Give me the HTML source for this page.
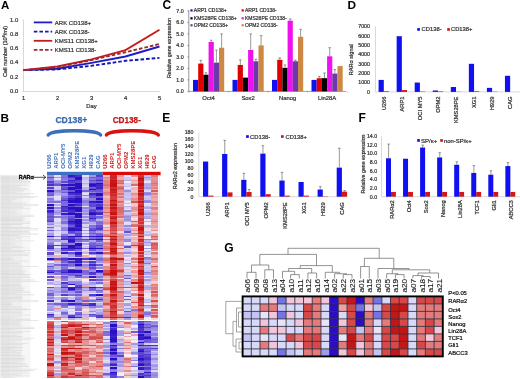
<!DOCTYPE html>
<html><head><meta charset="utf-8"><style>
html,body{margin:0;padding:0;background:#fff;}
body{width:520px;height:379px;overflow:hidden;}
svg{display:block;font-family:"Liberation Sans", sans-serif;filter:blur(0.35px);}
</style></head><body>
<svg width="520" height="379" viewBox="0 0 520 379">
<rect width="520" height="379" fill="#fff"/>
<text x="1.00" y="9.20" font-size="11.5" text-anchor="start" fill="#000" stroke="#000" stroke-width="0" font-weight="bold" >A</text>
<line x1="23.50" y1="20.00" x2="23.50" y2="91.50" stroke="#c8c8c8" stroke-width="0.7" />
<line x1="23.50" y1="91.50" x2="160.00" y2="91.50" stroke="#c8c8c8" stroke-width="0.7" />
<text x="18.20" y="93.00" font-size="5.9" text-anchor="end" fill="#333" stroke="#333" stroke-width="0.22" font-weight="normal" >0.0</text>
<line x1="22.30" y1="91.50" x2="23.50" y2="91.50" stroke="#c8c8c8" stroke-width="0.6" />
<text x="18.20" y="78.72" font-size="5.9" text-anchor="end" fill="#333" stroke="#333" stroke-width="0.22" font-weight="normal" >0.2</text>
<line x1="22.30" y1="77.22" x2="23.50" y2="77.22" stroke="#c8c8c8" stroke-width="0.6" />
<text x="18.20" y="64.44" font-size="5.9" text-anchor="end" fill="#333" stroke="#333" stroke-width="0.22" font-weight="normal" >0.4</text>
<line x1="22.30" y1="62.94" x2="23.50" y2="62.94" stroke="#c8c8c8" stroke-width="0.6" />
<text x="18.20" y="50.16" font-size="5.9" text-anchor="end" fill="#333" stroke="#333" stroke-width="0.22" font-weight="normal" >0.6</text>
<line x1="22.30" y1="48.66" x2="23.50" y2="48.66" stroke="#c8c8c8" stroke-width="0.6" />
<text x="18.20" y="35.88" font-size="5.9" text-anchor="end" fill="#333" stroke="#333" stroke-width="0.22" font-weight="normal" >0.8</text>
<line x1="22.30" y1="34.38" x2="23.50" y2="34.38" stroke="#c8c8c8" stroke-width="0.6" />
<text x="18.20" y="21.60" font-size="5.9" text-anchor="end" fill="#333" stroke="#333" stroke-width="0.22" font-weight="normal" >1.0</text>
<line x1="22.30" y1="20.10" x2="23.50" y2="20.10" stroke="#c8c8c8" stroke-width="0.6" />
<text x="23.50" y="100.40" font-size="5.8" text-anchor="middle" fill="#333" stroke="#333" stroke-width="0.22" font-weight="normal" >1</text>
<text x="57.50" y="100.40" font-size="5.8" text-anchor="middle" fill="#333" stroke="#333" stroke-width="0.22" font-weight="normal" >2</text>
<text x="91.50" y="100.40" font-size="5.8" text-anchor="middle" fill="#333" stroke="#333" stroke-width="0.22" font-weight="normal" >3</text>
<text x="125.50" y="100.40" font-size="5.8" text-anchor="middle" fill="#333" stroke="#333" stroke-width="0.22" font-weight="normal" >4</text>
<text x="159.50" y="100.40" font-size="5.8" text-anchor="middle" fill="#333" stroke="#333" stroke-width="0.22" font-weight="normal" >5</text>
<text x="91.50" y="107.60" font-size="5.8" text-anchor="middle" fill="#333" stroke="#333" stroke-width="0.22" font-weight="normal" >Day</text>
<text transform="translate(4.60,51.50) rotate(-90) scale(1.0,1)" x="0" y="0" dy="0.35em" font-size="5.6" text-anchor="middle" fill="#333" stroke="#333" stroke-width="0.22" font-weight="normal">Cell number (10<tspan font-size="3.6" dy="-1.4">6</tspan><tspan dy="1.4">/ml)</tspan></text>
<polyline points="23.5,70.1 57.5,68.7 91.5,62.9 125.5,56.5 159.5,46.5" fill="none" stroke="#1c1cc8" stroke-width="1.9" />
<polyline points="23.5,70.1 57.5,69.4 91.5,65.8 125.5,60.8 159.5,57.9" fill="none" stroke="#1818b0" stroke-width="1.9" stroke-dasharray="3.6,2"/>
<polyline points="23.5,70.1 57.5,66.5 91.5,59.4 125.5,50.1 159.5,29.7" fill="none" stroke="#c41c1c" stroke-width="1.9" />
<polyline points="23.5,70.1 57.5,67.2 91.5,60.1 125.5,52.2 159.5,44.0" fill="none" stroke="#a02828" stroke-width="1.9" stroke-dasharray="3.6,2"/>
<line x1="33.8" y1="22.4" x2="52.2" y2="22.4" stroke="#1c1cc8" stroke-width="1.8" />
<text x="54.80" y="24.60" font-size="6.0" text-anchor="start" fill="#333" stroke="#333" stroke-width="0.22" font-weight="normal" >ARK CD138+</text>
<line x1="33.8" y1="31.6" x2="52.2" y2="31.6" stroke="#1818b0" stroke-width="1.8" stroke-dasharray="3.6,2"/>
<text x="54.80" y="33.80" font-size="6.0" text-anchor="start" fill="#333" stroke="#333" stroke-width="0.22" font-weight="normal" >ARK CD138-</text>
<line x1="33.8" y1="40.8" x2="52.2" y2="40.8" stroke="#c41c1c" stroke-width="1.8" />
<text x="54.80" y="43.00" font-size="6.0" text-anchor="start" fill="#333" stroke="#333" stroke-width="0.22" font-weight="normal" >KMS11 CD138+</text>
<line x1="33.8" y1="49.8" x2="52.2" y2="49.8" stroke="#a02828" stroke-width="1.8" stroke-dasharray="3.6,2"/>
<text x="54.80" y="52.00" font-size="6.0" text-anchor="start" fill="#333" stroke="#333" stroke-width="0.22" font-weight="normal" >KMS11 CD138-</text>
<text x="162.50" y="9.30" font-size="12" text-anchor="start" fill="#000" stroke="#000" stroke-width="0" font-weight="bold" >C</text>
<line x1="188.80" y1="10.40" x2="188.80" y2="91.40" stroke="#8c8c8c" stroke-width="0.9" />
<line x1="188.80" y1="91.40" x2="346.00" y2="91.40" stroke="#8a8a8a" stroke-width="0.8" />
<line x1="189.20" y1="91.40" x2="189.20" y2="92.70" stroke="#8a8a8a" stroke-width="0.6" />
<line x1="228.70" y1="91.40" x2="228.70" y2="92.70" stroke="#8a8a8a" stroke-width="0.6" />
<line x1="268.20" y1="91.40" x2="268.20" y2="92.70" stroke="#8a8a8a" stroke-width="0.6" />
<line x1="307.70" y1="91.40" x2="307.70" y2="92.70" stroke="#8a8a8a" stroke-width="0.6" />
<line x1="347.20" y1="91.40" x2="347.20" y2="92.70" stroke="#8a8a8a" stroke-width="0.6" />
<text x="183.70" y="93.30" font-size="5.3" text-anchor="end" fill="#333" stroke="#333" stroke-width="0.22" font-weight="normal" >0.0</text>
<line x1="187.40" y1="91.40" x2="188.80" y2="91.40" stroke="#777" stroke-width="0.8" />
<text x="183.70" y="81.80" font-size="5.3" text-anchor="end" fill="#333" stroke="#333" stroke-width="0.22" font-weight="normal" >1.0</text>
<line x1="187.40" y1="79.90" x2="188.80" y2="79.90" stroke="#777" stroke-width="0.8" />
<text x="183.70" y="70.30" font-size="5.3" text-anchor="end" fill="#333" stroke="#333" stroke-width="0.22" font-weight="normal" >2.0</text>
<line x1="187.40" y1="68.40" x2="188.80" y2="68.40" stroke="#777" stroke-width="0.8" />
<text x="183.70" y="58.80" font-size="5.3" text-anchor="end" fill="#333" stroke="#333" stroke-width="0.22" font-weight="normal" >3.0</text>
<line x1="187.40" y1="56.90" x2="188.80" y2="56.90" stroke="#777" stroke-width="0.8" />
<text x="183.70" y="47.30" font-size="5.3" text-anchor="end" fill="#333" stroke="#333" stroke-width="0.22" font-weight="normal" >4.0</text>
<line x1="187.40" y1="45.40" x2="188.80" y2="45.40" stroke="#777" stroke-width="0.8" />
<text x="183.70" y="35.80" font-size="5.3" text-anchor="end" fill="#333" stroke="#333" stroke-width="0.22" font-weight="normal" >5.0</text>
<line x1="187.40" y1="33.90" x2="188.80" y2="33.90" stroke="#777" stroke-width="0.8" />
<text x="183.70" y="24.30" font-size="5.3" text-anchor="end" fill="#333" stroke="#333" stroke-width="0.22" font-weight="normal" >6.0</text>
<line x1="187.40" y1="22.40" x2="188.80" y2="22.40" stroke="#777" stroke-width="0.8" />
<text x="183.70" y="12.80" font-size="5.3" text-anchor="end" fill="#333" stroke="#333" stroke-width="0.22" font-weight="normal" >7.0</text>
<line x1="187.40" y1="10.90" x2="188.80" y2="10.90" stroke="#777" stroke-width="0.8" />
<text transform="translate(169.60,48.10) rotate(-90) scale(1.0,1)" x="0" y="0" dy="0.35em" font-size="5.35" text-anchor="middle" fill="#333" stroke="#333" stroke-width="0.22" font-weight="normal">Relative gene expression</text>
<rect x="193.00" y="79.90" width="5.20" height="11.50" fill="#1010f0" />
<rect x="198.20" y="63.57" width="5.20" height="27.83" fill="#e00000" />
<line x1="200.80" y1="63.57" x2="200.80" y2="60.35" stroke="#555" stroke-width="0.6" />
<line x1="199.50" y1="60.35" x2="202.10" y2="60.35" stroke="#555" stroke-width="0.6" />
<rect x="203.40" y="74.73" width="5.20" height="16.68" fill="#000000" />
<line x1="206.00" y1="74.73" x2="206.00" y2="72.77" stroke="#555" stroke-width="0.6" />
<line x1="204.70" y1="72.77" x2="207.30" y2="72.77" stroke="#555" stroke-width="0.6" />
<rect x="208.60" y="41.95" width="5.20" height="49.45" fill="#ee10ee" />
<line x1="211.20" y1="41.95" x2="211.20" y2="40.23" stroke="#555" stroke-width="0.6" />
<line x1="209.90" y1="40.23" x2="212.50" y2="40.23" stroke="#555" stroke-width="0.6" />
<rect x="213.80" y="62.65" width="5.20" height="28.75" fill="#6a3aa8" />
<line x1="216.40" y1="62.65" x2="216.40" y2="50.00" stroke="#555" stroke-width="0.6" />
<line x1="215.10" y1="50.00" x2="217.70" y2="50.00" stroke="#555" stroke-width="0.6" />
<rect x="219.00" y="47.70" width="5.20" height="43.70" fill="#cc8844" />
<line x1="221.60" y1="47.70" x2="221.60" y2="33.90" stroke="#555" stroke-width="0.6" />
<line x1="220.30" y1="33.90" x2="222.90" y2="33.90" stroke="#555" stroke-width="0.6" />
<text x="208.60" y="100.00" font-size="5.9" text-anchor="middle" fill="#333" stroke="#333" stroke-width="0.22" font-weight="normal" >Oct4</text>
<rect x="232.50" y="79.90" width="5.20" height="11.50" fill="#1010f0" />
<rect x="237.70" y="64.95" width="5.20" height="26.45" fill="#e00000" />
<line x1="240.30" y1="64.95" x2="240.30" y2="59.78" stroke="#555" stroke-width="0.6" />
<line x1="239.00" y1="59.78" x2="241.60" y2="59.78" stroke="#555" stroke-width="0.6" />
<rect x="242.90" y="77.60" width="5.20" height="13.80" fill="#000000" />
<rect x="248.10" y="50.00" width="5.20" height="41.40" fill="#ee10ee" />
<line x1="250.70" y1="50.00" x2="250.70" y2="33.90" stroke="#555" stroke-width="0.6" />
<line x1="249.40" y1="33.90" x2="252.00" y2="33.90" stroke="#555" stroke-width="0.6" />
<rect x="253.30" y="61.27" width="5.20" height="30.13" fill="#6a3aa8" />
<line x1="255.90" y1="61.27" x2="255.90" y2="59.20" stroke="#555" stroke-width="0.6" />
<line x1="254.60" y1="59.20" x2="257.20" y2="59.20" stroke="#555" stroke-width="0.6" />
<rect x="258.50" y="45.40" width="5.20" height="46.00" fill="#cc8844" />
<line x1="261.10" y1="45.40" x2="261.10" y2="35.63" stroke="#555" stroke-width="0.6" />
<line x1="259.80" y1="35.63" x2="262.40" y2="35.63" stroke="#555" stroke-width="0.6" />
<text x="248.10" y="100.00" font-size="5.9" text-anchor="middle" fill="#333" stroke="#333" stroke-width="0.22" font-weight="normal" >Sox2</text>
<rect x="272.00" y="79.90" width="5.20" height="11.50" fill="#1010f0" />
<rect x="277.20" y="59.78" width="5.20" height="31.62" fill="#e00000" />
<line x1="279.80" y1="59.78" x2="279.80" y2="57.82" stroke="#555" stroke-width="0.6" />
<line x1="278.50" y1="57.82" x2="281.10" y2="57.82" stroke="#555" stroke-width="0.6" />
<rect x="282.40" y="67.83" width="5.20" height="23.57" fill="#000000" />
<line x1="285.00" y1="67.83" x2="285.00" y2="64.95" stroke="#555" stroke-width="0.6" />
<line x1="283.70" y1="64.95" x2="286.30" y2="64.95" stroke="#555" stroke-width="0.6" />
<rect x="287.60" y="20.67" width="5.20" height="70.73" fill="#ee10ee" />
<line x1="290.20" y1="20.67" x2="290.20" y2="18.95" stroke="#555" stroke-width="0.6" />
<line x1="288.90" y1="18.95" x2="291.50" y2="18.95" stroke="#555" stroke-width="0.6" />
<rect x="292.80" y="61.27" width="5.20" height="30.13" fill="#6a3aa8" />
<line x1="295.40" y1="61.27" x2="295.40" y2="60.12" stroke="#555" stroke-width="0.6" />
<line x1="294.10" y1="60.12" x2="296.70" y2="60.12" stroke="#555" stroke-width="0.6" />
<rect x="298.00" y="36.78" width="5.20" height="54.62" fill="#cc8844" />
<line x1="300.60" y1="36.78" x2="300.60" y2="29.30" stroke="#555" stroke-width="0.6" />
<line x1="299.30" y1="29.30" x2="301.90" y2="29.30" stroke="#555" stroke-width="0.6" />
<text x="287.60" y="100.00" font-size="5.9" text-anchor="middle" fill="#333" stroke="#333" stroke-width="0.22" font-weight="normal" >Nanog</text>
<rect x="311.50" y="79.90" width="5.20" height="11.50" fill="#1010f0" />
<rect x="316.70" y="78.18" width="5.20" height="13.22" fill="#e00000" />
<line x1="319.30" y1="78.18" x2="319.30" y2="76.45" stroke="#555" stroke-width="0.6" />
<line x1="318.00" y1="76.45" x2="320.60" y2="76.45" stroke="#555" stroke-width="0.6" />
<rect x="321.90" y="78.18" width="5.20" height="13.22" fill="#000000" />
<line x1="324.50" y1="78.18" x2="324.50" y2="73.00" stroke="#555" stroke-width="0.6" />
<line x1="323.20" y1="73.00" x2="325.80" y2="73.00" stroke="#555" stroke-width="0.6" />
<rect x="327.10" y="56.33" width="5.20" height="35.07" fill="#ee10ee" />
<line x1="329.70" y1="56.33" x2="329.70" y2="47.70" stroke="#555" stroke-width="0.6" />
<line x1="328.40" y1="47.70" x2="331.00" y2="47.70" stroke="#555" stroke-width="0.6" />
<rect x="332.30" y="73.58" width="5.20" height="17.82" fill="#6a3aa8" />
<line x1="334.90" y1="73.58" x2="334.90" y2="69.55" stroke="#555" stroke-width="0.6" />
<line x1="333.60" y1="69.55" x2="336.20" y2="69.55" stroke="#555" stroke-width="0.6" />
<rect x="337.50" y="66.10" width="5.20" height="25.30" fill="#cc8844" />
<text x="327.10" y="100.00" font-size="5.9" text-anchor="middle" fill="#333" stroke="#333" stroke-width="0.22" font-weight="normal" >Lin28A</text>
<rect x="190.40" y="9.30" width="2.20" height="2.20" fill="#1010f0" />
<text x="193.80" y="12.20" font-size="5.0" text-anchor="start" fill="#333" stroke="#333" stroke-width="0.22" font-weight="normal" >ARP1 CD138+</text>
<rect x="190.40" y="17.20" width="2.20" height="2.20" fill="#000000" />
<text x="193.80" y="20.10" font-size="5.0" text-anchor="start" fill="#333" stroke="#333" stroke-width="0.22" font-weight="normal" >KMS28PE CD138+</text>
<rect x="190.40" y="24.20" width="2.20" height="2.20" fill="#6a3aa8" />
<text x="193.80" y="27.10" font-size="5.0" text-anchor="start" fill="#333" stroke="#333" stroke-width="0.22" font-weight="normal" >OPM2 CD138+</text>
<rect x="241.60" y="9.30" width="2.20" height="2.20" fill="#e00000" />
<text x="245.00" y="12.20" font-size="5.0" text-anchor="start" fill="#333" stroke="#333" stroke-width="0.22" font-weight="normal" >ARP1 CD138-</text>
<rect x="241.60" y="17.20" width="2.20" height="2.20" fill="#ee10ee" />
<text x="245.00" y="20.10" font-size="5.0" text-anchor="start" fill="#333" stroke="#333" stroke-width="0.22" font-weight="normal" >KMS28PE CD138-</text>
<rect x="241.60" y="24.20" width="2.20" height="2.20" fill="#cc8844" />
<text x="245.00" y="27.10" font-size="5.0" text-anchor="start" fill="#333" stroke="#333" stroke-width="0.22" font-weight="normal" >OPM2 CD138-</text>
<text x="347.60" y="8.90" font-size="11.8" text-anchor="start" fill="#000" stroke="#000" stroke-width="0" font-weight="bold" >D</text>
<line x1="375.50" y1="26.30" x2="375.50" y2="91.90" stroke="#c8c8c8" stroke-width="0.7" />
<line x1="375.50" y1="91.90" x2="520.00" y2="91.90" stroke="#c8c8c8" stroke-width="0.7" />
<text x="370.00" y="93.80" font-size="5.3" text-anchor="end" fill="#333" stroke="#333" stroke-width="0.22" font-weight="normal" >0</text>
<text x="370.00" y="84.44" font-size="5.3" text-anchor="end" fill="#333" stroke="#333" stroke-width="0.22" font-weight="normal" >1000</text>
<text x="370.00" y="75.08" font-size="5.3" text-anchor="end" fill="#333" stroke="#333" stroke-width="0.22" font-weight="normal" >2000</text>
<text x="370.00" y="65.72" font-size="5.3" text-anchor="end" fill="#333" stroke="#333" stroke-width="0.22" font-weight="normal" >3000</text>
<text x="370.00" y="56.36" font-size="5.3" text-anchor="end" fill="#333" stroke="#333" stroke-width="0.22" font-weight="normal" >4000</text>
<text x="370.00" y="47.00" font-size="5.3" text-anchor="end" fill="#333" stroke="#333" stroke-width="0.22" font-weight="normal" >5000</text>
<text x="370.00" y="37.64" font-size="5.3" text-anchor="end" fill="#333" stroke="#333" stroke-width="0.22" font-weight="normal" >6000</text>
<text x="370.00" y="28.28" font-size="5.3" text-anchor="end" fill="#333" stroke="#333" stroke-width="0.22" font-weight="normal" >7000</text>
<text transform="translate(351.20,59.70) rotate(-90) scale(1.0,1)" x="0" y="0" dy="0.35em" font-size="5.55" text-anchor="middle" fill="#333" stroke="#333" stroke-width="0.22" font-weight="normal">RAR&#945; signal</text>
<rect x="378.60" y="79.92" width="5.20" height="11.98" fill="#1010f0" />
<rect x="383.80" y="91.24" width="5.20" height="0.66" fill="#d01818" />
<text transform="translate(384.20,96.60) rotate(-90) scale(1.04,1)" x="0" y="0" dy="0.35em" font-size="5.5" text-anchor="end" fill="#333" stroke="#333" stroke-width="0.22" font-weight="normal">U266</text>
<rect x="396.65" y="36.21" width="5.20" height="55.69" fill="#1010f0" />
<rect x="401.85" y="90.03" width="5.20" height="1.87" fill="#d01818" />
<text transform="translate(402.25,96.60) rotate(-90) scale(1.04,1)" x="0" y="0" dy="0.35em" font-size="5.5" text-anchor="end" fill="#333" stroke="#333" stroke-width="0.22" font-weight="normal">ARP1</text>
<rect x="414.70" y="82.54" width="5.20" height="9.36" fill="#1010f0" />
<rect x="419.90" y="91.53" width="5.20" height="0.37" fill="#d01818" />
<text transform="translate(420.30,96.60) rotate(-90) scale(1.04,1)" x="0" y="0" dy="0.35em" font-size="5.5" text-anchor="end" fill="#333" stroke="#333" stroke-width="0.22" font-weight="normal">OCI MY5</text>
<rect x="432.75" y="90.50" width="5.20" height="1.40" fill="#1010f0" />
<rect x="437.95" y="91.34" width="5.20" height="0.56" fill="#d01818" />
<text transform="translate(438.35,96.60) rotate(-90) scale(1.04,1)" x="0" y="0" dy="0.35em" font-size="5.5" text-anchor="end" fill="#333" stroke="#333" stroke-width="0.22" font-weight="normal">OPM2</text>
<rect x="450.80" y="87.03" width="5.20" height="4.87" fill="#1010f0" />
<rect x="456.00" y="91.71" width="5.20" height="0.19" fill="#d01818" />
<text transform="translate(456.40,96.60) rotate(-90) scale(1.04,1)" x="0" y="0" dy="0.35em" font-size="5.5" text-anchor="end" fill="#333" stroke="#333" stroke-width="0.22" font-weight="normal">KMS28PE</text>
<rect x="468.85" y="63.82" width="5.20" height="28.08" fill="#1010f0" />
<rect x="474.05" y="91.24" width="5.20" height="0.66" fill="#d01818" />
<text transform="translate(474.45,96.60) rotate(-90) scale(1.04,1)" x="0" y="0" dy="0.35em" font-size="5.5" text-anchor="end" fill="#333" stroke="#333" stroke-width="0.22" font-weight="normal">XG1</text>
<rect x="486.90" y="87.88" width="5.20" height="4.02" fill="#1010f0" />
<rect x="492.10" y="91.62" width="5.20" height="0.28" fill="#d01818" />
<text transform="translate(492.50,96.60) rotate(-90) scale(1.04,1)" x="0" y="0" dy="0.35em" font-size="5.5" text-anchor="end" fill="#333" stroke="#333" stroke-width="0.22" font-weight="normal">H929</text>
<rect x="504.95" y="75.80" width="5.20" height="16.10" fill="#1010f0" />
<rect x="510.15" y="91.90" width="5.20" height="0.00" fill="#d01818" />
<text transform="translate(510.55,96.60) rotate(-90) scale(1.04,1)" x="0" y="0" dy="0.35em" font-size="5.5" text-anchor="end" fill="#333" stroke="#333" stroke-width="0.22" font-weight="normal">CAG</text>
<rect x="417.20" y="28.10" width="2.70" height="2.70" fill="#1010f0" />
<text x="421.60" y="31.40" font-size="5.8" text-anchor="start" fill="#333" stroke="#333" stroke-width="0.22" font-weight="normal" >CD138-</text>
<rect x="447.20" y="28.10" width="2.70" height="2.70" fill="#d01818" />
<text x="451.00" y="31.40" font-size="5.8" text-anchor="start" fill="#333" stroke="#333" stroke-width="0.22" font-weight="normal" >CD138+</text>
<text x="162.30" y="122.00" font-size="12" text-anchor="start" fill="#000" stroke="#000" stroke-width="0" font-weight="bold" >E</text>
<line x1="198.80" y1="132.10" x2="198.80" y2="196.70" stroke="#c8c8c8" stroke-width="0.7" />
<line x1="198.80" y1="196.70" x2="346.00" y2="196.70" stroke="#c8c8c8" stroke-width="0.7" />
<text x="193.30" y="198.60" font-size="5.2" text-anchor="end" fill="#333" stroke="#333" stroke-width="0.22" font-weight="normal" >0</text>
<text x="193.30" y="191.42" font-size="5.2" text-anchor="end" fill="#333" stroke="#333" stroke-width="0.22" font-weight="normal" >20</text>
<text x="193.30" y="184.24" font-size="5.2" text-anchor="end" fill="#333" stroke="#333" stroke-width="0.22" font-weight="normal" >40</text>
<text x="193.30" y="177.07" font-size="5.2" text-anchor="end" fill="#333" stroke="#333" stroke-width="0.22" font-weight="normal" >60</text>
<text x="193.30" y="169.89" font-size="5.2" text-anchor="end" fill="#333" stroke="#333" stroke-width="0.22" font-weight="normal" >80</text>
<text x="193.30" y="162.71" font-size="5.2" text-anchor="end" fill="#333" stroke="#333" stroke-width="0.22" font-weight="normal" >100</text>
<text x="193.30" y="155.53" font-size="5.2" text-anchor="end" fill="#333" stroke="#333" stroke-width="0.22" font-weight="normal" >120</text>
<text x="193.30" y="148.36" font-size="5.2" text-anchor="end" fill="#333" stroke="#333" stroke-width="0.22" font-weight="normal" >140</text>
<text x="193.30" y="141.18" font-size="5.2" text-anchor="end" fill="#333" stroke="#333" stroke-width="0.22" font-weight="normal" >160</text>
<text x="193.30" y="134.00" font-size="5.2" text-anchor="end" fill="#333" stroke="#333" stroke-width="0.22" font-weight="normal" >180</text>
<text transform="translate(175.10,166.10) rotate(-90) scale(1.0,1)" x="0" y="0" dy="0.35em" font-size="5.55" text-anchor="middle" fill="#333" stroke="#333" stroke-width="0.22" font-weight="normal">RAR&#945;2 expression</text>
<rect x="203.00" y="161.53" width="5.20" height="35.17" fill="#1010f0" />
<rect x="208.20" y="195.62" width="5.20" height="1.08" fill="#d01818" />
<text transform="translate(208.40,202.30) rotate(-90) scale(1.04,1)" x="0" y="0" dy="0.35em" font-size="5.5" text-anchor="end" fill="#333" stroke="#333" stroke-width="0.22" font-weight="normal">U266</text>
<rect x="222.10" y="153.99" width="5.20" height="42.71" fill="#1010f0" />
<line x1="224.75" y1="153.99" x2="224.75" y2="140.35" stroke="#555" stroke-width="0.6" />
<line x1="223.45" y1="140.35" x2="226.05" y2="140.35" stroke="#555" stroke-width="0.6" />
<rect x="227.30" y="192.39" width="5.20" height="4.31" fill="#d01818" />
<text transform="translate(227.50,202.30) rotate(-90) scale(1.04,1)" x="0" y="0" dy="0.35em" font-size="5.5" text-anchor="end" fill="#333" stroke="#333" stroke-width="0.22" font-weight="normal">ARP1</text>
<rect x="241.20" y="179.83" width="5.20" height="16.87" fill="#1010f0" />
<line x1="243.85" y1="179.83" x2="243.85" y2="173.37" stroke="#555" stroke-width="0.6" />
<line x1="242.55" y1="173.37" x2="245.15" y2="173.37" stroke="#555" stroke-width="0.6" />
<rect x="246.40" y="192.03" width="5.20" height="4.67" fill="#d01818" />
<line x1="249.05" y1="192.03" x2="249.05" y2="189.52" stroke="#555" stroke-width="0.6" />
<line x1="247.75" y1="189.52" x2="250.35" y2="189.52" stroke="#555" stroke-width="0.6" />
<text transform="translate(246.60,202.30) rotate(-90) scale(1.04,1)" x="0" y="0" dy="0.35em" font-size="5.5" text-anchor="end" fill="#333" stroke="#333" stroke-width="0.22" font-weight="normal">OCI MY5</text>
<rect x="260.30" y="153.63" width="5.20" height="43.07" fill="#1010f0" />
<line x1="262.95" y1="153.63" x2="262.95" y2="145.74" stroke="#555" stroke-width="0.6" />
<line x1="261.65" y1="145.74" x2="264.25" y2="145.74" stroke="#555" stroke-width="0.6" />
<rect x="265.50" y="194.19" width="5.20" height="2.51" fill="#d01818" />
<text transform="translate(265.70,202.30) rotate(-90) scale(1.04,1)" x="0" y="0" dy="0.35em" font-size="5.5" text-anchor="end" fill="#333" stroke="#333" stroke-width="0.22" font-weight="normal">OPM2</text>
<rect x="279.40" y="180.55" width="5.20" height="16.15" fill="#1010f0" />
<line x1="282.05" y1="180.55" x2="282.05" y2="172.30" stroke="#555" stroke-width="0.6" />
<line x1="280.75" y1="172.30" x2="283.35" y2="172.30" stroke="#555" stroke-width="0.6" />
<rect x="284.60" y="195.62" width="5.20" height="1.08" fill="#d01818" />
<text transform="translate(284.80,202.30) rotate(-90) scale(1.04,1)" x="0" y="0" dy="0.35em" font-size="5.5" text-anchor="end" fill="#333" stroke="#333" stroke-width="0.22" font-weight="normal">KMS28PE</text>
<rect x="298.50" y="181.99" width="5.20" height="14.71" fill="#1010f0" />
<rect x="303.70" y="195.62" width="5.20" height="1.08" fill="#d01818" />
<text transform="translate(303.90,202.30) rotate(-90) scale(1.04,1)" x="0" y="0" dy="0.35em" font-size="5.5" text-anchor="end" fill="#333" stroke="#333" stroke-width="0.22" font-weight="normal">XG1</text>
<rect x="317.60" y="189.52" width="5.20" height="7.18" fill="#1010f0" />
<line x1="320.25" y1="189.52" x2="320.25" y2="186.65" stroke="#555" stroke-width="0.6" />
<line x1="318.95" y1="186.65" x2="321.55" y2="186.65" stroke="#555" stroke-width="0.6" />
<rect x="322.80" y="196.34" width="5.20" height="0.36" fill="#d01818" />
<text transform="translate(323.00,202.30) rotate(-90) scale(1.04,1)" x="0" y="0" dy="0.35em" font-size="5.5" text-anchor="end" fill="#333" stroke="#333" stroke-width="0.22" font-weight="normal">H929</text>
<rect x="336.70" y="167.63" width="5.20" height="29.07" fill="#1010f0" />
<line x1="339.35" y1="167.63" x2="339.35" y2="148.25" stroke="#555" stroke-width="0.6" />
<line x1="338.05" y1="148.25" x2="340.65" y2="148.25" stroke="#555" stroke-width="0.6" />
<rect x="341.90" y="191.68" width="5.20" height="5.02" fill="#d01818" />
<line x1="344.55" y1="191.68" x2="344.55" y2="190.60" stroke="#555" stroke-width="0.6" />
<line x1="343.25" y1="190.60" x2="345.85" y2="190.60" stroke="#555" stroke-width="0.6" />
<text transform="translate(342.10,202.30) rotate(-90) scale(1.04,1)" x="0" y="0" dy="0.35em" font-size="5.5" text-anchor="end" fill="#333" stroke="#333" stroke-width="0.22" font-weight="normal">CAG</text>
<rect x="246.10" y="135.20" width="2.70" height="2.70" fill="#1010f0" />
<text x="250.00" y="138.60" font-size="5.9" text-anchor="start" fill="#333" stroke="#333" stroke-width="0.22" font-weight="normal" >CD138-</text>
<rect x="281.00" y="135.20" width="2.70" height="2.70" fill="#d01818" />
<text x="285.50" y="138.60" font-size="5.8" text-anchor="start" fill="#333" stroke="#333" stroke-width="0.22" font-weight="normal" >CD138+</text>
<text x="358.40" y="122.00" font-size="12" text-anchor="start" fill="#000" stroke="#000" stroke-width="0" font-weight="bold" >F</text>
<line x1="381.50" y1="136.30" x2="381.50" y2="196.70" stroke="#c8c8c8" stroke-width="0.7" />
<line x1="381.50" y1="196.70" x2="520.00" y2="196.70" stroke="#c8c8c8" stroke-width="0.7" />
<text x="377.20" y="198.60" font-size="5.3" text-anchor="end" fill="#333" stroke="#333" stroke-width="0.22" font-weight="normal" >0.0</text>
<text x="377.20" y="189.97" font-size="5.3" text-anchor="end" fill="#333" stroke="#333" stroke-width="0.22" font-weight="normal" >2.0</text>
<text x="377.20" y="181.34" font-size="5.3" text-anchor="end" fill="#333" stroke="#333" stroke-width="0.22" font-weight="normal" >4.0</text>
<text x="377.20" y="172.71" font-size="5.3" text-anchor="end" fill="#333" stroke="#333" stroke-width="0.22" font-weight="normal" >6.0</text>
<text x="377.20" y="164.09" font-size="5.3" text-anchor="end" fill="#333" stroke="#333" stroke-width="0.22" font-weight="normal" >8.0</text>
<text x="377.20" y="155.46" font-size="5.3" text-anchor="end" fill="#333" stroke="#333" stroke-width="0.22" font-weight="normal" >10.0</text>
<text x="377.20" y="146.83" font-size="5.3" text-anchor="end" fill="#333" stroke="#333" stroke-width="0.22" font-weight="normal" >12.0</text>
<text x="377.20" y="138.20" font-size="5.3" text-anchor="end" fill="#333" stroke="#333" stroke-width="0.22" font-weight="normal" >14.0</text>
<text transform="translate(363.00,164.00) rotate(-90) scale(1.0,1)" x="0" y="0" dy="0.35em" font-size="5.26" text-anchor="middle" fill="#333" stroke="#333" stroke-width="0.22" font-weight="normal">Relative gene expression</text>
<rect x="386.00" y="158.30" width="5.00" height="38.40" fill="#1010f0" />
<line x1="388.60" y1="158.30" x2="388.60" y2="144.07" stroke="#555" stroke-width="0.6" />
<line x1="387.30" y1="144.07" x2="389.90" y2="144.07" stroke="#555" stroke-width="0.6" />
<rect x="391.00" y="191.95" width="4.90" height="4.75" fill="#d01818" />
<text transform="translate(391.60,200.20) rotate(-90) scale(1.04,1)" x="0" y="0" dy="0.35em" font-size="5.5" text-anchor="end" fill="#333" stroke="#333" stroke-width="0.22" font-weight="normal">RAR&#945;2</text>
<rect x="403.05" y="158.73" width="5.00" height="37.97" fill="#1010f0" />
<rect x="408.05" y="191.95" width="4.90" height="4.75" fill="#d01818" />
<text transform="translate(408.65,200.20) rotate(-90) scale(1.04,1)" x="0" y="0" dy="0.35em" font-size="5.5" text-anchor="end" fill="#333" stroke="#333" stroke-width="0.22" font-weight="normal">Oct4</text>
<rect x="420.10" y="147.52" width="5.00" height="49.18" fill="#1010f0" />
<line x1="422.70" y1="147.52" x2="422.70" y2="145.14" stroke="#555" stroke-width="0.6" />
<line x1="421.40" y1="145.14" x2="424.00" y2="145.14" stroke="#555" stroke-width="0.6" />
<rect x="425.10" y="191.95" width="4.90" height="4.75" fill="#d01818" />
<text transform="translate(425.70,200.20) rotate(-90) scale(1.04,1)" x="0" y="0" dy="0.35em" font-size="5.5" text-anchor="end" fill="#333" stroke="#333" stroke-width="0.22" font-weight="normal">Sox2</text>
<rect x="437.15" y="157.44" width="5.00" height="39.26" fill="#1010f0" />
<line x1="439.75" y1="157.44" x2="439.75" y2="152.69" stroke="#555" stroke-width="0.6" />
<line x1="438.45" y1="152.69" x2="441.05" y2="152.69" stroke="#555" stroke-width="0.6" />
<rect x="442.15" y="191.95" width="4.90" height="4.75" fill="#d01818" />
<text transform="translate(442.75,200.20) rotate(-90) scale(1.04,1)" x="0" y="0" dy="0.35em" font-size="5.5" text-anchor="end" fill="#333" stroke="#333" stroke-width="0.22" font-weight="normal">Nanog</text>
<rect x="454.20" y="164.77" width="5.00" height="31.93" fill="#1010f0" />
<line x1="456.80" y1="164.77" x2="456.80" y2="161.75" stroke="#555" stroke-width="0.6" />
<line x1="455.50" y1="161.75" x2="458.10" y2="161.75" stroke="#555" stroke-width="0.6" />
<rect x="459.20" y="191.95" width="4.90" height="4.75" fill="#d01818" />
<text transform="translate(459.80,200.20) rotate(-90) scale(1.04,1)" x="0" y="0" dy="0.35em" font-size="5.5" text-anchor="end" fill="#333" stroke="#333" stroke-width="0.22" font-weight="normal">Lin28A</text>
<rect x="471.25" y="172.97" width="5.00" height="23.73" fill="#1010f0" />
<line x1="473.85" y1="172.97" x2="473.85" y2="165.64" stroke="#555" stroke-width="0.6" />
<line x1="472.55" y1="165.64" x2="475.15" y2="165.64" stroke="#555" stroke-width="0.6" />
<rect x="476.25" y="191.95" width="4.90" height="4.75" fill="#d01818" />
<text transform="translate(476.85,200.20) rotate(-90) scale(1.04,1)" x="0" y="0" dy="0.35em" font-size="5.5" text-anchor="end" fill="#333" stroke="#333" stroke-width="0.22" font-weight="normal">TCF1</text>
<rect x="488.30" y="174.70" width="5.00" height="22.00" fill="#1010f0" />
<line x1="490.90" y1="174.70" x2="490.90" y2="170.81" stroke="#555" stroke-width="0.6" />
<line x1="489.60" y1="170.81" x2="492.20" y2="170.81" stroke="#555" stroke-width="0.6" />
<rect x="493.30" y="191.95" width="4.90" height="4.75" fill="#d01818" />
<text transform="translate(493.90,200.20) rotate(-90) scale(1.04,1)" x="0" y="0" dy="0.35em" font-size="5.5" text-anchor="end" fill="#333" stroke="#333" stroke-width="0.22" font-weight="normal">Gli1</text>
<rect x="505.35" y="166.07" width="5.00" height="30.63" fill="#1010f0" />
<line x1="507.95" y1="166.07" x2="507.95" y2="162.62" stroke="#555" stroke-width="0.6" />
<line x1="506.65" y1="162.62" x2="509.25" y2="162.62" stroke="#555" stroke-width="0.6" />
<rect x="510.35" y="191.95" width="4.90" height="4.75" fill="#d01818" />
<text transform="translate(510.95,200.20) rotate(-90) scale(1.04,1)" x="0" y="0" dy="0.35em" font-size="5.5" text-anchor="end" fill="#333" stroke="#333" stroke-width="0.22" font-weight="normal">ABCC3</text>
<rect x="417.20" y="139.10" width="2.70" height="2.70" fill="#1010f0" />
<text x="421.00" y="142.50" font-size="6.0" text-anchor="start" fill="#333" stroke="#333" stroke-width="0.22" font-weight="normal" >SP/&#954;+</text>
<rect x="440.20" y="139.10" width="2.70" height="2.70" fill="#d01818" />
<text x="444.00" y="142.50" font-size="5.9" text-anchor="start" fill="#333" stroke="#333" stroke-width="0.22" font-weight="normal" >non-SP/&#954;+</text>
<text x="0.40" y="121.80" font-size="11.8" text-anchor="start" fill="#000" stroke="#000" stroke-width="0" font-weight="bold" >B</text>
<text x="71.30" y="123.20" font-size="8.6" text-anchor="middle" fill="#3a6aae" stroke="#3a6aae" stroke-width="0.25" font-weight="bold" >CD138+</text>
<text x="126.80" y="123.20" font-size="8.2" text-anchor="middle" fill="#c81818" stroke="#c81818" stroke-width="0.25" font-weight="bold" >CD138-</text>
<path d="M48.2,135.0 C51.2,129.3 97.6,129.3 100.6,135.0" fill="none" stroke="#3d70b8" stroke-width="3.4" stroke-linecap="round"/>
<path d="M54.2,131.6 C62.2,129.6 86.6,129.6 94.6,131.6" fill="none" stroke="#3d70b8" stroke-width="1.2" stroke-linecap="round"/>
<path d="M106.4,135.0 C109.4,129.3 155.3,129.3 158.3,135.0" fill="none" stroke="#dd1010" stroke-width="3.4" stroke-linecap="round"/>
<path d="M112.4,131.6 C120.4,129.6 144.3,129.6 152.3,131.6" fill="none" stroke="#dd1010" stroke-width="1.2" stroke-linecap="round"/>
<text transform="translate(49.48,168.80) rotate(-90) scale(1.16,1)" x="0" y="0" dy="0.35em" font-size="5.2" text-anchor="start" fill="#4070b8" stroke="#4070b8" stroke-width="0" font-weight="bold">U266</text>
<text transform="translate(56.44,168.80) rotate(-90) scale(1.16,1)" x="0" y="0" dy="0.35em" font-size="5.2" text-anchor="start" fill="#4070b8" stroke="#4070b8" stroke-width="0" font-weight="bold">ARP1</text>
<text transform="translate(63.41,168.80) rotate(-90) scale(1.16,1)" x="0" y="0" dy="0.35em" font-size="5.2" text-anchor="start" fill="#4070b8" stroke="#4070b8" stroke-width="0" font-weight="bold">OCI-MY5</text>
<text transform="translate(70.37,168.80) rotate(-90) scale(1.16,1)" x="0" y="0" dy="0.35em" font-size="5.2" text-anchor="start" fill="#4070b8" stroke="#4070b8" stroke-width="0" font-weight="bold">OPM2</text>
<text transform="translate(77.33,168.80) rotate(-90) scale(1.16,1)" x="0" y="0" dy="0.35em" font-size="5.2" text-anchor="start" fill="#4070b8" stroke="#4070b8" stroke-width="0" font-weight="bold">KMS28PE</text>
<text transform="translate(84.29,168.80) rotate(-90) scale(1.16,1)" x="0" y="0" dy="0.35em" font-size="5.2" text-anchor="start" fill="#4070b8" stroke="#4070b8" stroke-width="0" font-weight="bold">XG1</text>
<text transform="translate(91.26,168.80) rotate(-90) scale(1.16,1)" x="0" y="0" dy="0.35em" font-size="5.2" text-anchor="start" fill="#4070b8" stroke="#4070b8" stroke-width="0" font-weight="bold">H929</text>
<text transform="translate(98.22,168.80) rotate(-90) scale(1.16,1)" x="0" y="0" dy="0.35em" font-size="5.2" text-anchor="start" fill="#4070b8" stroke="#4070b8" stroke-width="0" font-weight="bold">CAG</text>
<text transform="translate(105.18,168.80) rotate(-90) scale(1.16,1)" x="0" y="0" dy="0.35em" font-size="5.2" text-anchor="start" fill="#cc1818" stroke="#cc1818" stroke-width="0" font-weight="bold">U266</text>
<text transform="translate(112.14,168.80) rotate(-90) scale(1.16,1)" x="0" y="0" dy="0.35em" font-size="5.2" text-anchor="start" fill="#cc1818" stroke="#cc1818" stroke-width="0" font-weight="bold">ARP1</text>
<text transform="translate(119.11,168.80) rotate(-90) scale(1.16,1)" x="0" y="0" dy="0.35em" font-size="5.2" text-anchor="start" fill="#cc1818" stroke="#cc1818" stroke-width="0" font-weight="bold">OCI-MY5</text>
<text transform="translate(126.07,168.80) rotate(-90) scale(1.16,1)" x="0" y="0" dy="0.35em" font-size="5.2" text-anchor="start" fill="#cc1818" stroke="#cc1818" stroke-width="0" font-weight="bold">OPM2</text>
<text transform="translate(133.03,168.80) rotate(-90) scale(1.16,1)" x="0" y="0" dy="0.35em" font-size="5.2" text-anchor="start" fill="#cc1818" stroke="#cc1818" stroke-width="0" font-weight="bold">KMS28PE</text>
<text transform="translate(139.99,168.80) rotate(-90) scale(1.16,1)" x="0" y="0" dy="0.35em" font-size="5.2" text-anchor="start" fill="#cc1818" stroke="#cc1818" stroke-width="0" font-weight="bold">XG1</text>
<text transform="translate(146.96,168.80) rotate(-90) scale(1.16,1)" x="0" y="0" dy="0.35em" font-size="5.2" text-anchor="start" fill="#cc1818" stroke="#cc1818" stroke-width="0" font-weight="bold">H929</text>
<text transform="translate(153.92,168.80) rotate(-90) scale(1.16,1)" x="0" y="0" dy="0.35em" font-size="5.2" text-anchor="start" fill="#cc1818" stroke="#cc1818" stroke-width="0" font-weight="bold">CAG</text>
<rect x="47.00" y="171.80" width="55.70" height="3.60" fill="#3d6fc4" />
<rect x="102.70" y="171.80" width="57.90" height="3.60" fill="#dd0a0a" />
<rect x="0.50" y="175.50" width="10.00" height="202.00" fill="#e8e8e8" />
<rect x="10.50" y="175.50" width="12.00" height="202.00" fill="#efefef" />
<rect x="22.50" y="175.50" width="8.00" height="202.00" fill="#f6f6f6" />
<rect x="0.50" y="175.70" width="18.00" height="0.70" fill="#d8d8d8" />
<rect x="0.50" y="177.05" width="28.00" height="0.70" fill="#dedede" />
<rect x="0.50" y="178.40" width="22.00" height="0.70" fill="#d8d8d8" />
<rect x="0.50" y="179.75" width="26.00" height="0.70" fill="#d8d8d8" />
<rect x="0.50" y="181.10" width="30.00" height="0.70" fill="#dedede" />
<rect x="0.50" y="182.45" width="30.00" height="0.70" fill="#dedede" />
<rect x="0.50" y="183.80" width="26.00" height="0.70" fill="#e2e2e2" />
<rect x="0.50" y="185.15" width="28.00" height="0.70" fill="#dedede" />
<rect x="0.50" y="186.50" width="18.00" height="0.70" fill="#d8d8d8" />
<rect x="0.50" y="187.85" width="26.00" height="0.70" fill="#d8d8d8" />
<rect x="0.50" y="189.20" width="28.00" height="0.70" fill="#e2e2e2" />
<rect x="0.50" y="190.55" width="24.00" height="0.70" fill="#d8d8d8" />
<rect x="0.50" y="191.90" width="16.00" height="0.70" fill="#dedede" />
<rect x="0.50" y="193.25" width="34.00" height="0.70" fill="#dedede" />
<rect x="0.50" y="194.60" width="28.00" height="0.70" fill="#e2e2e2" />
<rect x="0.50" y="195.95" width="38.00" height="0.70" fill="#dedede" />
<rect x="0.50" y="197.30" width="34.00" height="0.70" fill="#dedede" />
<rect x="0.50" y="198.65" width="16.00" height="0.70" fill="#d8d8d8" />
<rect x="0.50" y="200.00" width="12.00" height="0.70" fill="#e2e2e2" />
<rect x="0.50" y="201.35" width="12.00" height="0.70" fill="#e2e2e2" />
<rect x="0.50" y="202.70" width="26.00" height="0.70" fill="#d8d8d8" />
<rect x="0.50" y="204.05" width="38.00" height="0.70" fill="#e2e2e2" />
<rect x="0.50" y="205.40" width="38.00" height="0.70" fill="#e2e2e2" />
<rect x="0.50" y="206.75" width="24.00" height="0.70" fill="#d8d8d8" />
<rect x="0.50" y="208.10" width="30.00" height="0.70" fill="#e2e2e2" />
<rect x="0.50" y="209.45" width="16.00" height="0.70" fill="#e2e2e2" />
<rect x="0.50" y="210.80" width="14.00" height="0.70" fill="#dedede" />
<rect x="0.50" y="212.15" width="16.00" height="0.70" fill="#e2e2e2" />
<rect x="0.50" y="213.50" width="18.00" height="0.70" fill="#e2e2e2" />
<rect x="0.50" y="214.85" width="34.00" height="0.70" fill="#e2e2e2" />
<rect x="0.50" y="216.20" width="34.00" height="0.70" fill="#e2e2e2" />
<rect x="0.50" y="217.55" width="24.00" height="0.70" fill="#d8d8d8" />
<rect x="0.50" y="218.90" width="24.00" height="0.70" fill="#d8d8d8" />
<rect x="0.50" y="220.25" width="22.00" height="0.70" fill="#d8d8d8" />
<rect x="0.50" y="221.60" width="30.00" height="0.70" fill="#e2e2e2" />
<rect x="0.50" y="222.95" width="30.00" height="0.70" fill="#dedede" />
<rect x="0.50" y="224.30" width="22.00" height="0.70" fill="#d8d8d8" />
<rect x="0.50" y="225.65" width="12.00" height="0.70" fill="#e2e2e2" />
<rect x="0.50" y="227.00" width="30.00" height="0.70" fill="#d8d8d8" />
<rect x="0.50" y="228.35" width="38.00" height="0.70" fill="#dedede" />
<rect x="0.50" y="229.70" width="38.00" height="0.70" fill="#e2e2e2" />
<rect x="0.50" y="231.05" width="28.00" height="0.70" fill="#d8d8d8" />
<rect x="0.50" y="232.40" width="30.00" height="0.70" fill="#dedede" />
<rect x="0.50" y="233.75" width="38.00" height="0.70" fill="#d8d8d8" />
<rect x="0.50" y="235.10" width="18.00" height="0.70" fill="#d8d8d8" />
<rect x="0.50" y="236.45" width="30.00" height="0.70" fill="#e2e2e2" />
<rect x="0.50" y="237.80" width="20.00" height="0.70" fill="#dedede" />
<rect x="0.50" y="239.15" width="14.00" height="0.70" fill="#e2e2e2" />
<rect x="0.50" y="240.50" width="34.00" height="0.70" fill="#e2e2e2" />
<rect x="0.50" y="241.85" width="14.00" height="0.70" fill="#e2e2e2" />
<rect x="0.50" y="243.20" width="14.00" height="0.70" fill="#e2e2e2" />
<rect x="0.50" y="244.55" width="16.00" height="0.70" fill="#dedede" />
<rect x="0.50" y="245.90" width="20.00" height="0.70" fill="#e2e2e2" />
<rect x="0.50" y="247.25" width="24.00" height="0.70" fill="#dedede" />
<rect x="0.50" y="248.60" width="12.00" height="0.70" fill="#d8d8d8" />
<rect x="0.50" y="249.95" width="30.00" height="0.70" fill="#dedede" />
<rect x="0.50" y="251.30" width="24.00" height="0.70" fill="#d8d8d8" />
<rect x="0.50" y="252.65" width="30.00" height="0.70" fill="#e2e2e2" />
<rect x="0.50" y="254.00" width="28.00" height="0.70" fill="#e2e2e2" />
<rect x="0.50" y="255.35" width="28.00" height="0.70" fill="#dedede" />
<rect x="0.50" y="256.70" width="12.00" height="0.70" fill="#e2e2e2" />
<rect x="0.50" y="258.05" width="12.00" height="0.70" fill="#dedede" />
<rect x="0.50" y="259.40" width="14.00" height="0.70" fill="#d8d8d8" />
<rect x="0.50" y="260.75" width="28.00" height="0.70" fill="#dedede" />
<rect x="0.50" y="262.10" width="18.00" height="0.70" fill="#e2e2e2" />
<rect x="0.50" y="263.45" width="20.00" height="0.70" fill="#d8d8d8" />
<rect x="0.50" y="264.80" width="20.00" height="0.70" fill="#dedede" />
<rect x="0.50" y="266.15" width="38.00" height="0.70" fill="#dedede" />
<rect x="0.50" y="267.50" width="22.00" height="0.70" fill="#e2e2e2" />
<rect x="0.50" y="268.85" width="22.00" height="0.70" fill="#dedede" />
<rect x="0.50" y="270.20" width="24.00" height="0.70" fill="#e2e2e2" />
<rect x="0.50" y="271.55" width="26.00" height="0.70" fill="#d8d8d8" />
<rect x="0.50" y="272.90" width="24.00" height="0.70" fill="#d8d8d8" />
<rect x="0.50" y="274.25" width="30.00" height="0.70" fill="#d8d8d8" />
<rect x="0.50" y="275.60" width="28.00" height="0.70" fill="#dedede" />
<rect x="0.50" y="276.95" width="30.00" height="0.70" fill="#d8d8d8" />
<rect x="0.50" y="278.30" width="20.00" height="0.70" fill="#e2e2e2" />
<rect x="0.50" y="279.65" width="34.00" height="0.70" fill="#d8d8d8" />
<rect x="0.50" y="281.00" width="38.00" height="0.70" fill="#dedede" />
<rect x="0.50" y="282.35" width="20.00" height="0.70" fill="#e2e2e2" />
<rect x="0.50" y="283.70" width="20.00" height="0.70" fill="#d8d8d8" />
<rect x="0.50" y="285.05" width="20.00" height="0.70" fill="#d8d8d8" />
<rect x="0.50" y="286.40" width="22.00" height="0.70" fill="#dedede" />
<rect x="0.50" y="287.75" width="24.00" height="0.70" fill="#d8d8d8" />
<rect x="0.50" y="289.10" width="22.00" height="0.70" fill="#dedede" />
<rect x="0.50" y="290.45" width="24.00" height="0.70" fill="#d8d8d8" />
<rect x="0.50" y="291.80" width="30.00" height="0.70" fill="#d8d8d8" />
<rect x="0.50" y="293.15" width="16.00" height="0.70" fill="#dedede" />
<rect x="0.50" y="294.50" width="34.00" height="0.70" fill="#d8d8d8" />
<rect x="0.50" y="295.85" width="22.00" height="0.70" fill="#e2e2e2" />
<rect x="0.50" y="297.20" width="22.00" height="0.70" fill="#d8d8d8" />
<rect x="0.50" y="298.55" width="22.00" height="0.70" fill="#d8d8d8" />
<rect x="0.50" y="299.90" width="38.00" height="0.70" fill="#e2e2e2" />
<rect x="0.50" y="301.25" width="38.00" height="0.70" fill="#e2e2e2" />
<rect x="0.50" y="302.60" width="12.00" height="0.70" fill="#d8d8d8" />
<rect x="0.50" y="303.95" width="12.00" height="0.70" fill="#d8d8d8" />
<rect x="0.50" y="305.30" width="12.00" height="0.70" fill="#e2e2e2" />
<rect x="0.50" y="306.65" width="20.00" height="0.70" fill="#d8d8d8" />
<rect x="0.50" y="308.00" width="26.00" height="0.70" fill="#e2e2e2" />
<rect x="0.50" y="309.35" width="30.00" height="0.70" fill="#d8d8d8" />
<rect x="0.50" y="310.70" width="22.00" height="0.70" fill="#dedede" />
<rect x="0.50" y="312.05" width="22.00" height="0.70" fill="#dedede" />
<rect x="0.50" y="313.40" width="22.00" height="0.70" fill="#e2e2e2" />
<rect x="0.50" y="314.75" width="30.00" height="0.70" fill="#e2e2e2" />
<rect x="0.50" y="316.10" width="20.00" height="0.70" fill="#e2e2e2" />
<rect x="0.50" y="317.45" width="14.00" height="0.70" fill="#dedede" />
<rect x="0.50" y="318.80" width="30.00" height="0.70" fill="#d8d8d8" />
<rect x="0.50" y="320.15" width="38.00" height="0.70" fill="#dedede" />
<rect x="0.50" y="321.50" width="20.00" height="0.70" fill="#d8d8d8" />
<rect x="0.50" y="322.85" width="18.00" height="0.70" fill="#d8d8d8" />
<rect x="0.50" y="324.20" width="20.00" height="0.70" fill="#dedede" />
<rect x="0.50" y="325.55" width="22.00" height="0.70" fill="#dedede" />
<rect x="0.50" y="326.90" width="34.00" height="0.70" fill="#e2e2e2" />
<rect x="0.50" y="328.25" width="34.00" height="0.70" fill="#d8d8d8" />
<rect x="0.50" y="329.60" width="14.00" height="0.70" fill="#dedede" />
<rect x="0.50" y="330.95" width="30.00" height="0.70" fill="#e2e2e2" />
<rect x="0.50" y="332.30" width="22.00" height="0.70" fill="#d8d8d8" />
<rect x="0.50" y="333.65" width="18.00" height="0.70" fill="#e2e2e2" />
<rect x="0.50" y="335.00" width="16.00" height="0.70" fill="#dedede" />
<rect x="0.50" y="336.35" width="22.00" height="0.70" fill="#d8d8d8" />
<rect x="0.50" y="337.70" width="34.00" height="0.70" fill="#dedede" />
<rect x="0.50" y="339.05" width="30.00" height="0.70" fill="#e2e2e2" />
<rect x="0.50" y="340.40" width="20.00" height="0.70" fill="#dedede" />
<rect x="0.50" y="341.75" width="14.00" height="0.70" fill="#dedede" />
<rect x="0.50" y="343.10" width="28.00" height="0.70" fill="#dedede" />
<rect x="0.50" y="344.45" width="22.00" height="0.70" fill="#d8d8d8" />
<rect x="0.50" y="345.80" width="16.00" height="0.70" fill="#e2e2e2" />
<rect x="0.50" y="347.15" width="22.00" height="0.70" fill="#d8d8d8" />
<rect x="0.50" y="348.50" width="14.00" height="0.70" fill="#d8d8d8" />
<rect x="0.50" y="349.85" width="22.00" height="0.70" fill="#d8d8d8" />
<rect x="0.50" y="351.20" width="16.00" height="0.70" fill="#e2e2e2" />
<rect x="0.50" y="352.55" width="20.00" height="0.70" fill="#d8d8d8" />
<rect x="0.50" y="353.90" width="20.00" height="0.70" fill="#e2e2e2" />
<rect x="0.50" y="355.25" width="22.00" height="0.70" fill="#d8d8d8" />
<rect x="0.50" y="356.60" width="24.00" height="0.70" fill="#e2e2e2" />
<rect x="0.50" y="357.95" width="24.00" height="0.70" fill="#d8d8d8" />
<rect x="0.50" y="359.30" width="24.00" height="0.70" fill="#dedede" />
<rect x="0.50" y="360.65" width="24.00" height="0.70" fill="#dedede" />
<rect x="0.50" y="362.00" width="18.00" height="0.70" fill="#dedede" />
<rect x="0.50" y="363.35" width="26.00" height="0.70" fill="#d8d8d8" />
<rect x="0.50" y="364.70" width="28.00" height="0.70" fill="#e2e2e2" />
<rect x="0.50" y="366.05" width="28.00" height="0.70" fill="#d8d8d8" />
<rect x="0.50" y="367.40" width="18.00" height="0.70" fill="#dedede" />
<rect x="0.50" y="368.75" width="38.00" height="0.70" fill="#e2e2e2" />
<rect x="0.50" y="370.10" width="34.00" height="0.70" fill="#d8d8d8" />
<rect x="0.50" y="371.45" width="28.00" height="0.70" fill="#e2e2e2" />
<rect x="0.50" y="372.80" width="28.00" height="0.70" fill="#e2e2e2" />
<rect x="0.50" y="374.15" width="18.00" height="0.70" fill="#dedede" />
<rect x="0.50" y="375.50" width="30.00" height="0.70" fill="#e2e2e2" />
<rect x="0.50" y="376.85" width="14.00" height="0.70" fill="#dedede" />
<text x="18.80" y="179.30" font-size="5.4" text-anchor="start" fill="#000" stroke="#000" stroke-width="0.3" font-weight="bold" >RAR&#945;</text>
<line x1="33.60" y1="177.30" x2="45.60" y2="177.30" stroke="#222" stroke-width="0.8" />
<path d="M43.0,175.1 L45.8,177.3 L43.0,179.5" fill="none" stroke="#222" stroke-width="0.8"/>
<g shape-rendering="crispEdges"><rect x="47.00" y="175.40" width="7.01" height="1.56" fill="#9f92e4"/><rect x="53.96" y="175.40" width="7.01" height="1.56" fill="#e4e0f8"/><rect x="60.92" y="175.40" width="7.01" height="1.56" fill="#806fdc"/><rect x="67.89" y="175.40" width="7.01" height="1.56" fill="#3419c7"/><rect x="74.85" y="175.40" width="7.01" height="1.56" fill="#4a32cd"/><rect x="81.81" y="175.40" width="7.01" height="1.56" fill="#e4e0f8"/><rect x="88.78" y="175.40" width="7.01" height="1.56" fill="#a396e5"/><rect x="95.74" y="175.40" width="7.01" height="1.56" fill="#533ccf"/><rect x="102.70" y="175.40" width="7.01" height="1.56" fill="#efbdc0"/><rect x="109.66" y="175.40" width="7.01" height="1.56" fill="#cd2829"/><rect x="116.62" y="175.40" width="7.01" height="1.56" fill="#e69799"/><rect x="123.59" y="175.40" width="7.01" height="1.56" fill="#e8e4f9"/><rect x="130.55" y="175.40" width="7.01" height="1.56" fill="#e69396"/><rect x="137.51" y="175.40" width="7.01" height="1.56" fill="#d13737"/><rect x="144.48" y="175.40" width="7.01" height="1.56" fill="#c4bcef"/><rect x="151.44" y="175.40" width="7.01" height="1.56" fill="#df787a"/><rect x="47.00" y="176.91" width="7.01" height="1.56" fill="#5e49d3"/><rect x="53.96" y="176.91" width="7.01" height="1.56" fill="#a69ae6"/><rect x="60.92" y="176.91" width="7.01" height="1.56" fill="#7d6bdb"/><rect x="67.89" y="176.91" width="7.01" height="1.56" fill="#4e37ce"/><rect x="74.85" y="176.91" width="7.01" height="1.56" fill="#2a0ec4"/><rect x="81.81" y="176.91" width="7.01" height="1.56" fill="#bfb6ed"/><rect x="88.78" y="176.91" width="7.01" height="1.56" fill="#6e5ad7"/><rect x="95.74" y="176.91" width="7.01" height="1.56" fill="#7c6bdb"/><rect x="102.70" y="176.91" width="7.01" height="1.56" fill="#e28284"/><rect x="109.66" y="176.91" width="7.01" height="1.56" fill="#cc2121"/><rect x="116.62" y="176.91" width="7.01" height="1.56" fill="#ecafb2"/><rect x="123.59" y="176.91" width="7.01" height="1.56" fill="#d2ccf3"/><rect x="130.55" y="176.91" width="7.01" height="1.56" fill="#f5d9dd"/><rect x="137.51" y="176.91" width="7.01" height="1.56" fill="#cd2828"/><rect x="144.48" y="176.91" width="7.01" height="1.56" fill="#a598e6"/><rect x="151.44" y="176.91" width="7.01" height="1.56" fill="#e69698"/><rect x="47.00" y="178.41" width="7.01" height="1.56" fill="#8e7fe0"/><rect x="53.96" y="178.41" width="7.01" height="1.56" fill="#e4e0f8"/><rect x="60.92" y="178.41" width="7.01" height="1.56" fill="#8575dd"/><rect x="67.89" y="178.41" width="7.01" height="1.56" fill="#7361d8"/><rect x="74.85" y="178.41" width="7.01" height="1.56" fill="#2a0ec4"/><rect x="81.81" y="178.41" width="7.01" height="1.56" fill="#c4bcef"/><rect x="88.78" y="178.41" width="7.01" height="1.56" fill="#8878de"/><rect x="95.74" y="178.41" width="7.01" height="1.56" fill="#6e5bd7"/><rect x="102.70" y="178.41" width="7.01" height="1.56" fill="#e7989a"/><rect x="109.66" y="178.41" width="7.01" height="1.56" fill="#ce2c2c"/><rect x="116.62" y="178.41" width="7.01" height="1.56" fill="#ebaaad"/><rect x="123.59" y="178.41" width="7.01" height="1.56" fill="#cfc8f2"/><rect x="130.55" y="178.41" width="7.01" height="1.56" fill="#f1c8cb"/><rect x="137.51" y="178.41" width="7.01" height="1.56" fill="#c81010"/><rect x="144.48" y="178.41" width="7.01" height="1.56" fill="#beb5ed"/><rect x="151.44" y="178.41" width="7.01" height="1.56" fill="#e59294"/><rect x="47.00" y="179.92" width="7.01" height="1.56" fill="#9284e1"/><rect x="53.96" y="179.92" width="7.01" height="1.56" fill="#b1a6e9"/><rect x="60.92" y="179.92" width="7.01" height="1.56" fill="#9486e1"/><rect x="67.89" y="179.92" width="7.01" height="1.56" fill="#3d24c9"/><rect x="74.85" y="179.92" width="7.01" height="1.56" fill="#5842d1"/><rect x="81.81" y="179.92" width="7.01" height="1.56" fill="#cfc8f2"/><rect x="88.78" y="179.92" width="7.01" height="1.56" fill="#624dd3"/><rect x="95.74" y="179.92" width="7.01" height="1.56" fill="#4229cb"/><rect x="102.70" y="179.92" width="7.01" height="1.56" fill="#e28385"/><rect x="109.66" y="179.92" width="7.01" height="1.56" fill="#ca1818"/><rect x="116.62" y="179.92" width="7.01" height="1.56" fill="#dd6c6e"/><rect x="123.59" y="179.92" width="7.01" height="1.56" fill="#b5abeb"/><rect x="130.55" y="179.92" width="7.01" height="1.56" fill="#e89fa2"/><rect x="137.51" y="179.92" width="7.01" height="1.56" fill="#ca1717"/><rect x="144.48" y="179.92" width="7.01" height="1.56" fill="#d3cdf3"/><rect x="151.44" y="179.92" width="7.01" height="1.56" fill="#e48d8f"/><rect x="47.00" y="181.43" width="7.01" height="1.56" fill="#5842d1"/><rect x="53.96" y="181.43" width="7.01" height="1.56" fill="#9e91e4"/><rect x="60.92" y="181.43" width="7.01" height="1.56" fill="#5f4ad3"/><rect x="67.89" y="181.43" width="7.01" height="1.56" fill="#513acf"/><rect x="74.85" y="181.43" width="7.01" height="1.56" fill="#5b46d2"/><rect x="81.81" y="181.43" width="7.01" height="1.56" fill="#d6d0f4"/><rect x="88.78" y="181.43" width="7.01" height="1.56" fill="#7c6bdb"/><rect x="95.74" y="181.43" width="7.01" height="1.56" fill="#7260d8"/><rect x="102.70" y="181.43" width="7.01" height="1.56" fill="#e18183"/><rect x="109.66" y="181.43" width="7.01" height="1.56" fill="#ca1a1a"/><rect x="116.62" y="181.43" width="7.01" height="1.56" fill="#e0797b"/><rect x="123.59" y="181.43" width="7.01" height="1.56" fill="#f0edfb"/><rect x="130.55" y="181.43" width="7.01" height="1.56" fill="#eebabd"/><rect x="137.51" y="181.43" width="7.01" height="1.56" fill="#ce2a2b"/><rect x="144.48" y="181.43" width="7.01" height="1.56" fill="#f7e0e3"/><rect x="151.44" y="181.43" width="7.01" height="1.56" fill="#e3898c"/><rect x="47.00" y="182.93" width="7.01" height="1.56" fill="#7563d9"/><rect x="53.96" y="182.93" width="7.01" height="1.56" fill="#8474dd"/><rect x="60.92" y="182.93" width="7.01" height="1.56" fill="#ab9fe8"/><rect x="67.89" y="182.93" width="7.01" height="1.56" fill="#644fd4"/><rect x="74.85" y="182.93" width="7.01" height="1.56" fill="#2a0ec4"/><rect x="81.81" y="182.93" width="7.01" height="1.56" fill="#b8afec"/><rect x="88.78" y="182.93" width="7.01" height="1.56" fill="#472ecc"/><rect x="95.74" y="182.93" width="7.01" height="1.56" fill="#2a0ec4"/><rect x="102.70" y="182.93" width="7.01" height="1.56" fill="#e28284"/><rect x="109.66" y="182.93" width="7.01" height="1.56" fill="#c81010"/><rect x="116.62" y="182.93" width="7.01" height="1.56" fill="#db6466"/><rect x="123.59" y="182.93" width="7.01" height="1.56" fill="#d3cdf3"/><rect x="130.55" y="182.93" width="7.01" height="1.56" fill="#ecaeb1"/><rect x="137.51" y="182.93" width="7.01" height="1.56" fill="#c81010"/><rect x="144.48" y="182.93" width="7.01" height="1.56" fill="#b7adeb"/><rect x="151.44" y="182.93" width="7.01" height="1.56" fill="#de7173"/><rect x="47.00" y="184.44" width="7.01" height="1.56" fill="#4931cd"/><rect x="53.96" y="184.44" width="7.01" height="1.56" fill="#6a56d6"/><rect x="60.92" y="184.44" width="7.01" height="1.56" fill="#3419c7"/><rect x="67.89" y="184.44" width="7.01" height="1.56" fill="#2b0fc4"/><rect x="74.85" y="184.44" width="7.01" height="1.56" fill="#2a0ec4"/><rect x="81.81" y="184.44" width="7.01" height="1.56" fill="#d0c9f2"/><rect x="88.78" y="184.44" width="7.01" height="1.56" fill="#2a0ec4"/><rect x="95.74" y="184.44" width="7.01" height="1.56" fill="#3e25ca"/><rect x="102.70" y="184.44" width="7.01" height="1.56" fill="#de7172"/><rect x="109.66" y="184.44" width="7.01" height="1.56" fill="#c81010"/><rect x="116.62" y="184.44" width="7.01" height="1.56" fill="#e9a4a7"/><rect x="123.59" y="184.44" width="7.01" height="1.56" fill="#d6d0f4"/><rect x="130.55" y="184.44" width="7.01" height="1.56" fill="#dc696b"/><rect x="137.51" y="184.44" width="7.01" height="1.56" fill="#c81010"/><rect x="144.48" y="184.44" width="7.01" height="1.56" fill="#b2a8ea"/><rect x="151.44" y="184.44" width="7.01" height="1.56" fill="#e28587"/><rect x="47.00" y="185.94" width="7.01" height="1.56" fill="#c1b9ee"/><rect x="53.96" y="185.94" width="7.01" height="1.56" fill="#d5cff3"/><rect x="60.92" y="185.94" width="7.01" height="1.56" fill="#705cd7"/><rect x="67.89" y="185.94" width="7.01" height="1.56" fill="#715ed8"/><rect x="74.85" y="185.94" width="7.01" height="1.56" fill="#2a0ec4"/><rect x="81.81" y="185.94" width="7.01" height="1.56" fill="#e4e0f8"/><rect x="88.78" y="185.94" width="7.01" height="1.56" fill="#3f26ca"/><rect x="95.74" y="185.94" width="7.01" height="1.56" fill="#462ecc"/><rect x="102.70" y="185.94" width="7.01" height="1.56" fill="#e17f81"/><rect x="109.66" y="185.94" width="7.01" height="1.56" fill="#c81010"/><rect x="116.62" y="185.94" width="7.01" height="1.56" fill="#e07a7c"/><rect x="123.59" y="185.94" width="7.01" height="1.56" fill="#c8c0f0"/><rect x="130.55" y="185.94" width="7.01" height="1.56" fill="#f9e8ec"/><rect x="137.51" y="185.94" width="7.01" height="1.56" fill="#ce2b2b"/><rect x="144.48" y="185.94" width="7.01" height="1.56" fill="#bab1ec"/><rect x="151.44" y="185.94" width="7.01" height="1.56" fill="#e7989a"/><rect x="47.00" y="187.45" width="7.01" height="1.56" fill="#563fd0"/><rect x="53.96" y="187.45" width="7.01" height="1.56" fill="#d0caf2"/><rect x="60.92" y="187.45" width="7.01" height="1.56" fill="#6450d4"/><rect x="67.89" y="187.45" width="7.01" height="1.56" fill="#2a0ec4"/><rect x="74.85" y="187.45" width="7.01" height="1.56" fill="#2a0ec4"/><rect x="81.81" y="187.45" width="7.01" height="1.56" fill="#b8aeeb"/><rect x="88.78" y="187.45" width="7.01" height="1.56" fill="#6a56d6"/><rect x="95.74" y="187.45" width="7.01" height="1.56" fill="#3c22c9"/><rect x="102.70" y="187.45" width="7.01" height="1.56" fill="#e48b8e"/><rect x="109.66" y="187.45" width="7.01" height="1.56" fill="#cf3132"/><rect x="116.62" y="187.45" width="7.01" height="1.56" fill="#da6162"/><rect x="123.59" y="187.45" width="7.01" height="1.56" fill="#e9e5f9"/><rect x="130.55" y="187.45" width="7.01" height="1.56" fill="#edb5b8"/><rect x="137.51" y="187.45" width="7.01" height="1.56" fill="#cc2020"/><rect x="144.48" y="187.45" width="7.01" height="1.56" fill="#a99de7"/><rect x="151.44" y="187.45" width="7.01" height="1.56" fill="#e28385"/><rect x="47.00" y="188.96" width="7.01" height="1.56" fill="#b7adeb"/><rect x="53.96" y="188.96" width="7.01" height="1.56" fill="#c8c1f0"/><rect x="60.92" y="188.96" width="7.01" height="1.56" fill="#513acf"/><rect x="67.89" y="188.96" width="7.01" height="1.56" fill="#2a0ec4"/><rect x="74.85" y="188.96" width="7.01" height="1.56" fill="#5741d0"/><rect x="81.81" y="188.96" width="7.01" height="1.56" fill="#bab0ec"/><rect x="88.78" y="188.96" width="7.01" height="1.56" fill="#2a0ec4"/><rect x="95.74" y="188.96" width="7.01" height="1.56" fill="#5d48d2"/><rect x="102.70" y="188.96" width="7.01" height="1.56" fill="#ecaeb1"/><rect x="109.66" y="188.96" width="7.01" height="1.56" fill="#c81010"/><rect x="116.62" y="188.96" width="7.01" height="1.56" fill="#de7173"/><rect x="123.59" y="188.96" width="7.01" height="1.56" fill="#d0c9f2"/><rect x="130.55" y="188.96" width="7.01" height="1.56" fill="#edb5b8"/><rect x="137.51" y="188.96" width="7.01" height="1.56" fill="#d54849"/><rect x="144.48" y="188.96" width="7.01" height="1.56" fill="#c8c0f0"/><rect x="151.44" y="188.96" width="7.01" height="1.56" fill="#ebadaf"/><rect x="47.00" y="190.46" width="7.01" height="1.56" fill="#2a0ec4"/><rect x="53.96" y="190.46" width="7.01" height="1.56" fill="#9688e2"/><rect x="60.92" y="190.46" width="7.01" height="1.56" fill="#8b7bdf"/><rect x="67.89" y="190.46" width="7.01" height="1.56" fill="#6955d5"/><rect x="74.85" y="190.46" width="7.01" height="1.56" fill="#2a0ec4"/><rect x="81.81" y="190.46" width="7.01" height="1.56" fill="#7461d8"/><rect x="88.78" y="190.46" width="7.01" height="1.56" fill="#6a56d6"/><rect x="95.74" y="190.46" width="7.01" height="1.56" fill="#6955d6"/><rect x="102.70" y="190.46" width="7.01" height="1.56" fill="#e79a9d"/><rect x="109.66" y="190.46" width="7.01" height="1.56" fill="#cd2425"/><rect x="116.62" y="190.46" width="7.01" height="1.56" fill="#e48e90"/><rect x="123.59" y="190.46" width="7.01" height="1.56" fill="#9d90e4"/><rect x="130.55" y="190.46" width="7.01" height="1.56" fill="#f1c5c9"/><rect x="137.51" y="190.46" width="7.01" height="1.56" fill="#c81010"/><rect x="144.48" y="190.46" width="7.01" height="1.56" fill="#dfdbf6"/><rect x="151.44" y="190.46" width="7.01" height="1.56" fill="#d95d5f"/><rect x="47.00" y="191.97" width="7.01" height="1.56" fill="#705dd7"/><rect x="53.96" y="191.97" width="7.01" height="1.56" fill="#a79be7"/><rect x="60.92" y="191.97" width="7.01" height="1.56" fill="#705dd7"/><rect x="67.89" y="191.97" width="7.01" height="1.56" fill="#2a0ec4"/><rect x="74.85" y="191.97" width="7.01" height="1.56" fill="#2a0ec4"/><rect x="81.81" y="191.97" width="7.01" height="1.56" fill="#d4cdf3"/><rect x="88.78" y="191.97" width="7.01" height="1.56" fill="#9182e0"/><rect x="95.74" y="191.97" width="7.01" height="1.56" fill="#7c6adb"/><rect x="102.70" y="191.97" width="7.01" height="1.56" fill="#e0787a"/><rect x="109.66" y="191.97" width="7.01" height="1.56" fill="#cb1e1f"/><rect x="116.62" y="191.97" width="7.01" height="1.56" fill="#e79b9e"/><rect x="123.59" y="191.97" width="7.01" height="1.56" fill="#c2baee"/><rect x="130.55" y="191.97" width="7.01" height="1.56" fill="#efbcbf"/><rect x="137.51" y="191.97" width="7.01" height="1.56" fill="#d13a3b"/><rect x="144.48" y="191.97" width="7.01" height="1.56" fill="#9a8de3"/><rect x="151.44" y="191.97" width="7.01" height="1.56" fill="#ecb2b4"/><rect x="47.00" y="193.47" width="7.01" height="1.56" fill="#7765d9"/><rect x="53.96" y="193.47" width="7.01" height="1.56" fill="#b6aceb"/><rect x="60.92" y="193.47" width="7.01" height="1.56" fill="#a397e6"/><rect x="67.89" y="193.47" width="7.01" height="1.56" fill="#4830cc"/><rect x="74.85" y="193.47" width="7.01" height="1.56" fill="#4128ca"/><rect x="81.81" y="193.47" width="7.01" height="1.56" fill="#e3dff7"/><rect x="88.78" y="193.47" width="7.01" height="1.56" fill="#4128ca"/><rect x="95.74" y="193.47" width="7.01" height="1.56" fill="#2a0ec4"/><rect x="102.70" y="193.47" width="7.01" height="1.56" fill="#e28385"/><rect x="109.66" y="193.47" width="7.01" height="1.56" fill="#cf3031"/><rect x="116.62" y="193.47" width="7.01" height="1.56" fill="#de7172"/><rect x="123.59" y="193.47" width="7.01" height="1.56" fill="#c9c2f0"/><rect x="130.55" y="193.47" width="7.01" height="1.56" fill="#e58f92"/><rect x="137.51" y="193.47" width="7.01" height="1.56" fill="#c91313"/><rect x="144.48" y="193.47" width="7.01" height="1.56" fill="#8f80e0"/><rect x="151.44" y="193.47" width="7.01" height="1.56" fill="#e28385"/><rect x="47.00" y="194.98" width="7.01" height="1.56" fill="#6b58d6"/><rect x="53.96" y="194.98" width="7.01" height="1.56" fill="#cac3f0"/><rect x="60.92" y="194.98" width="7.01" height="1.56" fill="#a093e5"/><rect x="67.89" y="194.98" width="7.01" height="1.56" fill="#7361d8"/><rect x="74.85" y="194.98" width="7.01" height="1.56" fill="#634ed4"/><rect x="81.81" y="194.98" width="7.01" height="1.56" fill="#9485e1"/><rect x="88.78" y="194.98" width="7.01" height="1.56" fill="#5c46d2"/><rect x="95.74" y="194.98" width="7.01" height="1.56" fill="#2a0ec4"/><rect x="102.70" y="194.98" width="7.01" height="1.56" fill="#e9a1a4"/><rect x="109.66" y="194.98" width="7.01" height="1.56" fill="#cc2323"/><rect x="116.62" y="194.98" width="7.01" height="1.56" fill="#eaa8ab"/><rect x="123.59" y="194.98" width="7.01" height="1.56" fill="#c7bfef"/><rect x="130.55" y="194.98" width="7.01" height="1.56" fill="#eaa8ab"/><rect x="137.51" y="194.98" width="7.01" height="1.56" fill="#ca1a1a"/><rect x="144.48" y="194.98" width="7.01" height="1.56" fill="#b3a9ea"/><rect x="151.44" y="194.98" width="7.01" height="1.56" fill="#ecb0b3"/><rect x="47.00" y="196.49" width="7.01" height="1.56" fill="#c4bcef"/><rect x="53.96" y="196.49" width="7.01" height="1.56" fill="#e4e0f8"/><rect x="60.92" y="196.49" width="7.01" height="1.56" fill="#8473dd"/><rect x="67.89" y="196.49" width="7.01" height="1.56" fill="#5f4ad3"/><rect x="74.85" y="196.49" width="7.01" height="1.56" fill="#472ecc"/><rect x="81.81" y="196.49" width="7.01" height="1.56" fill="#d6d1f4"/><rect x="88.78" y="196.49" width="7.01" height="1.56" fill="#6c58d6"/><rect x="95.74" y="196.49" width="7.01" height="1.56" fill="#6853d5"/><rect x="102.70" y="196.49" width="7.01" height="1.56" fill="#efbbbe"/><rect x="109.66" y="196.49" width="7.01" height="1.56" fill="#d33f40"/><rect x="116.62" y="196.49" width="7.01" height="1.56" fill="#df7879"/><rect x="123.59" y="196.49" width="7.01" height="1.56" fill="#cfc9f2"/><rect x="130.55" y="196.49" width="7.01" height="1.56" fill="#ecaeb1"/><rect x="137.51" y="196.49" width="7.01" height="1.56" fill="#d13636"/><rect x="144.48" y="196.49" width="7.01" height="1.56" fill="#cdc7f1"/><rect x="151.44" y="196.49" width="7.01" height="1.56" fill="#e7999c"/><rect x="47.00" y="197.99" width="7.01" height="1.56" fill="#8b7cdf"/><rect x="53.96" y="197.99" width="7.01" height="1.56" fill="#e1ddf7"/><rect x="60.92" y="197.99" width="7.01" height="1.56" fill="#6b57d6"/><rect x="67.89" y="197.99" width="7.01" height="1.56" fill="#391fc8"/><rect x="74.85" y="197.99" width="7.01" height="1.56" fill="#2a0ec4"/><rect x="81.81" y="197.99" width="7.01" height="1.56" fill="#a89ce7"/><rect x="88.78" y="197.99" width="7.01" height="1.56" fill="#8e7fe0"/><rect x="95.74" y="197.99" width="7.01" height="1.56" fill="#2a0ec4"/><rect x="102.70" y="197.99" width="7.01" height="1.56" fill="#e9a4a7"/><rect x="109.66" y="197.99" width="7.01" height="1.56" fill="#d23c3d"/><rect x="116.62" y="197.99" width="7.01" height="1.56" fill="#eaa5a8"/><rect x="123.59" y="197.99" width="7.01" height="1.56" fill="#c2baee"/><rect x="130.55" y="197.99" width="7.01" height="1.56" fill="#e48b8d"/><rect x="137.51" y="197.99" width="7.01" height="1.56" fill="#cf2e2e"/><rect x="144.48" y="197.99" width="7.01" height="1.56" fill="#c7c0f0"/><rect x="151.44" y="197.99" width="7.01" height="1.56" fill="#ebacaf"/><rect x="47.00" y="199.50" width="7.01" height="1.56" fill="#9587e2"/><rect x="53.96" y="199.50" width="7.01" height="1.56" fill="#bcb3ec"/><rect x="60.92" y="199.50" width="7.01" height="1.56" fill="#4e37ce"/><rect x="67.89" y="199.50" width="7.01" height="1.56" fill="#2a0ec4"/><rect x="74.85" y="199.50" width="7.01" height="1.56" fill="#2a0ec4"/><rect x="81.81" y="199.50" width="7.01" height="1.56" fill="#8d7ee0"/><rect x="88.78" y="199.50" width="7.01" height="1.56" fill="#8676de"/><rect x="95.74" y="199.50" width="7.01" height="1.56" fill="#6d59d7"/><rect x="102.70" y="199.50" width="7.01" height="1.56" fill="#e79a9c"/><rect x="109.66" y="199.50" width="7.01" height="1.56" fill="#c81010"/><rect x="116.62" y="199.50" width="7.01" height="1.56" fill="#e89c9f"/><rect x="123.59" y="199.50" width="7.01" height="1.56" fill="#d6d0f4"/><rect x="130.55" y="199.50" width="7.01" height="1.56" fill="#e69598"/><rect x="137.51" y="199.50" width="7.01" height="1.56" fill="#d44748"/><rect x="144.48" y="199.50" width="7.01" height="1.56" fill="#9c8fe4"/><rect x="151.44" y="199.50" width="7.01" height="1.56" fill="#eaa9ab"/><rect x="47.00" y="201.01" width="7.01" height="1.56" fill="#8373dd"/><rect x="53.96" y="201.01" width="7.01" height="1.56" fill="#8170dc"/><rect x="60.92" y="201.01" width="7.01" height="1.56" fill="#7b69da"/><rect x="67.89" y="201.01" width="7.01" height="1.56" fill="#2a0ec4"/><rect x="74.85" y="201.01" width="7.01" height="1.56" fill="#2a0ec4"/><rect x="81.81" y="201.01" width="7.01" height="1.56" fill="#8b7cdf"/><rect x="88.78" y="201.01" width="7.01" height="1.56" fill="#371cc7"/><rect x="95.74" y="201.01" width="7.01" height="1.56" fill="#2a0ec4"/><rect x="102.70" y="201.01" width="7.01" height="1.56" fill="#e69699"/><rect x="109.66" y="201.01" width="7.01" height="1.56" fill="#ce2c2d"/><rect x="116.62" y="201.01" width="7.01" height="1.56" fill="#dd6f71"/><rect x="123.59" y="201.01" width="7.01" height="1.56" fill="#f7e2e5"/><rect x="130.55" y="201.01" width="7.01" height="1.56" fill="#d75455"/><rect x="137.51" y="201.01" width="7.01" height="1.56" fill="#ca1919"/><rect x="144.48" y="201.01" width="7.01" height="1.56" fill="#9789e2"/><rect x="151.44" y="201.01" width="7.01" height="1.56" fill="#e3898c"/><rect x="47.00" y="202.51" width="7.01" height="1.56" fill="#d2ccf3"/><rect x="53.96" y="202.51" width="7.01" height="1.56" fill="#e4e0f8"/><rect x="60.92" y="202.51" width="7.01" height="1.56" fill="#7563d9"/><rect x="67.89" y="202.51" width="7.01" height="1.56" fill="#7e6ddb"/><rect x="74.85" y="202.51" width="7.01" height="1.56" fill="#5b45d2"/><rect x="81.81" y="202.51" width="7.01" height="1.56" fill="#9e90e4"/><rect x="88.78" y="202.51" width="7.01" height="1.56" fill="#6753d5"/><rect x="95.74" y="202.51" width="7.01" height="1.56" fill="#715ed8"/><rect x="102.70" y="202.51" width="7.01" height="1.56" fill="#e9a5a7"/><rect x="109.66" y="202.51" width="7.01" height="1.56" fill="#d03334"/><rect x="116.62" y="202.51" width="7.01" height="1.56" fill="#eaa6a9"/><rect x="123.59" y="202.51" width="7.01" height="1.56" fill="#c5bdef"/><rect x="130.55" y="202.51" width="7.01" height="1.56" fill="#f0c4c7"/><rect x="137.51" y="202.51" width="7.01" height="1.56" fill="#d54a4b"/><rect x="144.48" y="202.51" width="7.01" height="1.56" fill="#f8e7eb"/><rect x="151.44" y="202.51" width="7.01" height="1.56" fill="#e89da0"/><rect x="47.00" y="204.02" width="7.01" height="1.56" fill="#2e12c5"/><rect x="53.96" y="204.02" width="7.01" height="1.56" fill="#b3a8ea"/><rect x="60.92" y="204.02" width="7.01" height="1.56" fill="#8170dc"/><rect x="67.89" y="204.02" width="7.01" height="1.56" fill="#2a0ec4"/><rect x="74.85" y="204.02" width="7.01" height="1.56" fill="#452ccb"/><rect x="81.81" y="204.02" width="7.01" height="1.56" fill="#9f92e4"/><rect x="88.78" y="204.02" width="7.01" height="1.56" fill="#5d48d2"/><rect x="95.74" y="204.02" width="7.01" height="1.56" fill="#4b33cd"/><rect x="102.70" y="204.02" width="7.01" height="1.56" fill="#e28587"/><rect x="109.66" y="204.02" width="7.01" height="1.56" fill="#c81010"/><rect x="116.62" y="204.02" width="7.01" height="1.56" fill="#e48c8f"/><rect x="123.59" y="204.02" width="7.01" height="1.56" fill="#f0eefb"/><rect x="130.55" y="204.02" width="7.01" height="1.56" fill="#f2cbce"/><rect x="137.51" y="204.02" width="7.01" height="1.56" fill="#cf3030"/><rect x="144.48" y="204.02" width="7.01" height="1.56" fill="#e2ddf7"/><rect x="151.44" y="204.02" width="7.01" height="1.56" fill="#e9a1a4"/><rect x="47.00" y="205.53" width="7.01" height="1.56" fill="#9c8fe4"/><rect x="53.96" y="205.53" width="7.01" height="1.56" fill="#e4e0f8"/><rect x="60.92" y="205.53" width="7.01" height="1.56" fill="#4027ca"/><rect x="67.89" y="205.53" width="7.01" height="1.56" fill="#5e49d2"/><rect x="74.85" y="205.53" width="7.01" height="1.56" fill="#7866da"/><rect x="81.81" y="205.53" width="7.01" height="1.56" fill="#e4e0f8"/><rect x="88.78" y="205.53" width="7.01" height="1.56" fill="#604bd3"/><rect x="95.74" y="205.53" width="7.01" height="1.56" fill="#533dcf"/><rect x="102.70" y="205.53" width="7.01" height="1.56" fill="#e9a1a3"/><rect x="109.66" y="205.53" width="7.01" height="1.56" fill="#d44546"/><rect x="116.62" y="205.53" width="7.01" height="1.56" fill="#e79a9c"/><rect x="123.59" y="205.53" width="7.01" height="1.56" fill="#bab0ec"/><rect x="130.55" y="205.53" width="7.01" height="1.56" fill="#edb5b8"/><rect x="137.51" y="205.53" width="7.01" height="1.56" fill="#c81111"/><rect x="144.48" y="205.53" width="7.01" height="1.56" fill="#c4bcef"/><rect x="151.44" y="205.53" width="7.01" height="1.56" fill="#eebbbe"/><rect x="47.00" y="207.03" width="7.01" height="1.56" fill="#2d11c5"/><rect x="53.96" y="207.03" width="7.01" height="1.56" fill="#9688e2"/><rect x="60.92" y="207.03" width="7.01" height="1.56" fill="#4d35ce"/><rect x="67.89" y="207.03" width="7.01" height="1.56" fill="#2a0ec4"/><rect x="74.85" y="207.03" width="7.01" height="1.56" fill="#2a0ec4"/><rect x="81.81" y="207.03" width="7.01" height="1.56" fill="#9082e0"/><rect x="88.78" y="207.03" width="7.01" height="1.56" fill="#8878de"/><rect x="95.74" y="207.03" width="7.01" height="1.56" fill="#2a0ec4"/><rect x="102.70" y="207.03" width="7.01" height="1.56" fill="#e18183"/><rect x="109.66" y="207.03" width="7.01" height="1.56" fill="#c81010"/><rect x="116.62" y="207.03" width="7.01" height="1.56" fill="#db6668"/><rect x="123.59" y="207.03" width="7.01" height="1.56" fill="#d8d2f4"/><rect x="130.55" y="207.03" width="7.01" height="1.56" fill="#e59294"/><rect x="137.51" y="207.03" width="7.01" height="1.56" fill="#d23b3c"/><rect x="144.48" y="207.03" width="7.01" height="1.56" fill="#b0a6e9"/><rect x="151.44" y="207.03" width="7.01" height="1.56" fill="#e07b7d"/><rect x="47.00" y="208.54" width="7.01" height="1.56" fill="#8f80e0"/><rect x="53.96" y="208.54" width="7.01" height="1.56" fill="#c6bfef"/><rect x="60.92" y="208.54" width="7.01" height="1.56" fill="#5a44d1"/><rect x="67.89" y="208.54" width="7.01" height="1.56" fill="#3319c7"/><rect x="74.85" y="208.54" width="7.01" height="1.56" fill="#2a0ec4"/><rect x="81.81" y="208.54" width="7.01" height="1.56" fill="#b2a8ea"/><rect x="88.78" y="208.54" width="7.01" height="1.56" fill="#6450d4"/><rect x="95.74" y="208.54" width="7.01" height="1.56" fill="#4229cb"/><rect x="102.70" y="208.54" width="7.01" height="1.56" fill="#e79b9e"/><rect x="109.66" y="208.54" width="7.01" height="1.56" fill="#cf2e2e"/><rect x="116.62" y="208.54" width="7.01" height="1.56" fill="#dc696b"/><rect x="123.59" y="208.54" width="7.01" height="1.56" fill="#e8e5f9"/><rect x="130.55" y="208.54" width="7.01" height="1.56" fill="#e48d8f"/><rect x="137.51" y="208.54" width="7.01" height="1.56" fill="#c81010"/><rect x="144.48" y="208.54" width="7.01" height="1.56" fill="#e6e2f8"/><rect x="151.44" y="208.54" width="7.01" height="1.56" fill="#e3898b"/><rect x="47.00" y="210.04" width="7.01" height="1.56" fill="#391fc8"/><rect x="53.96" y="210.04" width="7.01" height="1.56" fill="#aa9fe8"/><rect x="60.92" y="210.04" width="7.01" height="1.56" fill="#442bcb"/><rect x="67.89" y="210.04" width="7.01" height="1.56" fill="#462dcc"/><rect x="74.85" y="210.04" width="7.01" height="1.56" fill="#2a0ec4"/><rect x="81.81" y="210.04" width="7.01" height="1.56" fill="#a194e5"/><rect x="88.78" y="210.04" width="7.01" height="1.56" fill="#563fd0"/><rect x="95.74" y="210.04" width="7.01" height="1.56" fill="#7764d9"/><rect x="102.70" y="210.04" width="7.01" height="1.56" fill="#e7989a"/><rect x="109.66" y="210.04" width="7.01" height="1.56" fill="#ce2d2d"/><rect x="116.62" y="210.04" width="7.01" height="1.56" fill="#dd6c6e"/><rect x="123.59" y="210.04" width="7.01" height="1.56" fill="#9c8fe4"/><rect x="130.55" y="210.04" width="7.01" height="1.56" fill="#e8a0a2"/><rect x="137.51" y="210.04" width="7.01" height="1.56" fill="#cd2424"/><rect x="144.48" y="210.04" width="7.01" height="1.56" fill="#c8c1f0"/><rect x="151.44" y="210.04" width="7.01" height="1.56" fill="#ecafb2"/><rect x="47.00" y="211.55" width="7.01" height="1.56" fill="#4a32cd"/><rect x="53.96" y="211.55" width="7.01" height="1.56" fill="#9182e0"/><rect x="60.92" y="211.55" width="7.01" height="1.56" fill="#a396e5"/><rect x="67.89" y="211.55" width="7.01" height="1.56" fill="#442bcb"/><rect x="74.85" y="211.55" width="7.01" height="1.56" fill="#8f80e0"/><rect x="81.81" y="211.55" width="7.01" height="1.56" fill="#b1a6e9"/><rect x="88.78" y="211.55" width="7.01" height="1.56" fill="#3a21c9"/><rect x="95.74" y="211.55" width="7.01" height="1.56" fill="#4a32cd"/><rect x="102.70" y="211.55" width="7.01" height="1.56" fill="#da5f60"/><rect x="109.66" y="211.55" width="7.01" height="1.56" fill="#c91717"/><rect x="116.62" y="211.55" width="7.01" height="1.56" fill="#de7375"/><rect x="123.59" y="211.55" width="7.01" height="1.56" fill="#d0caf2"/><rect x="130.55" y="211.55" width="7.01" height="1.56" fill="#f3d0d4"/><rect x="137.51" y="211.55" width="7.01" height="1.56" fill="#c91313"/><rect x="144.48" y="211.55" width="7.01" height="1.56" fill="#bbb2ec"/><rect x="151.44" y="211.55" width="7.01" height="1.56" fill="#e9a1a4"/><rect x="47.00" y="213.06" width="7.01" height="1.56" fill="#6d5ad7"/><rect x="53.96" y="213.06" width="7.01" height="1.56" fill="#ada2e8"/><rect x="60.92" y="213.06" width="7.01" height="1.56" fill="#371dc8"/><rect x="67.89" y="213.06" width="7.01" height="1.56" fill="#2a0ec4"/><rect x="74.85" y="213.06" width="7.01" height="1.56" fill="#2a0ec4"/><rect x="81.81" y="213.06" width="7.01" height="1.56" fill="#9a8de3"/><rect x="88.78" y="213.06" width="7.01" height="1.56" fill="#2a0ec4"/><rect x="95.74" y="213.06" width="7.01" height="1.56" fill="#3f26ca"/><rect x="102.70" y="213.06" width="7.01" height="1.56" fill="#eaa5a8"/><rect x="109.66" y="213.06" width="7.01" height="1.56" fill="#c91313"/><rect x="116.62" y="213.06" width="7.01" height="1.56" fill="#df7779"/><rect x="123.59" y="213.06" width="7.01" height="1.56" fill="#cbc4f1"/><rect x="130.55" y="213.06" width="7.01" height="1.56" fill="#eaa8ab"/><rect x="137.51" y="213.06" width="7.01" height="1.56" fill="#c81010"/><rect x="144.48" y="213.06" width="7.01" height="1.56" fill="#a69ae7"/><rect x="151.44" y="213.06" width="7.01" height="1.56" fill="#e38a8c"/><rect x="47.00" y="214.56" width="7.01" height="1.56" fill="#7a68da"/><rect x="53.96" y="214.56" width="7.01" height="1.56" fill="#dfdbf6"/><rect x="60.92" y="214.56" width="7.01" height="1.56" fill="#9789e2"/><rect x="67.89" y="214.56" width="7.01" height="1.56" fill="#8a7adf"/><rect x="74.85" y="214.56" width="7.01" height="1.56" fill="#2a0ec4"/><rect x="81.81" y="214.56" width="7.01" height="1.56" fill="#d7d1f4"/><rect x="88.78" y="214.56" width="7.01" height="1.56" fill="#6652d5"/><rect x="95.74" y="214.56" width="7.01" height="1.56" fill="#bbb2ec"/><rect x="102.70" y="214.56" width="7.01" height="1.56" fill="#e3888a"/><rect x="109.66" y="214.56" width="7.01" height="1.56" fill="#d85758"/><rect x="116.62" y="214.56" width="7.01" height="1.56" fill="#e48e90"/><rect x="123.59" y="214.56" width="7.01" height="1.56" fill="#aea3e9"/><rect x="130.55" y="214.56" width="7.01" height="1.56" fill="#e48c8e"/><rect x="137.51" y="214.56" width="7.01" height="1.56" fill="#d5494a"/><rect x="144.48" y="214.56" width="7.01" height="1.56" fill="#c8c1f0"/><rect x="151.44" y="214.56" width="7.01" height="1.56" fill="#e9a1a4"/><rect x="47.00" y="216.07" width="7.01" height="1.56" fill="#614cd3"/><rect x="53.96" y="216.07" width="7.01" height="1.56" fill="#8a7adf"/><rect x="60.92" y="216.07" width="7.01" height="1.56" fill="#8574dd"/><rect x="67.89" y="216.07" width="7.01" height="1.56" fill="#6753d5"/><rect x="74.85" y="216.07" width="7.01" height="1.56" fill="#2d12c5"/><rect x="81.81" y="216.07" width="7.01" height="1.56" fill="#998ce3"/><rect x="88.78" y="216.07" width="7.01" height="1.56" fill="#6753d5"/><rect x="95.74" y="216.07" width="7.01" height="1.56" fill="#7361d8"/><rect x="102.70" y="216.07" width="7.01" height="1.56" fill="#e79a9c"/><rect x="109.66" y="216.07" width="7.01" height="1.56" fill="#cd2828"/><rect x="116.62" y="216.07" width="7.01" height="1.56" fill="#dd6d6f"/><rect x="123.59" y="216.07" width="7.01" height="1.56" fill="#9a8de3"/><rect x="130.55" y="216.07" width="7.01" height="1.56" fill="#f1c4c7"/><rect x="137.51" y="216.07" width="7.01" height="1.56" fill="#d85556"/><rect x="144.48" y="216.07" width="7.01" height="1.56" fill="#b4aaea"/><rect x="151.44" y="216.07" width="7.01" height="1.56" fill="#eaa7aa"/><rect x="47.00" y="217.57" width="7.01" height="1.56" fill="#7967da"/><rect x="53.96" y="217.57" width="7.01" height="1.56" fill="#e4e0f8"/><rect x="60.92" y="217.57" width="7.01" height="1.56" fill="#8a7adf"/><rect x="67.89" y="217.57" width="7.01" height="1.56" fill="#5c47d2"/><rect x="74.85" y="217.57" width="7.01" height="1.56" fill="#9789e2"/><rect x="81.81" y="217.57" width="7.01" height="1.56" fill="#d6d0f4"/><rect x="88.78" y="217.57" width="7.01" height="1.56" fill="#4027ca"/><rect x="95.74" y="217.57" width="7.01" height="1.56" fill="#897ade"/><rect x="102.70" y="217.57" width="7.01" height="1.56" fill="#efbfc2"/><rect x="109.66" y="217.57" width="7.01" height="1.56" fill="#c81212"/><rect x="116.62" y="217.57" width="7.01" height="1.56" fill="#f0c0c3"/><rect x="123.59" y="217.57" width="7.01" height="1.56" fill="#aca1e8"/><rect x="130.55" y="217.57" width="7.01" height="1.56" fill="#f9ebef"/><rect x="137.51" y="217.57" width="7.01" height="1.56" fill="#d13838"/><rect x="144.48" y="217.57" width="7.01" height="1.56" fill="#aa9ee7"/><rect x="151.44" y="217.57" width="7.01" height="1.56" fill="#eba9ac"/><rect x="47.00" y="219.08" width="7.01" height="1.56" fill="#6955d5"/><rect x="53.96" y="219.08" width="7.01" height="1.56" fill="#e4e0f8"/><rect x="60.92" y="219.08" width="7.01" height="1.56" fill="#9e91e4"/><rect x="67.89" y="219.08" width="7.01" height="1.56" fill="#5039ce"/><rect x="74.85" y="219.08" width="7.01" height="1.56" fill="#2a0ec4"/><rect x="81.81" y="219.08" width="7.01" height="1.56" fill="#a194e5"/><rect x="88.78" y="219.08" width="7.01" height="1.56" fill="#7260d8"/><rect x="95.74" y="219.08" width="7.01" height="1.56" fill="#bbb2ec"/><rect x="102.70" y="219.08" width="7.01" height="1.56" fill="#eaa7aa"/><rect x="109.66" y="219.08" width="7.01" height="1.56" fill="#d34142"/><rect x="116.62" y="219.08" width="7.01" height="1.56" fill="#eaa6a9"/><rect x="123.59" y="219.08" width="7.01" height="1.56" fill="#9b8de3"/><rect x="130.55" y="219.08" width="7.01" height="1.56" fill="#f4d4d7"/><rect x="137.51" y="219.08" width="7.01" height="1.56" fill="#d03333"/><rect x="144.48" y="219.08" width="7.01" height="1.56" fill="#f8e5e9"/><rect x="151.44" y="219.08" width="7.01" height="1.56" fill="#e79c9e"/><rect x="47.00" y="220.59" width="7.01" height="1.56" fill="#4b33cd"/><rect x="53.96" y="220.59" width="7.01" height="1.56" fill="#ded9f6"/><rect x="60.92" y="220.59" width="7.01" height="1.56" fill="#8171dc"/><rect x="67.89" y="220.59" width="7.01" height="1.56" fill="#2a0ec4"/><rect x="74.85" y="220.59" width="7.01" height="1.56" fill="#2a0ec4"/><rect x="81.81" y="220.59" width="7.01" height="1.56" fill="#c8c1f0"/><rect x="88.78" y="220.59" width="7.01" height="1.56" fill="#9081e0"/><rect x="95.74" y="220.59" width="7.01" height="1.56" fill="#8372dd"/><rect x="102.70" y="220.59" width="7.01" height="1.56" fill="#e79a9c"/><rect x="109.66" y="220.59" width="7.01" height="1.56" fill="#d1393a"/><rect x="116.62" y="220.59" width="7.01" height="1.56" fill="#e59093"/><rect x="123.59" y="220.59" width="7.01" height="1.56" fill="#bfb6ed"/><rect x="130.55" y="220.59" width="7.01" height="1.56" fill="#da5f60"/><rect x="137.51" y="220.59" width="7.01" height="1.56" fill="#d64d4e"/><rect x="144.48" y="220.59" width="7.01" height="1.56" fill="#bfb6ed"/><rect x="151.44" y="220.59" width="7.01" height="1.56" fill="#e17f81"/><rect x="47.00" y="222.09" width="7.01" height="1.56" fill="#aba0e8"/><rect x="53.96" y="222.09" width="7.01" height="1.56" fill="#cdc6f1"/><rect x="60.92" y="222.09" width="7.01" height="1.56" fill="#7f6edc"/><rect x="67.89" y="222.09" width="7.01" height="1.56" fill="#3d24c9"/><rect x="74.85" y="222.09" width="7.01" height="1.56" fill="#2a0ec4"/><rect x="81.81" y="222.09" width="7.01" height="1.56" fill="#a194e5"/><rect x="88.78" y="222.09" width="7.01" height="1.56" fill="#b2a7ea"/><rect x="95.74" y="222.09" width="7.01" height="1.56" fill="#7c6adb"/><rect x="102.70" y="222.09" width="7.01" height="1.56" fill="#e48a8d"/><rect x="109.66" y="222.09" width="7.01" height="1.56" fill="#c91414"/><rect x="116.62" y="222.09" width="7.01" height="1.56" fill="#e28587"/><rect x="123.59" y="222.09" width="7.01" height="1.56" fill="#e2def7"/><rect x="130.55" y="222.09" width="7.01" height="1.56" fill="#eebabd"/><rect x="137.51" y="222.09" width="7.01" height="1.56" fill="#d03232"/><rect x="144.48" y="222.09" width="7.01" height="1.56" fill="#edeafa"/><rect x="151.44" y="222.09" width="7.01" height="1.56" fill="#e9a2a5"/><rect x="47.00" y="223.60" width="7.01" height="1.56" fill="#9688e2"/><rect x="53.96" y="223.60" width="7.01" height="1.56" fill="#dfdaf6"/><rect x="60.92" y="223.60" width="7.01" height="1.56" fill="#b3a8ea"/><rect x="67.89" y="223.60" width="7.01" height="1.56" fill="#553ed0"/><rect x="74.85" y="223.60" width="7.01" height="1.56" fill="#3419c7"/><rect x="81.81" y="223.60" width="7.01" height="1.56" fill="#dad4f5"/><rect x="88.78" y="223.60" width="7.01" height="1.56" fill="#beb5ed"/><rect x="95.74" y="223.60" width="7.01" height="1.56" fill="#8777de"/><rect x="102.70" y="223.60" width="7.01" height="1.56" fill="#ebadb0"/><rect x="109.66" y="223.60" width="7.01" height="1.56" fill="#d44344"/><rect x="116.62" y="223.60" width="7.01" height="1.56" fill="#e9a3a6"/><rect x="123.59" y="223.60" width="7.01" height="1.56" fill="#dfdbf6"/><rect x="130.55" y="223.60" width="7.01" height="1.56" fill="#e07b7d"/><rect x="137.51" y="223.60" width="7.01" height="1.56" fill="#dd6d6e"/><rect x="144.48" y="223.60" width="7.01" height="1.56" fill="#f8e7eb"/><rect x="151.44" y="223.60" width="7.01" height="1.56" fill="#ecb1b4"/><rect x="47.00" y="225.11" width="7.01" height="1.56" fill="#cfc8f2"/><rect x="53.96" y="225.11" width="7.01" height="1.56" fill="#cbc3f1"/><rect x="60.92" y="225.11" width="7.01" height="1.56" fill="#bfb6ed"/><rect x="67.89" y="225.11" width="7.01" height="1.56" fill="#6d5ad7"/><rect x="74.85" y="225.11" width="7.01" height="1.56" fill="#2a0ec4"/><rect x="81.81" y="225.11" width="7.01" height="1.56" fill="#d5cff3"/><rect x="88.78" y="225.11" width="7.01" height="1.56" fill="#8170dc"/><rect x="95.74" y="225.11" width="7.01" height="1.56" fill="#634ed4"/><rect x="102.70" y="225.11" width="7.01" height="1.56" fill="#f5d6da"/><rect x="109.66" y="225.11" width="7.01" height="1.56" fill="#d13637"/><rect x="116.62" y="225.11" width="7.01" height="1.56" fill="#e7999c"/><rect x="123.59" y="225.11" width="7.01" height="1.56" fill="#998be3"/><rect x="130.55" y="225.11" width="7.01" height="1.56" fill="#dc6a6c"/><rect x="137.51" y="225.11" width="7.01" height="1.56" fill="#d03435"/><rect x="144.48" y="225.11" width="7.01" height="1.56" fill="#beb5ed"/><rect x="151.44" y="225.11" width="7.01" height="1.56" fill="#e9a3a5"/><rect x="47.00" y="226.61" width="7.01" height="1.56" fill="#725fd8"/><rect x="53.96" y="226.61" width="7.01" height="1.56" fill="#e3dff7"/><rect x="60.92" y="226.61" width="7.01" height="1.56" fill="#9789e2"/><rect x="67.89" y="226.61" width="7.01" height="1.56" fill="#4b33cd"/><rect x="74.85" y="226.61" width="7.01" height="1.56" fill="#442ccb"/><rect x="81.81" y="226.61" width="7.01" height="1.56" fill="#a498e6"/><rect x="88.78" y="226.61" width="7.01" height="1.56" fill="#897ade"/><rect x="95.74" y="226.61" width="7.01" height="1.56" fill="#5e48d2"/><rect x="102.70" y="226.61" width="7.01" height="1.56" fill="#e8a0a2"/><rect x="109.66" y="226.61" width="7.01" height="1.56" fill="#d64f50"/><rect x="116.62" y="226.61" width="7.01" height="1.56" fill="#ebacaf"/><rect x="123.59" y="226.61" width="7.01" height="1.56" fill="#c7bff0"/><rect x="130.55" y="226.61" width="7.01" height="1.56" fill="#f6dee2"/><rect x="137.51" y="226.61" width="7.01" height="1.56" fill="#c81010"/><rect x="144.48" y="226.61" width="7.01" height="1.56" fill="#cac3f0"/><rect x="151.44" y="226.61" width="7.01" height="1.56" fill="#eaa7aa"/><rect x="47.00" y="228.12" width="7.01" height="1.56" fill="#c3bbee"/><rect x="53.96" y="228.12" width="7.01" height="1.56" fill="#e4e0f8"/><rect x="60.92" y="228.12" width="7.01" height="1.56" fill="#9688e2"/><rect x="67.89" y="228.12" width="7.01" height="1.56" fill="#2d12c5"/><rect x="74.85" y="228.12" width="7.01" height="1.56" fill="#361cc7"/><rect x="81.81" y="228.12" width="7.01" height="1.56" fill="#e4e0f8"/><rect x="88.78" y="228.12" width="7.01" height="1.56" fill="#6652d5"/><rect x="95.74" y="228.12" width="7.01" height="1.56" fill="#4f37ce"/><rect x="102.70" y="228.12" width="7.01" height="1.56" fill="#f0c3c6"/><rect x="109.66" y="228.12" width="7.01" height="1.56" fill="#d54b4c"/><rect x="116.62" y="228.12" width="7.01" height="1.56" fill="#e89ea0"/><rect x="123.59" y="228.12" width="7.01" height="1.56" fill="#a99de7"/><rect x="130.55" y="228.12" width="7.01" height="1.56" fill="#ecafb2"/><rect x="137.51" y="228.12" width="7.01" height="1.56" fill="#c81010"/><rect x="144.48" y="228.12" width="7.01" height="1.56" fill="#f5d6da"/><rect x="151.44" y="228.12" width="7.01" height="1.56" fill="#efbfc2"/><rect x="47.00" y="229.62" width="7.01" height="1.56" fill="#6c59d6"/><rect x="53.96" y="229.62" width="7.01" height="1.56" fill="#b6adeb"/><rect x="60.92" y="229.62" width="7.01" height="1.56" fill="#8d7edf"/><rect x="67.89" y="229.62" width="7.01" height="1.56" fill="#2e13c5"/><rect x="74.85" y="229.62" width="7.01" height="1.56" fill="#2a0ec4"/><rect x="81.81" y="229.62" width="7.01" height="1.56" fill="#a295e5"/><rect x="88.78" y="229.62" width="7.01" height="1.56" fill="#513acf"/><rect x="95.74" y="229.62" width="7.01" height="1.56" fill="#8170dc"/><rect x="102.70" y="229.62" width="7.01" height="1.56" fill="#e0787a"/><rect x="109.66" y="229.62" width="7.01" height="1.56" fill="#d34344"/><rect x="116.62" y="229.62" width="7.01" height="1.56" fill="#e59294"/><rect x="123.59" y="229.62" width="7.01" height="1.56" fill="#a397e6"/><rect x="130.55" y="229.62" width="7.01" height="1.56" fill="#e59092"/><rect x="137.51" y="229.62" width="7.01" height="1.56" fill="#ca1a1a"/><rect x="144.48" y="229.62" width="7.01" height="1.56" fill="#ebe8fa"/><rect x="151.44" y="229.62" width="7.01" height="1.56" fill="#e48e90"/><rect x="47.00" y="231.13" width="7.01" height="1.56" fill="#c6beef"/><rect x="53.96" y="231.13" width="7.01" height="1.56" fill="#e4e0f8"/><rect x="60.92" y="231.13" width="7.01" height="1.56" fill="#c8c1f0"/><rect x="67.89" y="231.13" width="7.01" height="1.56" fill="#5b46d2"/><rect x="74.85" y="231.13" width="7.01" height="1.56" fill="#7664d9"/><rect x="81.81" y="231.13" width="7.01" height="1.56" fill="#e4e0f8"/><rect x="88.78" y="231.13" width="7.01" height="1.56" fill="#8b7bdf"/><rect x="95.74" y="231.13" width="7.01" height="1.56" fill="#afa4e9"/><rect x="102.70" y="231.13" width="7.01" height="1.56" fill="#edb6b9"/><rect x="109.66" y="231.13" width="7.01" height="1.56" fill="#dc6a6b"/><rect x="116.62" y="231.13" width="7.01" height="1.56" fill="#f6dce0"/><rect x="123.59" y="231.13" width="7.01" height="1.56" fill="#6753d5"/><rect x="130.55" y="231.13" width="7.01" height="1.56" fill="#f1c6ca"/><rect x="137.51" y="231.13" width="7.01" height="1.56" fill="#d03535"/><rect x="144.48" y="231.13" width="7.01" height="1.56" fill="#cac2f0"/><rect x="151.44" y="231.13" width="7.01" height="1.56" fill="#f6dce0"/><rect x="47.00" y="232.64" width="7.01" height="1.56" fill="#a397e6"/><rect x="53.96" y="232.64" width="7.01" height="1.56" fill="#e4e0f8"/><rect x="60.92" y="232.64" width="7.01" height="1.56" fill="#bdb4ed"/><rect x="67.89" y="232.64" width="7.01" height="1.56" fill="#7360d8"/><rect x="74.85" y="232.64" width="7.01" height="1.56" fill="#5943d1"/><rect x="81.81" y="232.64" width="7.01" height="1.56" fill="#b5abea"/><rect x="88.78" y="232.64" width="7.01" height="1.56" fill="#715ed8"/><rect x="95.74" y="232.64" width="7.01" height="1.56" fill="#7563d9"/><rect x="102.70" y="232.64" width="7.01" height="1.56" fill="#efbcc0"/><rect x="109.66" y="232.64" width="7.01" height="1.56" fill="#d13a3a"/><rect x="116.62" y="232.64" width="7.01" height="1.56" fill="#ebacaf"/><rect x="123.59" y="232.64" width="7.01" height="1.56" fill="#ccc4f1"/><rect x="130.55" y="232.64" width="7.01" height="1.56" fill="#df7779"/><rect x="137.51" y="232.64" width="7.01" height="1.56" fill="#cd2828"/><rect x="144.48" y="232.64" width="7.01" height="1.56" fill="#dbd5f5"/><rect x="151.44" y="232.64" width="7.01" height="1.56" fill="#ecaeb1"/><rect x="47.00" y="234.14" width="7.01" height="1.56" fill="#a99de7"/><rect x="53.96" y="234.14" width="7.01" height="1.56" fill="#e4e0f8"/><rect x="60.92" y="234.14" width="7.01" height="1.56" fill="#8a7adf"/><rect x="67.89" y="234.14" width="7.01" height="1.56" fill="#aa9fe8"/><rect x="74.85" y="234.14" width="7.01" height="1.56" fill="#5f4ad3"/><rect x="81.81" y="234.14" width="7.01" height="1.56" fill="#e4e0f8"/><rect x="88.78" y="234.14" width="7.01" height="1.56" fill="#8d7ee0"/><rect x="95.74" y="234.14" width="7.01" height="1.56" fill="#6d5ad7"/><rect x="102.70" y="234.14" width="7.01" height="1.56" fill="#e18082"/><rect x="109.66" y="234.14" width="7.01" height="1.56" fill="#dc6a6b"/><rect x="116.62" y="234.14" width="7.01" height="1.56" fill="#e7989b"/><rect x="123.59" y="234.14" width="7.01" height="1.56" fill="#aba0e8"/><rect x="130.55" y="234.14" width="7.01" height="1.56" fill="#eaa5a7"/><rect x="137.51" y="234.14" width="7.01" height="1.56" fill="#da6061"/><rect x="144.48" y="234.14" width="7.01" height="1.56" fill="#bdb3ed"/><rect x="151.44" y="234.14" width="7.01" height="1.56" fill="#e89ea1"/><rect x="47.00" y="235.65" width="7.01" height="1.56" fill="#2a0ec4"/><rect x="53.96" y="235.65" width="7.01" height="1.56" fill="#8575dd"/><rect x="60.92" y="235.65" width="7.01" height="1.56" fill="#5741d1"/><rect x="67.89" y="235.65" width="7.01" height="1.56" fill="#2a0ec4"/><rect x="74.85" y="235.65" width="7.01" height="1.56" fill="#2a0ec4"/><rect x="81.81" y="235.65" width="7.01" height="1.56" fill="#5e48d2"/><rect x="88.78" y="235.65" width="7.01" height="1.56" fill="#371dc8"/><rect x="95.74" y="235.65" width="7.01" height="1.56" fill="#3216c6"/><rect x="102.70" y="235.65" width="7.01" height="1.56" fill="#d44748"/><rect x="109.66" y="235.65" width="7.01" height="1.56" fill="#c81010"/><rect x="116.62" y="235.65" width="7.01" height="1.56" fill="#e28284"/><rect x="123.59" y="235.65" width="7.01" height="1.56" fill="#d8d2f4"/><rect x="130.55" y="235.65" width="7.01" height="1.56" fill="#f6dce0"/><rect x="137.51" y="235.65" width="7.01" height="1.56" fill="#c81010"/><rect x="144.48" y="235.65" width="7.01" height="1.56" fill="#f6dee2"/><rect x="151.44" y="235.65" width="7.01" height="1.56" fill="#d85859"/><rect x="47.00" y="237.16" width="7.01" height="1.56" fill="#b8afeb"/><rect x="53.96" y="237.16" width="7.01" height="1.56" fill="#e2def7"/><rect x="60.92" y="237.16" width="7.01" height="1.56" fill="#624dd3"/><rect x="67.89" y="237.16" width="7.01" height="1.56" fill="#543ed0"/><rect x="74.85" y="237.16" width="7.01" height="1.56" fill="#806fdc"/><rect x="81.81" y="237.16" width="7.01" height="1.56" fill="#c6beef"/><rect x="88.78" y="237.16" width="7.01" height="1.56" fill="#7f6edb"/><rect x="95.74" y="237.16" width="7.01" height="1.56" fill="#6e5bd7"/><rect x="102.70" y="237.16" width="7.01" height="1.56" fill="#f3cfd3"/><rect x="109.66" y="237.16" width="7.01" height="1.56" fill="#d34344"/><rect x="116.62" y="237.16" width="7.01" height="1.56" fill="#e59194"/><rect x="123.59" y="237.16" width="7.01" height="1.56" fill="#c7bff0"/><rect x="130.55" y="237.16" width="7.01" height="1.56" fill="#eeb7ba"/><rect x="137.51" y="237.16" width="7.01" height="1.56" fill="#dd6f71"/><rect x="144.48" y="237.16" width="7.01" height="1.56" fill="#f9e9ed"/><rect x="151.44" y="237.16" width="7.01" height="1.56" fill="#e48e90"/><rect x="47.00" y="238.66" width="7.01" height="1.56" fill="#8776de"/><rect x="53.96" y="238.66" width="7.01" height="1.56" fill="#9587e2"/><rect x="60.92" y="238.66" width="7.01" height="1.56" fill="#4229cb"/><rect x="67.89" y="238.66" width="7.01" height="1.56" fill="#371cc8"/><rect x="74.85" y="238.66" width="7.01" height="1.56" fill="#543dd0"/><rect x="81.81" y="238.66" width="7.01" height="1.56" fill="#5d48d2"/><rect x="88.78" y="238.66" width="7.01" height="1.56" fill="#3c23c9"/><rect x="95.74" y="238.66" width="7.01" height="1.56" fill="#2b0fc4"/><rect x="102.70" y="238.66" width="7.01" height="1.56" fill="#dd6e6f"/><rect x="109.66" y="238.66" width="7.01" height="1.56" fill="#c81010"/><rect x="116.62" y="238.66" width="7.01" height="1.56" fill="#e17f81"/><rect x="123.59" y="238.66" width="7.01" height="1.56" fill="#9283e1"/><rect x="130.55" y="238.66" width="7.01" height="1.56" fill="#ecaeb1"/><rect x="137.51" y="238.66" width="7.01" height="1.56" fill="#ca1919"/><rect x="144.48" y="238.66" width="7.01" height="1.56" fill="#9384e1"/><rect x="151.44" y="238.66" width="7.01" height="1.56" fill="#db6566"/><rect x="47.00" y="240.17" width="7.01" height="1.56" fill="#a89de7"/><rect x="53.96" y="240.17" width="7.01" height="1.56" fill="#ada1e8"/><rect x="60.92" y="240.17" width="7.01" height="1.56" fill="#b7aeeb"/><rect x="67.89" y="240.17" width="7.01" height="1.56" fill="#2f14c5"/><rect x="74.85" y="240.17" width="7.01" height="1.56" fill="#7664d9"/><rect x="81.81" y="240.17" width="7.01" height="1.56" fill="#8f80e0"/><rect x="88.78" y="240.17" width="7.01" height="1.56" fill="#aea3e9"/><rect x="95.74" y="240.17" width="7.01" height="1.56" fill="#6f5cd7"/><rect x="102.70" y="240.17" width="7.01" height="1.56" fill="#f2ccd0"/><rect x="109.66" y="240.17" width="7.01" height="1.56" fill="#d23b3c"/><rect x="116.62" y="240.17" width="7.01" height="1.56" fill="#e59194"/><rect x="123.59" y="240.17" width="7.01" height="1.56" fill="#9b8de3"/><rect x="130.55" y="240.17" width="7.01" height="1.56" fill="#f1c4c7"/><rect x="137.51" y="240.17" width="7.01" height="1.56" fill="#cf2e2e"/><rect x="144.48" y="240.17" width="7.01" height="1.56" fill="#c5bdef"/><rect x="151.44" y="240.17" width="7.01" height="1.56" fill="#f6dce0"/><rect x="47.00" y="241.68" width="7.01" height="1.56" fill="#9d90e4"/><rect x="53.96" y="241.68" width="7.01" height="1.56" fill="#e4e0f8"/><rect x="60.92" y="241.68" width="7.01" height="1.56" fill="#b3a8ea"/><rect x="67.89" y="241.68" width="7.01" height="1.56" fill="#4930cc"/><rect x="74.85" y="241.68" width="7.01" height="1.56" fill="#ada1e8"/><rect x="81.81" y="241.68" width="7.01" height="1.56" fill="#e4e0f8"/><rect x="88.78" y="241.68" width="7.01" height="1.56" fill="#8676de"/><rect x="95.74" y="241.68" width="7.01" height="1.56" fill="#a296e5"/><rect x="102.70" y="241.68" width="7.01" height="1.56" fill="#e28487"/><rect x="109.66" y="241.68" width="7.01" height="1.56" fill="#cf3031"/><rect x="116.62" y="241.68" width="7.01" height="1.56" fill="#ebaaad"/><rect x="123.59" y="241.68" width="7.01" height="1.56" fill="#e6e2f8"/><rect x="130.55" y="241.68" width="7.01" height="1.56" fill="#e89ea1"/><rect x="137.51" y="241.68" width="7.01" height="1.56" fill="#dc686a"/><rect x="144.48" y="241.68" width="7.01" height="1.56" fill="#a296e5"/><rect x="151.44" y="241.68" width="7.01" height="1.56" fill="#e59294"/><rect x="47.00" y="243.18" width="7.01" height="1.56" fill="#8676de"/><rect x="53.96" y="243.18" width="7.01" height="1.56" fill="#dfdaf6"/><rect x="60.92" y="243.18" width="7.01" height="1.56" fill="#8170dc"/><rect x="67.89" y="243.18" width="7.01" height="1.56" fill="#8b7cdf"/><rect x="74.85" y="243.18" width="7.01" height="1.56" fill="#2a0ec4"/><rect x="81.81" y="243.18" width="7.01" height="1.56" fill="#ada1e8"/><rect x="88.78" y="243.18" width="7.01" height="1.56" fill="#7562d9"/><rect x="95.74" y="243.18" width="7.01" height="1.56" fill="#8474dd"/><rect x="102.70" y="243.18" width="7.01" height="1.56" fill="#e07c7e"/><rect x="109.66" y="243.18" width="7.01" height="1.56" fill="#c81010"/><rect x="116.62" y="243.18" width="7.01" height="1.56" fill="#e79a9c"/><rect x="123.59" y="243.18" width="7.01" height="1.56" fill="#ebe8fa"/><rect x="130.55" y="243.18" width="7.01" height="1.56" fill="#e89c9f"/><rect x="137.51" y="243.18" width="7.01" height="1.56" fill="#d44445"/><rect x="144.48" y="243.18" width="7.01" height="1.56" fill="#c6bfef"/><rect x="151.44" y="243.18" width="7.01" height="1.56" fill="#d85859"/><rect x="47.00" y="244.69" width="7.01" height="1.56" fill="#533ccf"/><rect x="53.96" y="244.69" width="7.01" height="1.56" fill="#553ed0"/><rect x="60.92" y="244.69" width="7.01" height="1.56" fill="#4931cd"/><rect x="67.89" y="244.69" width="7.01" height="1.56" fill="#2a0ec4"/><rect x="74.85" y="244.69" width="7.01" height="1.56" fill="#2a0ec4"/><rect x="81.81" y="244.69" width="7.01" height="1.56" fill="#e4e0f8"/><rect x="88.78" y="244.69" width="7.01" height="1.56" fill="#6e5bd7"/><rect x="95.74" y="244.69" width="7.01" height="1.56" fill="#5e48d2"/><rect x="102.70" y="244.69" width="7.01" height="1.56" fill="#e89da0"/><rect x="109.66" y="244.69" width="7.01" height="1.56" fill="#d13939"/><rect x="116.62" y="244.69" width="7.01" height="1.56" fill="#e28284"/><rect x="123.59" y="244.69" width="7.01" height="1.56" fill="#aea3e9"/><rect x="130.55" y="244.69" width="7.01" height="1.56" fill="#d03333"/><rect x="137.51" y="244.69" width="7.01" height="1.56" fill="#cc2223"/><rect x="144.48" y="244.69" width="7.01" height="1.56" fill="#b4aaea"/><rect x="151.44" y="244.69" width="7.01" height="1.56" fill="#db6364"/><rect x="47.00" y="246.19" width="7.01" height="1.56" fill="#5039cf"/><rect x="53.96" y="246.19" width="7.01" height="1.56" fill="#e4e0f8"/><rect x="60.92" y="246.19" width="7.01" height="1.56" fill="#7361d8"/><rect x="67.89" y="246.19" width="7.01" height="1.56" fill="#2a0ec4"/><rect x="74.85" y="246.19" width="7.01" height="1.56" fill="#4f37ce"/><rect x="81.81" y="246.19" width="7.01" height="1.56" fill="#d0caf2"/><rect x="88.78" y="246.19" width="7.01" height="1.56" fill="#604bd3"/><rect x="95.74" y="246.19" width="7.01" height="1.56" fill="#8777de"/><rect x="102.70" y="246.19" width="7.01" height="1.56" fill="#e07c7e"/><rect x="109.66" y="246.19" width="7.01" height="1.56" fill="#d34142"/><rect x="116.62" y="246.19" width="7.01" height="1.56" fill="#f1c8cb"/><rect x="123.59" y="246.19" width="7.01" height="1.56" fill="#6450d4"/><rect x="130.55" y="246.19" width="7.01" height="1.56" fill="#edb5b8"/><rect x="137.51" y="246.19" width="7.01" height="1.56" fill="#c81010"/><rect x="144.48" y="246.19" width="7.01" height="1.56" fill="#f2f0fb"/><rect x="151.44" y="246.19" width="7.01" height="1.56" fill="#dd6c6d"/><rect x="47.00" y="247.70" width="7.01" height="1.56" fill="#4027ca"/><rect x="53.96" y="247.70" width="7.01" height="1.56" fill="#b1a6e9"/><rect x="60.92" y="247.70" width="7.01" height="1.56" fill="#2a0ec4"/><rect x="67.89" y="247.70" width="7.01" height="1.56" fill="#3015c6"/><rect x="74.85" y="247.70" width="7.01" height="1.56" fill="#2a0ec4"/><rect x="81.81" y="247.70" width="7.01" height="1.56" fill="#7a68da"/><rect x="88.78" y="247.70" width="7.01" height="1.56" fill="#2a0ec4"/><rect x="95.74" y="247.70" width="7.01" height="1.56" fill="#2a0ec4"/><rect x="102.70" y="247.70" width="7.01" height="1.56" fill="#db6566"/><rect x="109.66" y="247.70" width="7.01" height="1.56" fill="#c81010"/><rect x="116.62" y="247.70" width="7.01" height="1.56" fill="#dd6d6f"/><rect x="123.59" y="247.70" width="7.01" height="1.56" fill="#d4cef3"/><rect x="130.55" y="247.70" width="7.01" height="1.56" fill="#f2cccf"/><rect x="137.51" y="247.70" width="7.01" height="1.56" fill="#c81010"/><rect x="144.48" y="247.70" width="7.01" height="1.56" fill="#a599e6"/><rect x="151.44" y="247.70" width="7.01" height="1.56" fill="#da5e5f"/><rect x="47.00" y="249.21" width="7.01" height="1.56" fill="#998be3"/><rect x="53.96" y="249.21" width="7.01" height="1.56" fill="#bdb4ed"/><rect x="60.92" y="249.21" width="7.01" height="1.56" fill="#5f49d3"/><rect x="67.89" y="249.21" width="7.01" height="1.56" fill="#5640d0"/><rect x="74.85" y="249.21" width="7.01" height="1.56" fill="#7967da"/><rect x="81.81" y="249.21" width="7.01" height="1.56" fill="#f5d9dd"/><rect x="88.78" y="249.21" width="7.01" height="1.56" fill="#6e5ad7"/><rect x="95.74" y="249.21" width="7.01" height="1.56" fill="#998ce3"/><rect x="102.70" y="249.21" width="7.01" height="1.56" fill="#e28587"/><rect x="109.66" y="249.21" width="7.01" height="1.56" fill="#cc2424"/><rect x="116.62" y="249.21" width="7.01" height="1.56" fill="#f0c2c5"/><rect x="123.59" y="249.21" width="7.01" height="1.56" fill="#ccc5f1"/><rect x="130.55" y="249.21" width="7.01" height="1.56" fill="#f5d9dd"/><rect x="137.51" y="249.21" width="7.01" height="1.56" fill="#c81010"/><rect x="144.48" y="249.21" width="7.01" height="1.56" fill="#eae7f9"/><rect x="151.44" y="249.21" width="7.01" height="1.56" fill="#e3898b"/><rect x="47.00" y="250.71" width="7.01" height="1.56" fill="#f8e6ea"/><rect x="53.96" y="250.71" width="7.01" height="1.56" fill="#e69497"/><rect x="60.92" y="250.71" width="7.01" height="1.56" fill="#b1a6e9"/><rect x="67.89" y="250.71" width="7.01" height="1.56" fill="#e0dbf6"/><rect x="74.85" y="250.71" width="7.01" height="1.56" fill="#aba0e8"/><rect x="81.81" y="250.71" width="7.01" height="1.56" fill="#f1c6ca"/><rect x="88.78" y="250.71" width="7.01" height="1.56" fill="#b5abeb"/><rect x="95.74" y="250.71" width="7.01" height="1.56" fill="#a99de7"/><rect x="102.70" y="250.71" width="7.01" height="1.56" fill="#f6dce0"/><rect x="109.66" y="250.71" width="7.01" height="1.56" fill="#c81010"/><rect x="116.62" y="250.71" width="7.01" height="1.56" fill="#f1c7ca"/><rect x="123.59" y="250.71" width="7.01" height="1.56" fill="#c8c0f0"/><rect x="130.55" y="250.71" width="7.01" height="1.56" fill="#f2cccf"/><rect x="137.51" y="250.71" width="7.01" height="1.56" fill="#e07a7c"/><rect x="144.48" y="250.71" width="7.01" height="1.56" fill="#b6aceb"/><rect x="151.44" y="250.71" width="7.01" height="1.56" fill="#f6dce0"/><rect x="47.00" y="252.22" width="7.01" height="1.56" fill="#5c46d2"/><rect x="53.96" y="252.22" width="7.01" height="1.56" fill="#cfc8f2"/><rect x="60.92" y="252.22" width="7.01" height="1.56" fill="#391ec8"/><rect x="67.89" y="252.22" width="7.01" height="1.56" fill="#634ed4"/><rect x="74.85" y="252.22" width="7.01" height="1.56" fill="#2b0fc4"/><rect x="81.81" y="252.22" width="7.01" height="1.56" fill="#bdb4ed"/><rect x="88.78" y="252.22" width="7.01" height="1.56" fill="#513acf"/><rect x="95.74" y="252.22" width="7.01" height="1.56" fill="#3116c6"/><rect x="102.70" y="252.22" width="7.01" height="1.56" fill="#d95d5e"/><rect x="109.66" y="252.22" width="7.01" height="1.56" fill="#cc2222"/><rect x="116.62" y="252.22" width="7.01" height="1.56" fill="#e17e80"/><rect x="123.59" y="252.22" width="7.01" height="1.56" fill="#9d90e4"/><rect x="130.55" y="252.22" width="7.01" height="1.56" fill="#eaa7aa"/><rect x="137.51" y="252.22" width="7.01" height="1.56" fill="#cc2121"/><rect x="144.48" y="252.22" width="7.01" height="1.56" fill="#d7d1f4"/><rect x="151.44" y="252.22" width="7.01" height="1.56" fill="#df7678"/><rect x="47.00" y="253.72" width="7.01" height="1.56" fill="#6955d5"/><rect x="53.96" y="253.72" width="7.01" height="1.56" fill="#f9e9ed"/><rect x="60.92" y="253.72" width="7.01" height="1.56" fill="#c6beef"/><rect x="67.89" y="253.72" width="7.01" height="1.56" fill="#9587e2"/><rect x="74.85" y="253.72" width="7.01" height="1.56" fill="#3a20c8"/><rect x="81.81" y="253.72" width="7.01" height="1.56" fill="#faedf1"/><rect x="88.78" y="253.72" width="7.01" height="1.56" fill="#a093e5"/><rect x="95.74" y="253.72" width="7.01" height="1.56" fill="#9b8ee3"/><rect x="102.70" y="253.72" width="7.01" height="1.56" fill="#e79a9c"/><rect x="109.66" y="253.72" width="7.01" height="1.56" fill="#d44546"/><rect x="116.62" y="253.72" width="7.01" height="1.56" fill="#e79a9d"/><rect x="123.59" y="253.72" width="7.01" height="1.56" fill="#e4e0f8"/><rect x="130.55" y="253.72" width="7.01" height="1.56" fill="#f1c6c9"/><rect x="137.51" y="253.72" width="7.01" height="1.56" fill="#db6768"/><rect x="144.48" y="253.72" width="7.01" height="1.56" fill="#c7c0f0"/><rect x="151.44" y="253.72" width="7.01" height="1.56" fill="#e9a1a3"/><rect x="47.00" y="255.23" width="7.01" height="1.56" fill="#b3a8ea"/><rect x="53.96" y="255.23" width="7.01" height="1.56" fill="#ecb2b5"/><rect x="60.92" y="255.23" width="7.01" height="1.56" fill="#c8c0f0"/><rect x="67.89" y="255.23" width="7.01" height="1.56" fill="#aa9fe8"/><rect x="74.85" y="255.23" width="7.01" height="1.56" fill="#624ed4"/><rect x="81.81" y="255.23" width="7.01" height="1.56" fill="#ecafb2"/><rect x="88.78" y="255.23" width="7.01" height="1.56" fill="#f6dde0"/><rect x="95.74" y="255.23" width="7.01" height="1.56" fill="#b5abea"/><rect x="102.70" y="255.23" width="7.01" height="1.56" fill="#f5d9dd"/><rect x="109.66" y="255.23" width="7.01" height="1.56" fill="#e07b7d"/><rect x="116.62" y="255.23" width="7.01" height="1.56" fill="#e9a2a5"/><rect x="123.59" y="255.23" width="7.01" height="1.56" fill="#c4bbef"/><rect x="130.55" y="255.23" width="7.01" height="1.56" fill="#f4d2d6"/><rect x="137.51" y="255.23" width="7.01" height="1.56" fill="#d03435"/><rect x="144.48" y="255.23" width="7.01" height="1.56" fill="#eae7f9"/><rect x="151.44" y="255.23" width="7.01" height="1.56" fill="#ecb1b4"/><rect x="47.00" y="256.74" width="7.01" height="1.56" fill="#c8c1f0"/><rect x="53.96" y="256.74" width="7.01" height="1.56" fill="#edb2b5"/><rect x="60.92" y="256.74" width="7.01" height="1.56" fill="#9a8de3"/><rect x="67.89" y="256.74" width="7.01" height="1.56" fill="#cbc4f1"/><rect x="74.85" y="256.74" width="7.01" height="1.56" fill="#cfc8f2"/><rect x="81.81" y="256.74" width="7.01" height="1.56" fill="#ebabae"/><rect x="88.78" y="256.74" width="7.01" height="1.56" fill="#9e91e4"/><rect x="95.74" y="256.74" width="7.01" height="1.56" fill="#9f92e4"/><rect x="102.70" y="256.74" width="7.01" height="1.56" fill="#eaa5a8"/><rect x="109.66" y="256.74" width="7.01" height="1.56" fill="#d13939"/><rect x="116.62" y="256.74" width="7.01" height="1.56" fill="#e69699"/><rect x="123.59" y="256.74" width="7.01" height="1.56" fill="#efedfb"/><rect x="130.55" y="256.74" width="7.01" height="1.56" fill="#edb4b7"/><rect x="137.51" y="256.74" width="7.01" height="1.56" fill="#db6365"/><rect x="144.48" y="256.74" width="7.01" height="1.56" fill="#8271dc"/><rect x="151.44" y="256.74" width="7.01" height="1.56" fill="#ebaaad"/><rect x="47.00" y="258.24" width="7.01" height="1.56" fill="#2a0ec4"/><rect x="53.96" y="258.24" width="7.01" height="1.56" fill="#6551d4"/><rect x="60.92" y="258.24" width="7.01" height="1.56" fill="#5039cf"/><rect x="67.89" y="258.24" width="7.01" height="1.56" fill="#2a0ec4"/><rect x="74.85" y="258.24" width="7.01" height="1.56" fill="#2a0ec4"/><rect x="81.81" y="258.24" width="7.01" height="1.56" fill="#513acf"/><rect x="88.78" y="258.24" width="7.01" height="1.56" fill="#2a0ec4"/><rect x="95.74" y="258.24" width="7.01" height="1.56" fill="#7866da"/><rect x="102.70" y="258.24" width="7.01" height="1.56" fill="#de7375"/><rect x="109.66" y="258.24" width="7.01" height="1.56" fill="#c81010"/><rect x="116.62" y="258.24" width="7.01" height="1.56" fill="#cb1d1d"/><rect x="123.59" y="258.24" width="7.01" height="1.56" fill="#f4d4d8"/><rect x="130.55" y="258.24" width="7.01" height="1.56" fill="#de7173"/><rect x="137.51" y="258.24" width="7.01" height="1.56" fill="#c81010"/><rect x="144.48" y="258.24" width="7.01" height="1.56" fill="#9a8ce3"/><rect x="151.44" y="258.24" width="7.01" height="1.56" fill="#dc6869"/><rect x="47.00" y="259.75" width="7.01" height="1.56" fill="#9c8fe4"/><rect x="53.96" y="259.75" width="7.01" height="1.56" fill="#e18082"/><rect x="60.92" y="259.75" width="7.01" height="1.56" fill="#624ed4"/><rect x="67.89" y="259.75" width="7.01" height="1.56" fill="#998ce3"/><rect x="74.85" y="259.75" width="7.01" height="1.56" fill="#3e24c9"/><rect x="81.81" y="259.75" width="7.01" height="1.56" fill="#f1c5c9"/><rect x="88.78" y="259.75" width="7.01" height="1.56" fill="#cec7f1"/><rect x="95.74" y="259.75" width="7.01" height="1.56" fill="#8272dd"/><rect x="102.70" y="259.75" width="7.01" height="1.56" fill="#dc696a"/><rect x="109.66" y="259.75" width="7.01" height="1.56" fill="#d23c3c"/><rect x="116.62" y="259.75" width="7.01" height="1.56" fill="#e07a7c"/><rect x="123.59" y="259.75" width="7.01" height="1.56" fill="#ccc5f1"/><rect x="130.55" y="259.75" width="7.01" height="1.56" fill="#f2c9cc"/><rect x="137.51" y="259.75" width="7.01" height="1.56" fill="#d54a4b"/><rect x="144.48" y="259.75" width="7.01" height="1.56" fill="#c7bfef"/><rect x="151.44" y="259.75" width="7.01" height="1.56" fill="#e69598"/><rect x="47.00" y="261.26" width="7.01" height="1.56" fill="#edeafa"/><rect x="53.96" y="261.26" width="7.01" height="1.56" fill="#c3baee"/><rect x="60.92" y="261.26" width="7.01" height="1.56" fill="#7563d9"/><rect x="67.89" y="261.26" width="7.01" height="1.56" fill="#452ccb"/><rect x="74.85" y="261.26" width="7.01" height="1.56" fill="#3217c6"/><rect x="81.81" y="261.26" width="7.01" height="1.56" fill="#8474dd"/><rect x="88.78" y="261.26" width="7.01" height="1.56" fill="#4f38ce"/><rect x="95.74" y="261.26" width="7.01" height="1.56" fill="#9f92e4"/><rect x="102.70" y="261.26" width="7.01" height="1.56" fill="#e59194"/><rect x="109.66" y="261.26" width="7.01" height="1.56" fill="#cf2e2e"/><rect x="116.62" y="261.26" width="7.01" height="1.56" fill="#e28284"/><rect x="123.59" y="261.26" width="7.01" height="1.56" fill="#ebe8f9"/><rect x="130.55" y="261.26" width="7.01" height="1.56" fill="#e69497"/><rect x="137.51" y="261.26" width="7.01" height="1.56" fill="#c81111"/><rect x="144.48" y="261.26" width="7.01" height="1.56" fill="#b5abea"/><rect x="151.44" y="261.26" width="7.01" height="1.56" fill="#e79b9e"/><rect x="47.00" y="262.76" width="7.01" height="1.56" fill="#a99de7"/><rect x="53.96" y="262.76" width="7.01" height="1.56" fill="#cbc4f1"/><rect x="60.92" y="262.76" width="7.01" height="1.56" fill="#9d90e4"/><rect x="67.89" y="262.76" width="7.01" height="1.56" fill="#806fdc"/><rect x="74.85" y="262.76" width="7.01" height="1.56" fill="#6e5bd7"/><rect x="81.81" y="262.76" width="7.01" height="1.56" fill="#d9d3f5"/><rect x="88.78" y="262.76" width="7.01" height="1.56" fill="#8878de"/><rect x="95.74" y="262.76" width="7.01" height="1.56" fill="#d5cef3"/><rect x="102.70" y="262.76" width="7.01" height="1.56" fill="#edb5b8"/><rect x="109.66" y="262.76" width="7.01" height="1.56" fill="#da5f61"/><rect x="116.62" y="262.76" width="7.01" height="1.56" fill="#e89ea0"/><rect x="123.59" y="262.76" width="7.01" height="1.56" fill="#9384e1"/><rect x="130.55" y="262.76" width="7.01" height="1.56" fill="#f7e0e4"/><rect x="137.51" y="262.76" width="7.01" height="1.56" fill="#d23d3e"/><rect x="144.48" y="262.76" width="7.01" height="1.56" fill="#8777de"/><rect x="151.44" y="262.76" width="7.01" height="1.56" fill="#f6dce0"/><rect x="47.00" y="264.27" width="7.01" height="1.56" fill="#b2a7ea"/><rect x="53.96" y="264.27" width="7.01" height="1.56" fill="#7e6cdb"/><rect x="60.92" y="264.27" width="7.01" height="1.56" fill="#5f49d3"/><rect x="67.89" y="264.27" width="7.01" height="1.56" fill="#7967da"/><rect x="74.85" y="264.27" width="7.01" height="1.56" fill="#2a0ec4"/><rect x="81.81" y="264.27" width="7.01" height="1.56" fill="#9688e2"/><rect x="88.78" y="264.27" width="7.01" height="1.56" fill="#4128ca"/><rect x="95.74" y="264.27" width="7.01" height="1.56" fill="#6d59d6"/><rect x="102.70" y="264.27" width="7.01" height="1.56" fill="#f3cdd1"/><rect x="109.66" y="264.27" width="7.01" height="1.56" fill="#c81010"/><rect x="116.62" y="264.27" width="7.01" height="1.56" fill="#e48d90"/><rect x="123.59" y="264.27" width="7.01" height="1.56" fill="#ccc5f1"/><rect x="130.55" y="264.27" width="7.01" height="1.56" fill="#efbfc2"/><rect x="137.51" y="264.27" width="7.01" height="1.56" fill="#dc6769"/><rect x="144.48" y="264.27" width="7.01" height="1.56" fill="#c5bdef"/><rect x="151.44" y="264.27" width="7.01" height="1.56" fill="#eeb9bc"/><rect x="47.00" y="265.77" width="7.01" height="1.56" fill="#6c59d6"/><rect x="53.96" y="265.77" width="7.01" height="1.56" fill="#c3bbee"/><rect x="60.92" y="265.77" width="7.01" height="1.56" fill="#8878de"/><rect x="67.89" y="265.77" width="7.01" height="1.56" fill="#8e7fe0"/><rect x="74.85" y="265.77" width="7.01" height="1.56" fill="#7e6ddb"/><rect x="81.81" y="265.77" width="7.01" height="1.56" fill="#9b8ee3"/><rect x="88.78" y="265.77" width="7.01" height="1.56" fill="#8170dc"/><rect x="95.74" y="265.77" width="7.01" height="1.56" fill="#c1b8ee"/><rect x="102.70" y="265.77" width="7.01" height="1.56" fill="#e38789"/><rect x="109.66" y="265.77" width="7.01" height="1.56" fill="#d44344"/><rect x="116.62" y="265.77" width="7.01" height="1.56" fill="#e69496"/><rect x="123.59" y="265.77" width="7.01" height="1.56" fill="#b1a6e9"/><rect x="130.55" y="265.77" width="7.01" height="1.56" fill="#e28587"/><rect x="137.51" y="265.77" width="7.01" height="1.56" fill="#ce2b2c"/><rect x="144.48" y="265.77" width="7.01" height="1.56" fill="#dbd6f5"/><rect x="151.44" y="265.77" width="7.01" height="1.56" fill="#d65052"/><rect x="47.00" y="267.28" width="7.01" height="1.56" fill="#9c8fe4"/><rect x="53.96" y="267.28" width="7.01" height="1.56" fill="#bbb2ec"/><rect x="60.92" y="267.28" width="7.01" height="1.56" fill="#8372dd"/><rect x="67.89" y="267.28" width="7.01" height="1.56" fill="#cac3f0"/><rect x="74.85" y="267.28" width="7.01" height="1.56" fill="#a295e5"/><rect x="81.81" y="267.28" width="7.01" height="1.56" fill="#e69497"/><rect x="88.78" y="267.28" width="7.01" height="1.56" fill="#624ed4"/><rect x="95.74" y="267.28" width="7.01" height="1.56" fill="#9284e1"/><rect x="102.70" y="267.28" width="7.01" height="1.56" fill="#e48c8e"/><rect x="109.66" y="267.28" width="7.01" height="1.56" fill="#cf2f30"/><rect x="116.62" y="267.28" width="7.01" height="1.56" fill="#e7989a"/><rect x="123.59" y="267.28" width="7.01" height="1.56" fill="#e4e0f8"/><rect x="130.55" y="267.28" width="7.01" height="1.56" fill="#ecaeb1"/><rect x="137.51" y="267.28" width="7.01" height="1.56" fill="#d75152"/><rect x="144.48" y="267.28" width="7.01" height="1.56" fill="#cdc6f1"/><rect x="151.44" y="267.28" width="7.01" height="1.56" fill="#e89fa2"/><rect x="47.00" y="268.79" width="7.01" height="1.56" fill="#a99de7"/><rect x="53.96" y="268.79" width="7.01" height="1.56" fill="#f1c6c9"/><rect x="60.92" y="268.79" width="7.01" height="1.56" fill="#6955d5"/><rect x="67.89" y="268.79" width="7.01" height="1.56" fill="#563fd0"/><rect x="74.85" y="268.79" width="7.01" height="1.56" fill="#806fdc"/><rect x="81.81" y="268.79" width="7.01" height="1.56" fill="#c3bbef"/><rect x="88.78" y="268.79" width="7.01" height="1.56" fill="#8473dd"/><rect x="95.74" y="268.79" width="7.01" height="1.56" fill="#e8e4f9"/><rect x="102.70" y="268.79" width="7.01" height="1.56" fill="#e48e90"/><rect x="109.66" y="268.79" width="7.01" height="1.56" fill="#d23e3f"/><rect x="116.62" y="268.79" width="7.01" height="1.56" fill="#de7273"/><rect x="123.59" y="268.79" width="7.01" height="1.56" fill="#edb4b7"/><rect x="130.55" y="268.79" width="7.01" height="1.56" fill="#f8e3e7"/><rect x="137.51" y="268.79" width="7.01" height="1.56" fill="#d44748"/><rect x="144.48" y="268.79" width="7.01" height="1.56" fill="#d0caf2"/><rect x="151.44" y="268.79" width="7.01" height="1.56" fill="#ecafb2"/><rect x="47.00" y="270.29" width="7.01" height="1.56" fill="#5741d0"/><rect x="53.96" y="270.29" width="7.01" height="1.56" fill="#6b57d6"/><rect x="60.92" y="270.29" width="7.01" height="1.56" fill="#553fd0"/><rect x="67.89" y="270.29" width="7.01" height="1.56" fill="#2a0ec4"/><rect x="74.85" y="270.29" width="7.01" height="1.56" fill="#2a0ec4"/><rect x="81.81" y="270.29" width="7.01" height="1.56" fill="#7866da"/><rect x="88.78" y="270.29" width="7.01" height="1.56" fill="#9b8de3"/><rect x="95.74" y="270.29" width="7.01" height="1.56" fill="#2a0ec4"/><rect x="102.70" y="270.29" width="7.01" height="1.56" fill="#d75152"/><rect x="109.66" y="270.29" width="7.01" height="1.56" fill="#c81010"/><rect x="116.62" y="270.29" width="7.01" height="1.56" fill="#d34041"/><rect x="123.59" y="270.29" width="7.01" height="1.56" fill="#f3cfd2"/><rect x="130.55" y="270.29" width="7.01" height="1.56" fill="#e79b9d"/><rect x="137.51" y="270.29" width="7.01" height="1.56" fill="#c81010"/><rect x="144.48" y="270.29" width="7.01" height="1.56" fill="#c6beef"/><rect x="151.44" y="270.29" width="7.01" height="1.56" fill="#e07a7c"/><rect x="47.00" y="271.80" width="7.01" height="1.56" fill="#2a0ec4"/><rect x="53.96" y="271.80" width="7.01" height="1.56" fill="#8c7ddf"/><rect x="60.92" y="271.80" width="7.01" height="1.56" fill="#3e24c9"/><rect x="67.89" y="271.80" width="7.01" height="1.56" fill="#2a0ec4"/><rect x="74.85" y="271.80" width="7.01" height="1.56" fill="#2a0ec4"/><rect x="81.81" y="271.80" width="7.01" height="1.56" fill="#7866d9"/><rect x="88.78" y="271.80" width="7.01" height="1.56" fill="#4c35ce"/><rect x="95.74" y="271.80" width="7.01" height="1.56" fill="#4d35ce"/><rect x="102.70" y="271.80" width="7.01" height="1.56" fill="#d75152"/><rect x="109.66" y="271.80" width="7.01" height="1.56" fill="#c81010"/><rect x="116.62" y="271.80" width="7.01" height="1.56" fill="#e07b7d"/><rect x="123.59" y="271.80" width="7.01" height="1.56" fill="#cdc5f1"/><rect x="130.55" y="271.80" width="7.01" height="1.56" fill="#e59193"/><rect x="137.51" y="271.80" width="7.01" height="1.56" fill="#cc2020"/><rect x="144.48" y="271.80" width="7.01" height="1.56" fill="#8b7cdf"/><rect x="151.44" y="271.80" width="7.01" height="1.56" fill="#e48e90"/><rect x="47.00" y="273.31" width="7.01" height="1.56" fill="#9b8de3"/><rect x="53.96" y="273.31" width="7.01" height="1.56" fill="#8170dc"/><rect x="60.92" y="273.31" width="7.01" height="1.56" fill="#7260d8"/><rect x="67.89" y="273.31" width="7.01" height="1.56" fill="#715ed8"/><rect x="74.85" y="273.31" width="7.01" height="1.56" fill="#7967da"/><rect x="81.81" y="273.31" width="7.01" height="1.56" fill="#8271dc"/><rect x="88.78" y="273.31" width="7.01" height="1.56" fill="#533dd0"/><rect x="95.74" y="273.31" width="7.01" height="1.56" fill="#9f92e4"/><rect x="102.70" y="273.31" width="7.01" height="1.56" fill="#ce2c2d"/><rect x="109.66" y="273.31" width="7.01" height="1.56" fill="#c81010"/><rect x="116.62" y="273.31" width="7.01" height="1.56" fill="#e79a9d"/><rect x="123.59" y="273.31" width="7.01" height="1.56" fill="#d3ccf3"/><rect x="130.55" y="273.31" width="7.01" height="1.56" fill="#efbec1"/><rect x="137.51" y="273.31" width="7.01" height="1.56" fill="#c91414"/><rect x="144.48" y="273.31" width="7.01" height="1.56" fill="#afa4e9"/><rect x="151.44" y="273.31" width="7.01" height="1.56" fill="#e48b8d"/><rect x="47.00" y="274.81" width="7.01" height="1.56" fill="#ece9fa"/><rect x="53.96" y="274.81" width="7.01" height="1.56" fill="#faeef2"/><rect x="60.92" y="274.81" width="7.01" height="1.56" fill="#ada2e8"/><rect x="67.89" y="274.81" width="7.01" height="1.56" fill="#7967da"/><rect x="74.85" y="274.81" width="7.01" height="1.56" fill="#462ecc"/><rect x="81.81" y="274.81" width="7.01" height="1.56" fill="#c1b8ee"/><rect x="88.78" y="274.81" width="7.01" height="1.56" fill="#c3bbef"/><rect x="95.74" y="274.81" width="7.01" height="1.56" fill="#b1a6e9"/><rect x="102.70" y="274.81" width="7.01" height="1.56" fill="#d85758"/><rect x="109.66" y="274.81" width="7.01" height="1.56" fill="#cd2526"/><rect x="116.62" y="274.81" width="7.01" height="1.56" fill="#e59294"/><rect x="123.59" y="274.81" width="7.01" height="1.56" fill="#7a68da"/><rect x="130.55" y="274.81" width="7.01" height="1.56" fill="#e89da0"/><rect x="137.51" y="274.81" width="7.01" height="1.56" fill="#dc6768"/><rect x="144.48" y="274.81" width="7.01" height="1.56" fill="#f4d2d6"/><rect x="151.44" y="274.81" width="7.01" height="1.56" fill="#ebacaf"/><rect x="47.00" y="276.32" width="7.01" height="1.56" fill="#5b46d2"/><rect x="53.96" y="276.32" width="7.01" height="1.56" fill="#bdb4ed"/><rect x="60.92" y="276.32" width="7.01" height="1.56" fill="#6f5cd7"/><rect x="67.89" y="276.32" width="7.01" height="1.56" fill="#ada2e8"/><rect x="74.85" y="276.32" width="7.01" height="1.56" fill="#7663d9"/><rect x="81.81" y="276.32" width="7.01" height="1.56" fill="#9586e2"/><rect x="88.78" y="276.32" width="7.01" height="1.56" fill="#3217c6"/><rect x="95.74" y="276.32" width="7.01" height="1.56" fill="#8878de"/><rect x="102.70" y="276.32" width="7.01" height="1.56" fill="#eaa7aa"/><rect x="109.66" y="276.32" width="7.01" height="1.56" fill="#d75354"/><rect x="116.62" y="276.32" width="7.01" height="1.56" fill="#e17d7f"/><rect x="123.59" y="276.32" width="7.01" height="1.56" fill="#b7aeeb"/><rect x="130.55" y="276.32" width="7.01" height="1.56" fill="#ebabad"/><rect x="137.51" y="276.32" width="7.01" height="1.56" fill="#d34242"/><rect x="144.48" y="276.32" width="7.01" height="1.56" fill="#b3a9ea"/><rect x="151.44" y="276.32" width="7.01" height="1.56" fill="#eaa7a9"/><rect x="47.00" y="277.82" width="7.01" height="1.56" fill="#f9e8ec"/><rect x="53.96" y="277.82" width="7.01" height="1.56" fill="#edb4b7"/><rect x="60.92" y="277.82" width="7.01" height="1.56" fill="#8c7cdf"/><rect x="67.89" y="277.82" width="7.01" height="1.56" fill="#c0b7ee"/><rect x="74.85" y="277.82" width="7.01" height="1.56" fill="#e3dff7"/><rect x="81.81" y="277.82" width="7.01" height="1.56" fill="#f1c6ca"/><rect x="88.78" y="277.82" width="7.01" height="1.56" fill="#f4d5d9"/><rect x="95.74" y="277.82" width="7.01" height="1.56" fill="#c1b9ee"/><rect x="102.70" y="277.82" width="7.01" height="1.56" fill="#f0c2c5"/><rect x="109.66" y="277.82" width="7.01" height="1.56" fill="#e28587"/><rect x="116.62" y="277.82" width="7.01" height="1.56" fill="#f6dade"/><rect x="123.59" y="277.82" width="7.01" height="1.56" fill="#705dd7"/><rect x="130.55" y="277.82" width="7.01" height="1.56" fill="#f6dbde"/><rect x="137.51" y="277.82" width="7.01" height="1.56" fill="#d75152"/><rect x="144.48" y="277.82" width="7.01" height="1.56" fill="#e2def7"/><rect x="151.44" y="277.82" width="7.01" height="1.56" fill="#e79b9e"/><rect x="47.00" y="279.33" width="7.01" height="1.56" fill="#6854d5"/><rect x="53.96" y="279.33" width="7.01" height="1.56" fill="#e4e0f8"/><rect x="60.92" y="279.33" width="7.01" height="1.56" fill="#9081e0"/><rect x="67.89" y="279.33" width="7.01" height="1.56" fill="#cbc3f1"/><rect x="74.85" y="279.33" width="7.01" height="1.56" fill="#c5bdef"/><rect x="81.81" y="279.33" width="7.01" height="1.56" fill="#faeef2"/><rect x="88.78" y="279.33" width="7.01" height="1.56" fill="#533dcf"/><rect x="95.74" y="279.33" width="7.01" height="1.56" fill="#705dd7"/><rect x="102.70" y="279.33" width="7.01" height="1.56" fill="#e48e90"/><rect x="109.66" y="279.33" width="7.01" height="1.56" fill="#d34344"/><rect x="116.62" y="279.33" width="7.01" height="1.56" fill="#e07c7e"/><rect x="123.59" y="279.33" width="7.01" height="1.56" fill="#ddd9f6"/><rect x="130.55" y="279.33" width="7.01" height="1.56" fill="#e3888a"/><rect x="137.51" y="279.33" width="7.01" height="1.56" fill="#cc2324"/><rect x="144.48" y="279.33" width="7.01" height="1.56" fill="#a599e6"/><rect x="151.44" y="279.33" width="7.01" height="1.56" fill="#ecb0b3"/><rect x="47.00" y="280.84" width="7.01" height="1.56" fill="#e2def7"/><rect x="53.96" y="280.84" width="7.01" height="1.56" fill="#eeb8bb"/><rect x="60.92" y="280.84" width="7.01" height="1.56" fill="#d1cbf2"/><rect x="67.89" y="280.84" width="7.01" height="1.56" fill="#9485e1"/><rect x="74.85" y="280.84" width="7.01" height="1.56" fill="#9587e2"/><rect x="81.81" y="280.84" width="7.01" height="1.56" fill="#f9e8ec"/><rect x="88.78" y="280.84" width="7.01" height="1.56" fill="#d2ccf3"/><rect x="95.74" y="280.84" width="7.01" height="1.56" fill="#bdb4ed"/><rect x="102.70" y="280.84" width="7.01" height="1.56" fill="#f3cfd2"/><rect x="109.66" y="280.84" width="7.01" height="1.56" fill="#c81212"/><rect x="116.62" y="280.84" width="7.01" height="1.56" fill="#e3888a"/><rect x="123.59" y="280.84" width="7.01" height="1.56" fill="#aba0e8"/><rect x="130.55" y="280.84" width="7.01" height="1.56" fill="#e69699"/><rect x="137.51" y="280.84" width="7.01" height="1.56" fill="#cd2829"/><rect x="144.48" y="280.84" width="7.01" height="1.56" fill="#c9c2f0"/><rect x="151.44" y="280.84" width="7.01" height="1.56" fill="#f4d4d8"/><rect x="47.00" y="282.34" width="7.01" height="1.56" fill="#b5abeb"/><rect x="53.96" y="282.34" width="7.01" height="1.56" fill="#cfc8f2"/><rect x="60.92" y="282.34" width="7.01" height="1.56" fill="#4e36ce"/><rect x="67.89" y="282.34" width="7.01" height="1.56" fill="#9182e0"/><rect x="74.85" y="282.34" width="7.01" height="1.56" fill="#8f80e0"/><rect x="81.81" y="282.34" width="7.01" height="1.56" fill="#d2cbf2"/><rect x="88.78" y="282.34" width="7.01" height="1.56" fill="#a194e5"/><rect x="95.74" y="282.34" width="7.01" height="1.56" fill="#7c6adb"/><rect x="102.70" y="282.34" width="7.01" height="1.56" fill="#ebabae"/><rect x="109.66" y="282.34" width="7.01" height="1.56" fill="#ca1a1a"/><rect x="116.62" y="282.34" width="7.01" height="1.56" fill="#e79b9d"/><rect x="123.59" y="282.34" width="7.01" height="1.56" fill="#c8c0f0"/><rect x="130.55" y="282.34" width="7.01" height="1.56" fill="#c81212"/><rect x="137.51" y="282.34" width="7.01" height="1.56" fill="#c91314"/><rect x="144.48" y="282.34" width="7.01" height="1.56" fill="#d2cbf2"/><rect x="151.44" y="282.34" width="7.01" height="1.56" fill="#f2cccf"/><rect x="47.00" y="283.85" width="7.01" height="1.56" fill="#c1b8ee"/><rect x="53.96" y="283.85" width="7.01" height="1.56" fill="#b0a5e9"/><rect x="60.92" y="283.85" width="7.01" height="1.56" fill="#9082e0"/><rect x="67.89" y="283.85" width="7.01" height="1.56" fill="#2a0ec4"/><rect x="74.85" y="283.85" width="7.01" height="1.56" fill="#8a7bdf"/><rect x="81.81" y="283.85" width="7.01" height="1.56" fill="#ada2e8"/><rect x="88.78" y="283.85" width="7.01" height="1.56" fill="#b0a5e9"/><rect x="95.74" y="283.85" width="7.01" height="1.56" fill="#d1caf2"/><rect x="102.70" y="283.85" width="7.01" height="1.56" fill="#e79b9d"/><rect x="109.66" y="283.85" width="7.01" height="1.56" fill="#c81010"/><rect x="116.62" y="283.85" width="7.01" height="1.56" fill="#e38688"/><rect x="123.59" y="283.85" width="7.01" height="1.56" fill="#b6aceb"/><rect x="130.55" y="283.85" width="7.01" height="1.56" fill="#efbec1"/><rect x="137.51" y="283.85" width="7.01" height="1.56" fill="#d54a4b"/><rect x="144.48" y="283.85" width="7.01" height="1.56" fill="#f6dcdf"/><rect x="151.44" y="283.85" width="7.01" height="1.56" fill="#df7779"/><rect x="47.00" y="285.36" width="7.01" height="1.56" fill="#faeef2"/><rect x="53.96" y="285.36" width="7.01" height="1.56" fill="#ddd8f6"/><rect x="60.92" y="285.36" width="7.01" height="1.56" fill="#8171dc"/><rect x="67.89" y="285.36" width="7.01" height="1.56" fill="#e7e3f8"/><rect x="74.85" y="285.36" width="7.01" height="1.56" fill="#604bd3"/><rect x="81.81" y="285.36" width="7.01" height="1.56" fill="#eba9ac"/><rect x="88.78" y="285.36" width="7.01" height="1.56" fill="#c7c0f0"/><rect x="95.74" y="285.36" width="7.01" height="1.56" fill="#eae7f9"/><rect x="102.70" y="285.36" width="7.01" height="1.56" fill="#e9a2a4"/><rect x="109.66" y="285.36" width="7.01" height="1.56" fill="#cc2323"/><rect x="116.62" y="285.36" width="7.01" height="1.56" fill="#e9a1a4"/><rect x="123.59" y="285.36" width="7.01" height="1.56" fill="#d9d4f5"/><rect x="130.55" y="285.36" width="7.01" height="1.56" fill="#e9a4a6"/><rect x="137.51" y="285.36" width="7.01" height="1.56" fill="#cd2525"/><rect x="144.48" y="285.36" width="7.01" height="1.56" fill="#bab1ec"/><rect x="151.44" y="285.36" width="7.01" height="1.56" fill="#e59093"/><rect x="47.00" y="286.86" width="7.01" height="1.56" fill="#604bd3"/><rect x="53.96" y="286.86" width="7.01" height="1.56" fill="#aea3e9"/><rect x="60.92" y="286.86" width="7.01" height="1.56" fill="#4a32cd"/><rect x="67.89" y="286.86" width="7.01" height="1.56" fill="#371dc8"/><rect x="74.85" y="286.86" width="7.01" height="1.56" fill="#452ccb"/><rect x="81.81" y="286.86" width="7.01" height="1.56" fill="#7f6edc"/><rect x="88.78" y="286.86" width="7.01" height="1.56" fill="#2b0fc4"/><rect x="95.74" y="286.86" width="7.01" height="1.56" fill="#553ed0"/><rect x="102.70" y="286.86" width="7.01" height="1.56" fill="#dc6869"/><rect x="109.66" y="286.86" width="7.01" height="1.56" fill="#c81010"/><rect x="116.62" y="286.86" width="7.01" height="1.56" fill="#d64f51"/><rect x="123.59" y="286.86" width="7.01" height="1.56" fill="#705dd7"/><rect x="130.55" y="286.86" width="7.01" height="1.56" fill="#dc6a6c"/><rect x="137.51" y="286.86" width="7.01" height="1.56" fill="#c81010"/><rect x="144.48" y="286.86" width="7.01" height="1.56" fill="#a99de7"/><rect x="151.44" y="286.86" width="7.01" height="1.56" fill="#e07b7d"/><rect x="47.00" y="288.37" width="7.01" height="1.56" fill="#bcb3ed"/><rect x="53.96" y="288.37" width="7.01" height="1.56" fill="#b3a8ea"/><rect x="60.92" y="288.37" width="7.01" height="1.56" fill="#998be3"/><rect x="67.89" y="288.37" width="7.01" height="1.56" fill="#2a0ec4"/><rect x="74.85" y="288.37" width="7.01" height="1.56" fill="#6f5bd7"/><rect x="81.81" y="288.37" width="7.01" height="1.56" fill="#b8aeeb"/><rect x="88.78" y="288.37" width="7.01" height="1.56" fill="#6f5bd7"/><rect x="95.74" y="288.37" width="7.01" height="1.56" fill="#b0a5e9"/><rect x="102.70" y="288.37" width="7.01" height="1.56" fill="#d64d4e"/><rect x="109.66" y="288.37" width="7.01" height="1.56" fill="#c81010"/><rect x="116.62" y="288.37" width="7.01" height="1.56" fill="#e9a1a4"/><rect x="123.59" y="288.37" width="7.01" height="1.56" fill="#f6dcdf"/><rect x="130.55" y="288.37" width="7.01" height="1.56" fill="#f0c0c4"/><rect x="137.51" y="288.37" width="7.01" height="1.56" fill="#cd2525"/><rect x="144.48" y="288.37" width="7.01" height="1.56" fill="#b1a7ea"/><rect x="151.44" y="288.37" width="7.01" height="1.56" fill="#e07c7e"/><rect x="47.00" y="289.88" width="7.01" height="1.56" fill="#9586e2"/><rect x="53.96" y="289.88" width="7.01" height="1.56" fill="#b6aceb"/><rect x="60.92" y="289.88" width="7.01" height="1.56" fill="#8676de"/><rect x="67.89" y="289.88" width="7.01" height="1.56" fill="#5c46d2"/><rect x="74.85" y="289.88" width="7.01" height="1.56" fill="#9486e1"/><rect x="81.81" y="289.88" width="7.01" height="1.56" fill="#9f92e4"/><rect x="88.78" y="289.88" width="7.01" height="1.56" fill="#7967da"/><rect x="95.74" y="289.88" width="7.01" height="1.56" fill="#7664d9"/><rect x="102.70" y="289.88" width="7.01" height="1.56" fill="#e9a3a6"/><rect x="109.66" y="289.88" width="7.01" height="1.56" fill="#ce2929"/><rect x="116.62" y="289.88" width="7.01" height="1.56" fill="#edb6b9"/><rect x="123.59" y="289.88" width="7.01" height="1.56" fill="#d2ccf3"/><rect x="130.55" y="289.88" width="7.01" height="1.56" fill="#e69597"/><rect x="137.51" y="289.88" width="7.01" height="1.56" fill="#ce2b2c"/><rect x="144.48" y="289.88" width="7.01" height="1.56" fill="#f3cdd0"/><rect x="151.44" y="289.88" width="7.01" height="1.56" fill="#eaa6a8"/><rect x="47.00" y="291.38" width="7.01" height="1.56" fill="#a79be7"/><rect x="53.96" y="291.38" width="7.01" height="1.56" fill="#a69ae6"/><rect x="60.92" y="291.38" width="7.01" height="1.56" fill="#8272dc"/><rect x="67.89" y="291.38" width="7.01" height="1.56" fill="#9e91e4"/><rect x="74.85" y="291.38" width="7.01" height="1.56" fill="#6854d5"/><rect x="81.81" y="291.38" width="7.01" height="1.56" fill="#c7c0f0"/><rect x="88.78" y="291.38" width="7.01" height="1.56" fill="#c8c1f0"/><rect x="95.74" y="291.38" width="7.01" height="1.56" fill="#8d7edf"/><rect x="102.70" y="291.38" width="7.01" height="1.56" fill="#f1c4c7"/><rect x="109.66" y="291.38" width="7.01" height="1.56" fill="#d23b3b"/><rect x="116.62" y="291.38" width="7.01" height="1.56" fill="#db6567"/><rect x="123.59" y="291.38" width="7.01" height="1.56" fill="#bab0ec"/><rect x="130.55" y="291.38" width="7.01" height="1.56" fill="#f8e6ea"/><rect x="137.51" y="291.38" width="7.01" height="1.56" fill="#dc6768"/><rect x="144.48" y="291.38" width="7.01" height="1.56" fill="#dad5f5"/><rect x="151.44" y="291.38" width="7.01" height="1.56" fill="#d75455"/><rect x="47.00" y="292.89" width="7.01" height="1.56" fill="#6e5bd7"/><rect x="53.96" y="292.89" width="7.01" height="1.56" fill="#edb6b9"/><rect x="60.92" y="292.89" width="7.01" height="1.56" fill="#c1b8ee"/><rect x="67.89" y="292.89" width="7.01" height="1.56" fill="#b1a6e9"/><rect x="74.85" y="292.89" width="7.01" height="1.56" fill="#a397e6"/><rect x="81.81" y="292.89" width="7.01" height="1.56" fill="#d9d3f4"/><rect x="88.78" y="292.89" width="7.01" height="1.56" fill="#e6e3f8"/><rect x="95.74" y="292.89" width="7.01" height="1.56" fill="#f7e2e6"/><rect x="102.70" y="292.89" width="7.01" height="1.56" fill="#ecaeb1"/><rect x="109.66" y="292.89" width="7.01" height="1.56" fill="#dc6769"/><rect x="116.62" y="292.89" width="7.01" height="1.56" fill="#e59093"/><rect x="123.59" y="292.89" width="7.01" height="1.56" fill="#bab1ec"/><rect x="130.55" y="292.89" width="7.01" height="1.56" fill="#e59395"/><rect x="137.51" y="292.89" width="7.01" height="1.56" fill="#df7576"/><rect x="144.48" y="292.89" width="7.01" height="1.56" fill="#eae6f9"/><rect x="151.44" y="292.89" width="7.01" height="1.56" fill="#e9a1a4"/><rect x="47.00" y="294.39" width="7.01" height="1.56" fill="#7360d8"/><rect x="53.96" y="294.39" width="7.01" height="1.56" fill="#b9afec"/><rect x="60.92" y="294.39" width="7.01" height="1.56" fill="#543ed0"/><rect x="67.89" y="294.39" width="7.01" height="1.56" fill="#8372dd"/><rect x="74.85" y="294.39" width="7.01" height="1.56" fill="#715ed8"/><rect x="81.81" y="294.39" width="7.01" height="1.56" fill="#d2ccf3"/><rect x="88.78" y="294.39" width="7.01" height="1.56" fill="#523bcf"/><rect x="95.74" y="294.39" width="7.01" height="1.56" fill="#2a0ec4"/><rect x="102.70" y="294.39" width="7.01" height="1.56" fill="#df7778"/><rect x="109.66" y="294.39" width="7.01" height="1.56" fill="#c91414"/><rect x="116.62" y="294.39" width="7.01" height="1.56" fill="#e3898b"/><rect x="123.59" y="294.39" width="7.01" height="1.56" fill="#dbd6f5"/><rect x="130.55" y="294.39" width="7.01" height="1.56" fill="#e18082"/><rect x="137.51" y="294.39" width="7.01" height="1.56" fill="#c81010"/><rect x="144.48" y="294.39" width="7.01" height="1.56" fill="#f7e2e6"/><rect x="151.44" y="294.39" width="7.01" height="1.56" fill="#db6668"/><rect x="47.00" y="295.90" width="7.01" height="1.56" fill="#b5abeb"/><rect x="53.96" y="295.90" width="7.01" height="1.56" fill="#f1effb"/><rect x="60.92" y="295.90" width="7.01" height="1.56" fill="#f9ebef"/><rect x="67.89" y="295.90" width="7.01" height="1.56" fill="#e7e3f8"/><rect x="74.85" y="295.90" width="7.01" height="1.56" fill="#b3a8ea"/><rect x="81.81" y="295.90" width="7.01" height="1.56" fill="#ebacaf"/><rect x="88.78" y="295.90" width="7.01" height="1.56" fill="#9d90e4"/><rect x="95.74" y="295.90" width="7.01" height="1.56" fill="#c1b9ee"/><rect x="102.70" y="295.90" width="7.01" height="1.56" fill="#e17e80"/><rect x="109.66" y="295.90" width="7.01" height="1.56" fill="#d23c3d"/><rect x="116.62" y="295.90" width="7.01" height="1.56" fill="#e3888a"/><rect x="123.59" y="295.90" width="7.01" height="1.56" fill="#6955d5"/><rect x="130.55" y="295.90" width="7.01" height="1.56" fill="#e0dbf6"/><rect x="137.51" y="295.90" width="7.01" height="1.56" fill="#dd6b6d"/><rect x="144.48" y="295.90" width="7.01" height="1.56" fill="#f9e8eb"/><rect x="151.44" y="295.90" width="7.01" height="1.56" fill="#e07a7c"/><rect x="47.00" y="297.41" width="7.01" height="1.56" fill="#9284e1"/><rect x="53.96" y="297.41" width="7.01" height="1.56" fill="#c0b7ee"/><rect x="60.92" y="297.41" width="7.01" height="1.56" fill="#9789e2"/><rect x="67.89" y="297.41" width="7.01" height="1.56" fill="#c7bfef"/><rect x="74.85" y="297.41" width="7.01" height="1.56" fill="#8e7fe0"/><rect x="81.81" y="297.41" width="7.01" height="1.56" fill="#e48b8d"/><rect x="88.78" y="297.41" width="7.01" height="1.56" fill="#dfdaf6"/><rect x="95.74" y="297.41" width="7.01" height="1.56" fill="#9688e2"/><rect x="102.70" y="297.41" width="7.01" height="1.56" fill="#e9a1a4"/><rect x="109.66" y="297.41" width="7.01" height="1.56" fill="#d54849"/><rect x="116.62" y="297.41" width="7.01" height="1.56" fill="#e3878a"/><rect x="123.59" y="297.41" width="7.01" height="1.56" fill="#e9e6f9"/><rect x="130.55" y="297.41" width="7.01" height="1.56" fill="#f0c1c5"/><rect x="137.51" y="297.41" width="7.01" height="1.56" fill="#cc2222"/><rect x="144.48" y="297.41" width="7.01" height="1.56" fill="#e6e2f8"/><rect x="151.44" y="297.41" width="7.01" height="1.56" fill="#ebadb0"/><rect x="47.00" y="298.91" width="7.01" height="1.56" fill="#c4bcef"/><rect x="53.96" y="298.91" width="7.01" height="1.56" fill="#bfb6ed"/><rect x="60.92" y="298.91" width="7.01" height="1.56" fill="#7e6ddb"/><rect x="67.89" y="298.91" width="7.01" height="1.56" fill="#c8c1f0"/><rect x="74.85" y="298.91" width="7.01" height="1.56" fill="#7b69da"/><rect x="81.81" y="298.91" width="7.01" height="1.56" fill="#aa9ee7"/><rect x="88.78" y="298.91" width="7.01" height="1.56" fill="#ada2e8"/><rect x="95.74" y="298.91" width="7.01" height="1.56" fill="#4931cd"/><rect x="102.70" y="298.91" width="7.01" height="1.56" fill="#e58f92"/><rect x="109.66" y="298.91" width="7.01" height="1.56" fill="#d95b5c"/><rect x="116.62" y="298.91" width="7.01" height="1.56" fill="#e79b9d"/><rect x="123.59" y="298.91" width="7.01" height="1.56" fill="#6d5ad7"/><rect x="130.55" y="298.91" width="7.01" height="1.56" fill="#f4d4d8"/><rect x="137.51" y="298.91" width="7.01" height="1.56" fill="#c81010"/><rect x="144.48" y="298.91" width="7.01" height="1.56" fill="#c3bbef"/><rect x="151.44" y="298.91" width="7.01" height="1.56" fill="#efbdc0"/><rect x="47.00" y="300.42" width="7.01" height="1.56" fill="#4229cb"/><rect x="53.96" y="300.42" width="7.01" height="1.56" fill="#ded9f6"/><rect x="60.92" y="300.42" width="7.01" height="1.56" fill="#472fcc"/><rect x="67.89" y="300.42" width="7.01" height="1.56" fill="#2a0ec4"/><rect x="74.85" y="300.42" width="7.01" height="1.56" fill="#9d90e4"/><rect x="81.81" y="300.42" width="7.01" height="1.56" fill="#7360d8"/><rect x="88.78" y="300.42" width="7.01" height="1.56" fill="#7f6edc"/><rect x="95.74" y="300.42" width="7.01" height="1.56" fill="#9587e2"/><rect x="102.70" y="300.42" width="7.01" height="1.56" fill="#e69799"/><rect x="109.66" y="300.42" width="7.01" height="1.56" fill="#c81010"/><rect x="116.62" y="300.42" width="7.01" height="1.56" fill="#df7678"/><rect x="123.59" y="300.42" width="7.01" height="1.56" fill="#dcd7f5"/><rect x="130.55" y="300.42" width="7.01" height="1.56" fill="#ecb0b3"/><rect x="137.51" y="300.42" width="7.01" height="1.56" fill="#cf2e2e"/><rect x="144.48" y="300.42" width="7.01" height="1.56" fill="#cfc8f2"/><rect x="151.44" y="300.42" width="7.01" height="1.56" fill="#d54c4d"/><rect x="47.00" y="301.93" width="7.01" height="1.56" fill="#d9d3f4"/><rect x="53.96" y="301.93" width="7.01" height="1.56" fill="#ccc5f1"/><rect x="60.92" y="301.93" width="7.01" height="1.56" fill="#b9afec"/><rect x="67.89" y="301.93" width="7.01" height="1.56" fill="#b4a9ea"/><rect x="74.85" y="301.93" width="7.01" height="1.56" fill="#9e91e4"/><rect x="81.81" y="301.93" width="7.01" height="1.56" fill="#eeb9bc"/><rect x="88.78" y="301.93" width="7.01" height="1.56" fill="#e2ddf7"/><rect x="95.74" y="301.93" width="7.01" height="1.56" fill="#dcd7f5"/><rect x="102.70" y="301.93" width="7.01" height="1.56" fill="#e38789"/><rect x="109.66" y="301.93" width="7.01" height="1.56" fill="#d03435"/><rect x="116.62" y="301.93" width="7.01" height="1.56" fill="#f1c5c8"/><rect x="123.59" y="301.93" width="7.01" height="1.56" fill="#f1effb"/><rect x="130.55" y="301.93" width="7.01" height="1.56" fill="#d85758"/><rect x="137.51" y="301.93" width="7.01" height="1.56" fill="#d03132"/><rect x="144.48" y="301.93" width="7.01" height="1.56" fill="#c0b7ee"/><rect x="151.44" y="301.93" width="7.01" height="1.56" fill="#e9a2a5"/><rect x="47.00" y="303.43" width="7.01" height="1.56" fill="#8b7bdf"/><rect x="53.96" y="303.43" width="7.01" height="1.56" fill="#7461d8"/><rect x="60.92" y="303.43" width="7.01" height="1.56" fill="#7260d8"/><rect x="67.89" y="303.43" width="7.01" height="1.56" fill="#3a20c8"/><rect x="74.85" y="303.43" width="7.01" height="1.56" fill="#4c35ce"/><rect x="81.81" y="303.43" width="7.01" height="1.56" fill="#725fd8"/><rect x="88.78" y="303.43" width="7.01" height="1.56" fill="#4229cb"/><rect x="95.74" y="303.43" width="7.01" height="1.56" fill="#bfb6ed"/><rect x="102.70" y="303.43" width="7.01" height="1.56" fill="#d65051"/><rect x="109.66" y="303.43" width="7.01" height="1.56" fill="#d54a4b"/><rect x="116.62" y="303.43" width="7.01" height="1.56" fill="#e69496"/><rect x="123.59" y="303.43" width="7.01" height="1.56" fill="#aba0e8"/><rect x="130.55" y="303.43" width="7.01" height="1.56" fill="#f0c3c7"/><rect x="137.51" y="303.43" width="7.01" height="1.56" fill="#d34242"/><rect x="144.48" y="303.43" width="7.01" height="1.56" fill="#faecf0"/><rect x="151.44" y="303.43" width="7.01" height="1.56" fill="#ecb1b4"/><rect x="47.00" y="304.94" width="7.01" height="1.56" fill="#b8aeeb"/><rect x="53.96" y="304.94" width="7.01" height="1.56" fill="#ab9fe8"/><rect x="60.92" y="304.94" width="7.01" height="1.56" fill="#705dd7"/><rect x="67.89" y="304.94" width="7.01" height="1.56" fill="#7d6cdb"/><rect x="74.85" y="304.94" width="7.01" height="1.56" fill="#7765d9"/><rect x="81.81" y="304.94" width="7.01" height="1.56" fill="#4830cc"/><rect x="88.78" y="304.94" width="7.01" height="1.56" fill="#452dcc"/><rect x="95.74" y="304.94" width="7.01" height="1.56" fill="#a498e6"/><rect x="102.70" y="304.94" width="7.01" height="1.56" fill="#e3898b"/><rect x="109.66" y="304.94" width="7.01" height="1.56" fill="#cf2d2d"/><rect x="116.62" y="304.94" width="7.01" height="1.56" fill="#e9a3a6"/><rect x="123.59" y="304.94" width="7.01" height="1.56" fill="#9f92e4"/><rect x="130.55" y="304.94" width="7.01" height="1.56" fill="#f5d7da"/><rect x="137.51" y="304.94" width="7.01" height="1.56" fill="#c81010"/><rect x="144.48" y="304.94" width="7.01" height="1.56" fill="#9182e1"/><rect x="151.44" y="304.94" width="7.01" height="1.56" fill="#d64c4d"/><rect x="47.00" y="306.44" width="7.01" height="1.56" fill="#a99de7"/><rect x="53.96" y="306.44" width="7.01" height="1.56" fill="#d2ccf3"/><rect x="60.92" y="306.44" width="7.01" height="1.56" fill="#8979de"/><rect x="67.89" y="306.44" width="7.01" height="1.56" fill="#dbd6f5"/><rect x="74.85" y="306.44" width="7.01" height="1.56" fill="#9587e2"/><rect x="81.81" y="306.44" width="7.01" height="1.56" fill="#c0b7ee"/><rect x="88.78" y="306.44" width="7.01" height="1.56" fill="#8c7ddf"/><rect x="95.74" y="306.44" width="7.01" height="1.56" fill="#9d90e4"/><rect x="102.70" y="306.44" width="7.01" height="1.56" fill="#edb5b8"/><rect x="109.66" y="306.44" width="7.01" height="1.56" fill="#cf3030"/><rect x="116.62" y="306.44" width="7.01" height="1.56" fill="#e89c9e"/><rect x="123.59" y="306.44" width="7.01" height="1.56" fill="#ddd8f6"/><rect x="130.55" y="306.44" width="7.01" height="1.56" fill="#e59093"/><rect x="137.51" y="306.44" width="7.01" height="1.56" fill="#dc696b"/><rect x="144.48" y="306.44" width="7.01" height="1.56" fill="#c1b9ee"/><rect x="151.44" y="306.44" width="7.01" height="1.56" fill="#db6668"/><rect x="47.00" y="307.95" width="7.01" height="1.56" fill="#aca1e8"/><rect x="53.96" y="307.95" width="7.01" height="1.56" fill="#e48e90"/><rect x="60.92" y="307.95" width="7.01" height="1.56" fill="#e5e1f8"/><rect x="67.89" y="307.95" width="7.01" height="1.56" fill="#bcb2ec"/><rect x="74.85" y="307.95" width="7.01" height="1.56" fill="#8878de"/><rect x="81.81" y="307.95" width="7.01" height="1.56" fill="#f1c6c9"/><rect x="88.78" y="307.95" width="7.01" height="1.56" fill="#c4bbef"/><rect x="95.74" y="307.95" width="7.01" height="1.56" fill="#edeafa"/><rect x="102.70" y="307.95" width="7.01" height="1.56" fill="#ecaeb1"/><rect x="109.66" y="307.95" width="7.01" height="1.56" fill="#d23d3e"/><rect x="116.62" y="307.95" width="7.01" height="1.56" fill="#f1c4c7"/><rect x="123.59" y="307.95" width="7.01" height="1.56" fill="#a79be7"/><rect x="130.55" y="307.95" width="7.01" height="1.56" fill="#ecaeb1"/><rect x="137.51" y="307.95" width="7.01" height="1.56" fill="#d95b5c"/><rect x="144.48" y="307.95" width="7.01" height="1.56" fill="#d4cef3"/><rect x="151.44" y="307.95" width="7.01" height="1.56" fill="#f4d2d5"/><rect x="47.00" y="309.46" width="7.01" height="1.56" fill="#9f92e4"/><rect x="53.96" y="309.46" width="7.01" height="1.56" fill="#c8c0f0"/><rect x="60.92" y="309.46" width="7.01" height="1.56" fill="#c8c0f0"/><rect x="67.89" y="309.46" width="7.01" height="1.56" fill="#e6e2f8"/><rect x="74.85" y="309.46" width="7.01" height="1.56" fill="#806fdc"/><rect x="81.81" y="309.46" width="7.01" height="1.56" fill="#f7dfe3"/><rect x="88.78" y="309.46" width="7.01" height="1.56" fill="#c8c0f0"/><rect x="95.74" y="309.46" width="7.01" height="1.56" fill="#bbb1ec"/><rect x="102.70" y="309.46" width="7.01" height="1.56" fill="#e38688"/><rect x="109.66" y="309.46" width="7.01" height="1.56" fill="#d64e4f"/><rect x="116.62" y="309.46" width="7.01" height="1.56" fill="#e28587"/><rect x="123.59" y="309.46" width="7.01" height="1.56" fill="#cec7f1"/><rect x="130.55" y="309.46" width="7.01" height="1.56" fill="#8777de"/><rect x="137.51" y="309.46" width="7.01" height="1.56" fill="#ce2c2c"/><rect x="144.48" y="309.46" width="7.01" height="1.56" fill="#e9e5f9"/><rect x="151.44" y="309.46" width="7.01" height="1.56" fill="#d85658"/><rect x="47.00" y="310.96" width="7.01" height="1.56" fill="#eae7f9"/><rect x="53.96" y="310.96" width="7.01" height="1.56" fill="#efbdc1"/><rect x="60.92" y="310.96" width="7.01" height="1.56" fill="#afa5e9"/><rect x="67.89" y="310.96" width="7.01" height="1.56" fill="#f3d0d3"/><rect x="74.85" y="310.96" width="7.01" height="1.56" fill="#dcd7f5"/><rect x="81.81" y="310.96" width="7.01" height="1.56" fill="#dbd6f5"/><rect x="88.78" y="310.96" width="7.01" height="1.56" fill="#998be3"/><rect x="95.74" y="310.96" width="7.01" height="1.56" fill="#c4bbef"/><rect x="102.70" y="310.96" width="7.01" height="1.56" fill="#da5e60"/><rect x="109.66" y="310.96" width="7.01" height="1.56" fill="#c81010"/><rect x="116.62" y="310.96" width="7.01" height="1.56" fill="#f6dce0"/><rect x="123.59" y="310.96" width="7.01" height="1.56" fill="#6955d5"/><rect x="130.55" y="310.96" width="7.01" height="1.56" fill="#e48c8e"/><rect x="137.51" y="310.96" width="7.01" height="1.56" fill="#d85557"/><rect x="144.48" y="310.96" width="7.01" height="1.56" fill="#aea2e8"/><rect x="151.44" y="310.96" width="7.01" height="1.56" fill="#e9a1a4"/><rect x="47.00" y="312.47" width="7.01" height="1.56" fill="#c3baee"/><rect x="53.96" y="312.47" width="7.01" height="1.56" fill="#e9e5f9"/><rect x="60.92" y="312.47" width="7.01" height="1.56" fill="#7664d9"/><rect x="67.89" y="312.47" width="7.01" height="1.56" fill="#e5e1f8"/><rect x="74.85" y="312.47" width="7.01" height="1.56" fill="#7967da"/><rect x="81.81" y="312.47" width="7.01" height="1.56" fill="#f2cccf"/><rect x="88.78" y="312.47" width="7.01" height="1.56" fill="#cfc8f2"/><rect x="95.74" y="312.47" width="7.01" height="1.56" fill="#aba0e8"/><rect x="102.70" y="312.47" width="7.01" height="1.56" fill="#e59193"/><rect x="109.66" y="312.47" width="7.01" height="1.56" fill="#d03232"/><rect x="116.62" y="312.47" width="7.01" height="1.56" fill="#f5d6da"/><rect x="123.59" y="312.47" width="7.01" height="1.56" fill="#b0a5e9"/><rect x="130.55" y="312.47" width="7.01" height="1.56" fill="#e7999b"/><rect x="137.51" y="312.47" width="7.01" height="1.56" fill="#dd6d6f"/><rect x="144.48" y="312.47" width="7.01" height="1.56" fill="#8474dd"/><rect x="151.44" y="312.47" width="7.01" height="1.56" fill="#dd6d6f"/><rect x="47.00" y="313.98" width="7.01" height="1.56" fill="#3e24c9"/><rect x="53.96" y="313.98" width="7.01" height="1.56" fill="#d4cef3"/><rect x="60.92" y="313.98" width="7.01" height="1.56" fill="#9183e1"/><rect x="67.89" y="313.98" width="7.01" height="1.56" fill="#b4aaea"/><rect x="74.85" y="313.98" width="7.01" height="1.56" fill="#624dd4"/><rect x="81.81" y="313.98" width="7.01" height="1.56" fill="#a89de7"/><rect x="88.78" y="313.98" width="7.01" height="1.56" fill="#604bd3"/><rect x="95.74" y="313.98" width="7.01" height="1.56" fill="#9486e1"/><rect x="102.70" y="313.98" width="7.01" height="1.56" fill="#e38688"/><rect x="109.66" y="313.98" width="7.01" height="1.56" fill="#d03435"/><rect x="116.62" y="313.98" width="7.01" height="1.56" fill="#e3898b"/><rect x="123.59" y="313.98" width="7.01" height="1.56" fill="#9b8ee3"/><rect x="130.55" y="313.98" width="7.01" height="1.56" fill="#e48e90"/><rect x="137.51" y="313.98" width="7.01" height="1.56" fill="#d34343"/><rect x="144.48" y="313.98" width="7.01" height="1.56" fill="#806fdc"/><rect x="151.44" y="313.98" width="7.01" height="1.56" fill="#eaa6a9"/><rect x="47.00" y="315.48" width="7.01" height="1.56" fill="#6c58d6"/><rect x="53.96" y="315.48" width="7.01" height="1.56" fill="#d3cdf3"/><rect x="60.92" y="315.48" width="7.01" height="1.56" fill="#b2a7ea"/><rect x="67.89" y="315.48" width="7.01" height="1.56" fill="#5640d0"/><rect x="74.85" y="315.48" width="7.01" height="1.56" fill="#9486e1"/><rect x="81.81" y="315.48" width="7.01" height="1.56" fill="#c5bdef"/><rect x="88.78" y="315.48" width="7.01" height="1.56" fill="#7d6bdb"/><rect x="95.74" y="315.48" width="7.01" height="1.56" fill="#5741d1"/><rect x="102.70" y="315.48" width="7.01" height="1.56" fill="#e07c7d"/><rect x="109.66" y="315.48" width="7.01" height="1.56" fill="#d44445"/><rect x="116.62" y="315.48" width="7.01" height="1.56" fill="#e17e80"/><rect x="123.59" y="315.48" width="7.01" height="1.56" fill="#a397e6"/><rect x="130.55" y="315.48" width="7.01" height="1.56" fill="#e7989a"/><rect x="137.51" y="315.48" width="7.01" height="1.56" fill="#c81010"/><rect x="144.48" y="315.48" width="7.01" height="1.56" fill="#aca1e8"/><rect x="151.44" y="315.48" width="7.01" height="1.56" fill="#d85859"/><rect x="47.00" y="316.99" width="7.01" height="1.56" fill="#8878de"/><rect x="53.96" y="316.99" width="7.01" height="1.56" fill="#806fdc"/><rect x="60.92" y="316.99" width="7.01" height="1.56" fill="#a195e5"/><rect x="67.89" y="316.99" width="7.01" height="1.56" fill="#2a0ec4"/><rect x="74.85" y="316.99" width="7.01" height="1.56" fill="#452ccb"/><rect x="81.81" y="316.99" width="7.01" height="1.56" fill="#c5bdef"/><rect x="88.78" y="316.99" width="7.01" height="1.56" fill="#edeafa"/><rect x="95.74" y="316.99" width="7.01" height="1.56" fill="#513acf"/><rect x="102.70" y="316.99" width="7.01" height="1.56" fill="#d23a3b"/><rect x="109.66" y="316.99" width="7.01" height="1.56" fill="#c81010"/><rect x="116.62" y="316.99" width="7.01" height="1.56" fill="#cd2627"/><rect x="123.59" y="316.99" width="7.01" height="1.56" fill="#4b34cd"/><rect x="130.55" y="316.99" width="7.01" height="1.56" fill="#df7476"/><rect x="137.51" y="316.99" width="7.01" height="1.56" fill="#c81010"/><rect x="144.48" y="316.99" width="7.01" height="1.56" fill="#f8e3e7"/><rect x="151.44" y="316.99" width="7.01" height="1.56" fill="#e17d7f"/><rect x="47.00" y="318.49" width="7.01" height="1.56" fill="#cbc3f1"/><rect x="53.96" y="318.49" width="7.01" height="1.56" fill="#e38688"/><rect x="60.92" y="318.49" width="7.01" height="1.56" fill="#f5d8dc"/><rect x="67.89" y="318.49" width="7.01" height="1.56" fill="#b2a8ea"/><rect x="74.85" y="318.49" width="7.01" height="1.56" fill="#d0c9f2"/><rect x="81.81" y="318.49" width="7.01" height="1.56" fill="#edb4b7"/><rect x="88.78" y="318.49" width="7.01" height="1.56" fill="#efedfb"/><rect x="95.74" y="318.49" width="7.01" height="1.56" fill="#ccc5f1"/><rect x="102.70" y="318.49" width="7.01" height="1.56" fill="#f1c6c9"/><rect x="109.66" y="318.49" width="7.01" height="1.56" fill="#db6365"/><rect x="116.62" y="318.49" width="7.01" height="1.56" fill="#eeb7ba"/><rect x="123.59" y="318.49" width="7.01" height="1.56" fill="#a498e6"/><rect x="130.55" y="318.49" width="7.01" height="1.56" fill="#dedaf6"/><rect x="137.51" y="318.49" width="7.01" height="1.56" fill="#e17e80"/><rect x="144.48" y="318.49" width="7.01" height="1.56" fill="#f9eaee"/><rect x="151.44" y="318.49" width="7.01" height="1.56" fill="#f5d8dc"/><rect x="47.00" y="320.90" width="7.01" height="1.54" fill="#df7778"/><rect x="53.96" y="320.90" width="7.01" height="1.54" fill="#eeb9bc"/><rect x="60.92" y="320.90" width="7.01" height="1.54" fill="#d54a4b"/><rect x="67.89" y="320.90" width="7.01" height="1.54" fill="#e79b9d"/><rect x="74.85" y="320.90" width="7.01" height="1.54" fill="#ebadb0"/><rect x="81.81" y="320.90" width="7.01" height="1.54" fill="#ecb1b4"/><rect x="88.78" y="320.90" width="7.01" height="1.54" fill="#f3cfd2"/><rect x="95.74" y="320.90" width="7.01" height="1.54" fill="#f0c1c4"/><rect x="102.70" y="320.90" width="7.01" height="1.54" fill="#e4e0f8"/><rect x="109.66" y="320.90" width="7.01" height="1.54" fill="#442bcb"/><rect x="116.62" y="320.90" width="7.01" height="1.54" fill="#a296e5"/><rect x="123.59" y="320.90" width="7.01" height="1.54" fill="#f3cdd0"/><rect x="130.55" y="320.90" width="7.01" height="1.54" fill="#cbc3f1"/><rect x="137.51" y="320.90" width="7.01" height="1.54" fill="#543dd0"/><rect x="144.48" y="320.90" width="7.01" height="1.54" fill="#6b58d6"/><rect x="151.44" y="320.90" width="7.01" height="1.54" fill="#a69ae6"/><rect x="47.00" y="322.39" width="7.01" height="1.54" fill="#d75354"/><rect x="53.96" y="322.39" width="7.01" height="1.54" fill="#e0dcf7"/><rect x="60.92" y="322.39" width="7.01" height="1.54" fill="#f6dce0"/><rect x="67.89" y="322.39" width="7.01" height="1.54" fill="#db6567"/><rect x="74.85" y="322.39" width="7.01" height="1.54" fill="#e07b7d"/><rect x="81.81" y="322.39" width="7.01" height="1.54" fill="#ecafb2"/><rect x="88.78" y="322.39" width="7.01" height="1.54" fill="#eaa7aa"/><rect x="95.74" y="322.39" width="7.01" height="1.54" fill="#f6dce0"/><rect x="102.70" y="322.39" width="7.01" height="1.54" fill="#9182e1"/><rect x="109.66" y="322.39" width="7.01" height="1.54" fill="#8272dc"/><rect x="116.62" y="322.39" width="7.01" height="1.54" fill="#f1c7ca"/><rect x="123.59" y="322.39" width="7.01" height="1.54" fill="#da6163"/><rect x="130.55" y="322.39" width="7.01" height="1.54" fill="#aea3e9"/><rect x="137.51" y="322.39" width="7.01" height="1.54" fill="#624dd3"/><rect x="144.48" y="322.39" width="7.01" height="1.54" fill="#9385e1"/><rect x="151.44" y="322.39" width="7.01" height="1.54" fill="#9587e2"/><rect x="47.00" y="323.88" width="7.01" height="1.54" fill="#d33f40"/><rect x="53.96" y="323.88" width="7.01" height="1.54" fill="#f9e9ed"/><rect x="60.92" y="323.88" width="7.01" height="1.54" fill="#d75455"/><rect x="67.89" y="323.88" width="7.01" height="1.54" fill="#ce2d2d"/><rect x="74.85" y="323.88" width="7.01" height="1.54" fill="#d13737"/><rect x="81.81" y="323.88" width="7.01" height="1.54" fill="#cc2324"/><rect x="88.78" y="323.88" width="7.01" height="1.54" fill="#e38789"/><rect x="95.74" y="323.88" width="7.01" height="1.54" fill="#d95c5d"/><rect x="102.70" y="323.88" width="7.01" height="1.54" fill="#ccc4f1"/><rect x="109.66" y="323.88" width="7.01" height="1.54" fill="#2a0ec4"/><rect x="116.62" y="323.88" width="7.01" height="1.54" fill="#d0c9f2"/><rect x="123.59" y="323.88" width="7.01" height="1.54" fill="#ecaeb1"/><rect x="130.55" y="323.88" width="7.01" height="1.54" fill="#b8aeeb"/><rect x="137.51" y="323.88" width="7.01" height="1.54" fill="#2a0ec4"/><rect x="144.48" y="323.88" width="7.01" height="1.54" fill="#6d5ad7"/><rect x="151.44" y="323.88" width="7.01" height="1.54" fill="#aa9fe8"/><rect x="47.00" y="325.38" width="7.01" height="1.54" fill="#d1393a"/><rect x="53.96" y="325.38" width="7.01" height="1.54" fill="#bcb3ed"/><rect x="60.92" y="325.38" width="7.01" height="1.54" fill="#d44445"/><rect x="67.89" y="325.38" width="7.01" height="1.54" fill="#c91616"/><rect x="74.85" y="325.38" width="7.01" height="1.54" fill="#cf2e2e"/><rect x="81.81" y="325.38" width="7.01" height="1.54" fill="#e89fa1"/><rect x="88.78" y="325.38" width="7.01" height="1.54" fill="#f2c9cc"/><rect x="95.74" y="325.38" width="7.01" height="1.54" fill="#e69496"/><rect x="102.70" y="325.38" width="7.01" height="1.54" fill="#afa5e9"/><rect x="109.66" y="325.38" width="7.01" height="1.54" fill="#2a0ec4"/><rect x="116.62" y="325.38" width="7.01" height="1.54" fill="#b5abeb"/><rect x="123.59" y="325.38" width="7.01" height="1.54" fill="#edb2b5"/><rect x="130.55" y="325.38" width="7.01" height="1.54" fill="#f0edfb"/><rect x="137.51" y="325.38" width="7.01" height="1.54" fill="#4830cc"/><rect x="144.48" y="325.38" width="7.01" height="1.54" fill="#8473dd"/><rect x="151.44" y="325.38" width="7.01" height="1.54" fill="#6f5cd7"/><rect x="47.00" y="326.87" width="7.01" height="1.54" fill="#d13637"/><rect x="53.96" y="326.87" width="7.01" height="1.54" fill="#aea3e9"/><rect x="60.92" y="326.87" width="7.01" height="1.54" fill="#cb1b1b"/><rect x="67.89" y="326.87" width="7.01" height="1.54" fill="#e7999b"/><rect x="74.85" y="326.87" width="7.01" height="1.54" fill="#e48e91"/><rect x="81.81" y="326.87" width="7.01" height="1.54" fill="#c81010"/><rect x="88.78" y="326.87" width="7.01" height="1.54" fill="#d64d4e"/><rect x="95.74" y="326.87" width="7.01" height="1.54" fill="#dd6f71"/><rect x="102.70" y="326.87" width="7.01" height="1.54" fill="#dbd5f5"/><rect x="109.66" y="326.87" width="7.01" height="1.54" fill="#6450d4"/><rect x="116.62" y="326.87" width="7.01" height="1.54" fill="#9486e1"/><rect x="123.59" y="326.87" width="7.01" height="1.54" fill="#ebacaf"/><rect x="130.55" y="326.87" width="7.01" height="1.54" fill="#f6dce0"/><rect x="137.51" y="326.87" width="7.01" height="1.54" fill="#3e24c9"/><rect x="144.48" y="326.87" width="7.01" height="1.54" fill="#5e48d2"/><rect x="151.44" y="326.87" width="7.01" height="1.54" fill="#9283e1"/><rect x="47.00" y="328.36" width="7.01" height="1.54" fill="#d75455"/><rect x="53.96" y="328.36" width="7.01" height="1.54" fill="#d2ccf3"/><rect x="60.92" y="328.36" width="7.01" height="1.54" fill="#de7274"/><rect x="67.89" y="328.36" width="7.01" height="1.54" fill="#df787a"/><rect x="74.85" y="328.36" width="7.01" height="1.54" fill="#d54849"/><rect x="81.81" y="328.36" width="7.01" height="1.54" fill="#d85556"/><rect x="88.78" y="328.36" width="7.01" height="1.54" fill="#e28587"/><rect x="95.74" y="328.36" width="7.01" height="1.54" fill="#e89ea1"/><rect x="102.70" y="328.36" width="7.01" height="1.54" fill="#b1a7ea"/><rect x="109.66" y="328.36" width="7.01" height="1.54" fill="#432acb"/><rect x="116.62" y="328.36" width="7.01" height="1.54" fill="#faedf1"/><rect x="123.59" y="328.36" width="7.01" height="1.54" fill="#f5d8db"/><rect x="130.55" y="328.36" width="7.01" height="1.54" fill="#bbb2ec"/><rect x="137.51" y="328.36" width="7.01" height="1.54" fill="#4e37ce"/><rect x="144.48" y="328.36" width="7.01" height="1.54" fill="#897ade"/><rect x="151.44" y="328.36" width="7.01" height="1.54" fill="#9a8ce3"/><rect x="47.00" y="329.85" width="7.01" height="1.54" fill="#df787a"/><rect x="53.96" y="329.85" width="7.01" height="1.54" fill="#dbd5f5"/><rect x="60.92" y="329.85" width="7.01" height="1.54" fill="#d03536"/><rect x="67.89" y="329.85" width="7.01" height="1.54" fill="#d54b4c"/><rect x="74.85" y="329.85" width="7.01" height="1.54" fill="#d23c3d"/><rect x="81.81" y="329.85" width="7.01" height="1.54" fill="#efbbbe"/><rect x="88.78" y="329.85" width="7.01" height="1.54" fill="#dd6c6e"/><rect x="95.74" y="329.85" width="7.01" height="1.54" fill="#ecafb2"/><rect x="102.70" y="329.85" width="7.01" height="1.54" fill="#cec7f1"/><rect x="109.66" y="329.85" width="7.01" height="1.54" fill="#2a0ec4"/><rect x="116.62" y="329.85" width="7.01" height="1.54" fill="#beb5ed"/><rect x="123.59" y="329.85" width="7.01" height="1.54" fill="#f9e9ed"/><rect x="130.55" y="329.85" width="7.01" height="1.54" fill="#f7e1e5"/><rect x="137.51" y="329.85" width="7.01" height="1.54" fill="#553ed0"/><rect x="144.48" y="329.85" width="7.01" height="1.54" fill="#9687e2"/><rect x="151.44" y="329.85" width="7.01" height="1.54" fill="#a093e5"/><rect x="47.00" y="331.34" width="7.01" height="1.54" fill="#cf2f2f"/><rect x="53.96" y="331.34" width="7.01" height="1.54" fill="#e9a4a7"/><rect x="60.92" y="331.34" width="7.01" height="1.54" fill="#d03535"/><rect x="67.89" y="331.34" width="7.01" height="1.54" fill="#d8595b"/><rect x="74.85" y="331.34" width="7.01" height="1.54" fill="#c81010"/><rect x="81.81" y="331.34" width="7.01" height="1.54" fill="#d85556"/><rect x="88.78" y="331.34" width="7.01" height="1.54" fill="#d85759"/><rect x="95.74" y="331.34" width="7.01" height="1.54" fill="#e3888b"/><rect x="102.70" y="331.34" width="7.01" height="1.54" fill="#7c6adb"/><rect x="109.66" y="331.34" width="7.01" height="1.54" fill="#2a0ec4"/><rect x="116.62" y="331.34" width="7.01" height="1.54" fill="#a599e6"/><rect x="123.59" y="331.34" width="7.01" height="1.54" fill="#ecb0b3"/><rect x="130.55" y="331.34" width="7.01" height="1.54" fill="#6e5bd7"/><rect x="137.51" y="331.34" width="7.01" height="1.54" fill="#3d24c9"/><rect x="144.48" y="331.34" width="7.01" height="1.54" fill="#2a0ec4"/><rect x="151.44" y="331.34" width="7.01" height="1.54" fill="#b0a6e9"/><rect x="47.00" y="332.84" width="7.01" height="1.54" fill="#df7577"/><rect x="53.96" y="332.84" width="7.01" height="1.54" fill="#d8d2f4"/><rect x="60.92" y="332.84" width="7.01" height="1.54" fill="#d85657"/><rect x="67.89" y="332.84" width="7.01" height="1.54" fill="#d95b5d"/><rect x="74.85" y="332.84" width="7.01" height="1.54" fill="#e17f81"/><rect x="81.81" y="332.84" width="7.01" height="1.54" fill="#e9a2a5"/><rect x="88.78" y="332.84" width="7.01" height="1.54" fill="#e28385"/><rect x="95.74" y="332.84" width="7.01" height="1.54" fill="#df7476"/><rect x="102.70" y="332.84" width="7.01" height="1.54" fill="#8373dd"/><rect x="109.66" y="332.84" width="7.01" height="1.54" fill="#2d11c5"/><rect x="116.62" y="332.84" width="7.01" height="1.54" fill="#a69ae6"/><rect x="123.59" y="332.84" width="7.01" height="1.54" fill="#df7577"/><rect x="130.55" y="332.84" width="7.01" height="1.54" fill="#f8e3e7"/><rect x="137.51" y="332.84" width="7.01" height="1.54" fill="#7360d8"/><rect x="144.48" y="332.84" width="7.01" height="1.54" fill="#806fdc"/><rect x="151.44" y="332.84" width="7.01" height="1.54" fill="#8f80e0"/><rect x="47.00" y="334.33" width="7.01" height="1.54" fill="#d44546"/><rect x="53.96" y="334.33" width="7.01" height="1.54" fill="#c9c2f0"/><rect x="60.92" y="334.33" width="7.01" height="1.54" fill="#c81010"/><rect x="67.89" y="334.33" width="7.01" height="1.54" fill="#e28284"/><rect x="74.85" y="334.33" width="7.01" height="1.54" fill="#c81111"/><rect x="81.81" y="334.33" width="7.01" height="1.54" fill="#d75556"/><rect x="88.78" y="334.33" width="7.01" height="1.54" fill="#e58f91"/><rect x="95.74" y="334.33" width="7.01" height="1.54" fill="#db6566"/><rect x="102.70" y="334.33" width="7.01" height="1.54" fill="#7f6edb"/><rect x="109.66" y="334.33" width="7.01" height="1.54" fill="#3318c7"/><rect x="116.62" y="334.33" width="7.01" height="1.54" fill="#a79be7"/><rect x="123.59" y="334.33" width="7.01" height="1.54" fill="#ece9fa"/><rect x="130.55" y="334.33" width="7.01" height="1.54" fill="#e9a3a6"/><rect x="137.51" y="334.33" width="7.01" height="1.54" fill="#2a0ec4"/><rect x="144.48" y="334.33" width="7.01" height="1.54" fill="#6d5ad7"/><rect x="151.44" y="334.33" width="7.01" height="1.54" fill="#9081e0"/><rect x="47.00" y="335.82" width="7.01" height="1.54" fill="#de7072"/><rect x="53.96" y="335.82" width="7.01" height="1.54" fill="#bfb7ed"/><rect x="60.92" y="335.82" width="7.01" height="1.54" fill="#f0c2c5"/><rect x="67.89" y="335.82" width="7.01" height="1.54" fill="#cf3031"/><rect x="74.85" y="335.82" width="7.01" height="1.54" fill="#d34142"/><rect x="81.81" y="335.82" width="7.01" height="1.54" fill="#e69598"/><rect x="88.78" y="335.82" width="7.01" height="1.54" fill="#d85859"/><rect x="95.74" y="335.82" width="7.01" height="1.54" fill="#da6162"/><rect x="102.70" y="335.82" width="7.01" height="1.54" fill="#e4e0f8"/><rect x="109.66" y="335.82" width="7.01" height="1.54" fill="#4027ca"/><rect x="116.62" y="335.82" width="7.01" height="1.54" fill="#e7e3f8"/><rect x="123.59" y="335.82" width="7.01" height="1.54" fill="#eaa6a9"/><rect x="130.55" y="335.82" width="7.01" height="1.54" fill="#ebe8fa"/><rect x="137.51" y="335.82" width="7.01" height="1.54" fill="#3d23c9"/><rect x="144.48" y="335.82" width="7.01" height="1.54" fill="#482fcc"/><rect x="151.44" y="335.82" width="7.01" height="1.54" fill="#b5abeb"/><rect x="47.00" y="337.31" width="7.01" height="1.54" fill="#d95e5f"/><rect x="53.96" y="337.31" width="7.01" height="1.54" fill="#bbb2ec"/><rect x="60.92" y="337.31" width="7.01" height="1.54" fill="#d13738"/><rect x="67.89" y="337.31" width="7.01" height="1.54" fill="#c81010"/><rect x="74.85" y="337.31" width="7.01" height="1.54" fill="#d54b4c"/><rect x="81.81" y="337.31" width="7.01" height="1.54" fill="#e79a9c"/><rect x="88.78" y="337.31" width="7.01" height="1.54" fill="#d54a4b"/><rect x="95.74" y="337.31" width="7.01" height="1.54" fill="#d54c4d"/><rect x="102.70" y="337.31" width="7.01" height="1.54" fill="#ddd8f6"/><rect x="109.66" y="337.31" width="7.01" height="1.54" fill="#3116c6"/><rect x="116.62" y="337.31" width="7.01" height="1.54" fill="#f3cdd0"/><rect x="123.59" y="337.31" width="7.01" height="1.54" fill="#f7e2e6"/><rect x="130.55" y="337.31" width="7.01" height="1.54" fill="#f1eefb"/><rect x="137.51" y="337.31" width="7.01" height="1.54" fill="#351ac7"/><rect x="144.48" y="337.31" width="7.01" height="1.54" fill="#2a0ec4"/><rect x="151.44" y="337.31" width="7.01" height="1.54" fill="#8575dd"/><rect x="47.00" y="338.81" width="7.01" height="1.54" fill="#c81010"/><rect x="53.96" y="338.81" width="7.01" height="1.54" fill="#dbd5f5"/><rect x="60.92" y="338.81" width="7.01" height="1.54" fill="#c81010"/><rect x="67.89" y="338.81" width="7.01" height="1.54" fill="#cc2222"/><rect x="74.85" y="338.81" width="7.01" height="1.54" fill="#cb1e1e"/><rect x="81.81" y="338.81" width="7.01" height="1.54" fill="#d54b4d"/><rect x="88.78" y="338.81" width="7.01" height="1.54" fill="#d95a5c"/><rect x="95.74" y="338.81" width="7.01" height="1.54" fill="#e28688"/><rect x="102.70" y="338.81" width="7.01" height="1.54" fill="#9486e2"/><rect x="109.66" y="338.81" width="7.01" height="1.54" fill="#2c10c5"/><rect x="116.62" y="338.81" width="7.01" height="1.54" fill="#a497e6"/><rect x="123.59" y="338.81" width="7.01" height="1.54" fill="#f3ced2"/><rect x="130.55" y="338.81" width="7.01" height="1.54" fill="#d3ccf3"/><rect x="137.51" y="338.81" width="7.01" height="1.54" fill="#351bc7"/><rect x="144.48" y="338.81" width="7.01" height="1.54" fill="#6b57d6"/><rect x="151.44" y="338.81" width="7.01" height="1.54" fill="#6955d5"/><rect x="47.00" y="340.30" width="7.01" height="1.54" fill="#d75354"/><rect x="53.96" y="340.30" width="7.01" height="1.54" fill="#dbd5f5"/><rect x="60.92" y="340.30" width="7.01" height="1.54" fill="#d75556"/><rect x="67.89" y="340.30" width="7.01" height="1.54" fill="#e28587"/><rect x="74.85" y="340.30" width="7.01" height="1.54" fill="#d34243"/><rect x="81.81" y="340.30" width="7.01" height="1.54" fill="#e48e90"/><rect x="88.78" y="340.30" width="7.01" height="1.54" fill="#f0c0c3"/><rect x="95.74" y="340.30" width="7.01" height="1.54" fill="#df787a"/><rect x="102.70" y="340.30" width="7.01" height="1.54" fill="#e4e0f8"/><rect x="109.66" y="340.30" width="7.01" height="1.54" fill="#2a0ec4"/><rect x="116.62" y="340.30" width="7.01" height="1.54" fill="#bcb3ed"/><rect x="123.59" y="340.30" width="7.01" height="1.54" fill="#efbec1"/><rect x="130.55" y="340.30" width="7.01" height="1.54" fill="#f9ecf0"/><rect x="137.51" y="340.30" width="7.01" height="1.54" fill="#8c7ddf"/><rect x="144.48" y="340.30" width="7.01" height="1.54" fill="#6b57d6"/><rect x="151.44" y="340.30" width="7.01" height="1.54" fill="#8170dc"/><rect x="47.00" y="341.79" width="7.01" height="1.54" fill="#ca1a1a"/><rect x="53.96" y="341.79" width="7.01" height="1.54" fill="#f8e4e8"/><rect x="60.92" y="341.79" width="7.01" height="1.54" fill="#d34243"/><rect x="67.89" y="341.79" width="7.01" height="1.54" fill="#df7577"/><rect x="74.85" y="341.79" width="7.01" height="1.54" fill="#c81010"/><rect x="81.81" y="341.79" width="7.01" height="1.54" fill="#e69698"/><rect x="88.78" y="341.79" width="7.01" height="1.54" fill="#ecb1b4"/><rect x="95.74" y="341.79" width="7.01" height="1.54" fill="#d75254"/><rect x="102.70" y="341.79" width="7.01" height="1.54" fill="#b1a6e9"/><rect x="109.66" y="341.79" width="7.01" height="1.54" fill="#4f38ce"/><rect x="116.62" y="341.79" width="7.01" height="1.54" fill="#d0caf2"/><rect x="123.59" y="341.79" width="7.01" height="1.54" fill="#df7677"/><rect x="130.55" y="341.79" width="7.01" height="1.54" fill="#f6dade"/><rect x="137.51" y="341.79" width="7.01" height="1.54" fill="#2b0fc4"/><rect x="144.48" y="341.79" width="7.01" height="1.54" fill="#7967da"/><rect x="151.44" y="341.79" width="7.01" height="1.54" fill="#7462d9"/><rect x="47.00" y="343.28" width="7.01" height="1.54" fill="#d75253"/><rect x="53.96" y="343.28" width="7.01" height="1.54" fill="#d9d3f4"/><rect x="60.92" y="343.28" width="7.01" height="1.54" fill="#f5d7da"/><rect x="67.89" y="343.28" width="7.01" height="1.54" fill="#e6979a"/><rect x="74.85" y="343.28" width="7.01" height="1.54" fill="#ebabae"/><rect x="81.81" y="343.28" width="7.01" height="1.54" fill="#e69597"/><rect x="88.78" y="343.28" width="7.01" height="1.54" fill="#eebabd"/><rect x="95.74" y="343.28" width="7.01" height="1.54" fill="#f4d5d9"/><rect x="102.70" y="343.28" width="7.01" height="1.54" fill="#c9c1f0"/><rect x="109.66" y="343.28" width="7.01" height="1.54" fill="#8d7edf"/><rect x="116.62" y="343.28" width="7.01" height="1.54" fill="#9c8ee4"/><rect x="123.59" y="343.28" width="7.01" height="1.54" fill="#efbcbf"/><rect x="130.55" y="343.28" width="7.01" height="1.54" fill="#a497e6"/><rect x="137.51" y="343.28" width="7.01" height="1.54" fill="#8878de"/><rect x="144.48" y="343.28" width="7.01" height="1.54" fill="#cec8f2"/><rect x="151.44" y="343.28" width="7.01" height="1.54" fill="#e4e0f8"/><rect x="47.00" y="344.77" width="7.01" height="1.54" fill="#cc2323"/><rect x="53.96" y="344.77" width="7.01" height="1.54" fill="#c3bbee"/><rect x="60.92" y="344.77" width="7.01" height="1.54" fill="#d44445"/><rect x="67.89" y="344.77" width="7.01" height="1.54" fill="#d54849"/><rect x="74.85" y="344.77" width="7.01" height="1.54" fill="#d03536"/><rect x="81.81" y="344.77" width="7.01" height="1.54" fill="#de7375"/><rect x="88.78" y="344.77" width="7.01" height="1.54" fill="#d75455"/><rect x="95.74" y="344.77" width="7.01" height="1.54" fill="#e38789"/><rect x="102.70" y="344.77" width="7.01" height="1.54" fill="#9e91e4"/><rect x="109.66" y="344.77" width="7.01" height="1.54" fill="#2d11c5"/><rect x="116.62" y="344.77" width="7.01" height="1.54" fill="#9384e1"/><rect x="123.59" y="344.77" width="7.01" height="1.54" fill="#e69497"/><rect x="130.55" y="344.77" width="7.01" height="1.54" fill="#cec7f1"/><rect x="137.51" y="344.77" width="7.01" height="1.54" fill="#371dc8"/><rect x="144.48" y="344.77" width="7.01" height="1.54" fill="#4a32cd"/><rect x="151.44" y="344.77" width="7.01" height="1.54" fill="#4931cd"/><rect x="47.00" y="346.27" width="7.01" height="1.54" fill="#e79a9c"/><rect x="53.96" y="346.27" width="7.01" height="1.54" fill="#f2ccd0"/><rect x="60.92" y="346.27" width="7.01" height="1.54" fill="#e59295"/><rect x="67.89" y="346.27" width="7.01" height="1.54" fill="#df7779"/><rect x="74.85" y="346.27" width="7.01" height="1.54" fill="#ecb1b4"/><rect x="81.81" y="346.27" width="7.01" height="1.54" fill="#f0c0c3"/><rect x="88.78" y="346.27" width="7.01" height="1.54" fill="#f0c1c4"/><rect x="95.74" y="346.27" width="7.01" height="1.54" fill="#e38789"/><rect x="102.70" y="346.27" width="7.01" height="1.54" fill="#a094e5"/><rect x="109.66" y="346.27" width="7.01" height="1.54" fill="#6550d4"/><rect x="116.62" y="346.27" width="7.01" height="1.54" fill="#d2ccf3"/><rect x="123.59" y="346.27" width="7.01" height="1.54" fill="#efbbbe"/><rect x="130.55" y="346.27" width="7.01" height="1.54" fill="#cbc4f1"/><rect x="137.51" y="346.27" width="7.01" height="1.54" fill="#8c7cdf"/><rect x="144.48" y="346.27" width="7.01" height="1.54" fill="#9384e1"/><rect x="151.44" y="346.27" width="7.01" height="1.54" fill="#ada2e8"/><rect x="47.00" y="347.76" width="7.01" height="1.54" fill="#da5f60"/><rect x="53.96" y="347.76" width="7.01" height="1.54" fill="#dcd7f5"/><rect x="60.92" y="347.76" width="7.01" height="1.54" fill="#c81010"/><rect x="67.89" y="347.76" width="7.01" height="1.54" fill="#c81010"/><rect x="74.85" y="347.76" width="7.01" height="1.54" fill="#cb1c1c"/><rect x="81.81" y="347.76" width="7.01" height="1.54" fill="#d8595a"/><rect x="88.78" y="347.76" width="7.01" height="1.54" fill="#e69699"/><rect x="95.74" y="347.76" width="7.01" height="1.54" fill="#e69698"/><rect x="102.70" y="347.76" width="7.01" height="1.54" fill="#e2ddf7"/><rect x="109.66" y="347.76" width="7.01" height="1.54" fill="#442ccb"/><rect x="116.62" y="347.76" width="7.01" height="1.54" fill="#897ade"/><rect x="123.59" y="347.76" width="7.01" height="1.54" fill="#e07b7d"/><rect x="130.55" y="347.76" width="7.01" height="1.54" fill="#e4dff7"/><rect x="137.51" y="347.76" width="7.01" height="1.54" fill="#6d59d6"/><rect x="144.48" y="347.76" width="7.01" height="1.54" fill="#6551d4"/><rect x="151.44" y="347.76" width="7.01" height="1.54" fill="#533ccf"/><rect x="47.00" y="349.25" width="7.01" height="1.54" fill="#dd6b6d"/><rect x="53.96" y="349.25" width="7.01" height="1.54" fill="#e3dff7"/><rect x="60.92" y="349.25" width="7.01" height="1.54" fill="#cf3131"/><rect x="67.89" y="349.25" width="7.01" height="1.54" fill="#e69698"/><rect x="74.85" y="349.25" width="7.01" height="1.54" fill="#e07b7d"/><rect x="81.81" y="349.25" width="7.01" height="1.54" fill="#e59092"/><rect x="88.78" y="349.25" width="7.01" height="1.54" fill="#e9a1a4"/><rect x="95.74" y="349.25" width="7.01" height="1.54" fill="#f1c5c8"/><rect x="102.70" y="349.25" width="7.01" height="1.54" fill="#9f92e4"/><rect x="109.66" y="349.25" width="7.01" height="1.54" fill="#2a0ec4"/><rect x="116.62" y="349.25" width="7.01" height="1.54" fill="#cfc9f2"/><rect x="123.59" y="349.25" width="7.01" height="1.54" fill="#f2cace"/><rect x="130.55" y="349.25" width="7.01" height="1.54" fill="#d4cef3"/><rect x="137.51" y="349.25" width="7.01" height="1.54" fill="#3c22c9"/><rect x="144.48" y="349.25" width="7.01" height="1.54" fill="#7967da"/><rect x="151.44" y="349.25" width="7.01" height="1.54" fill="#9e91e4"/><rect x="47.00" y="350.74" width="7.01" height="1.54" fill="#da6162"/><rect x="53.96" y="350.74" width="7.01" height="1.54" fill="#f6dce0"/><rect x="60.92" y="350.74" width="7.01" height="1.54" fill="#d95c5d"/><rect x="67.89" y="350.74" width="7.01" height="1.54" fill="#e28587"/><rect x="74.85" y="350.74" width="7.01" height="1.54" fill="#e48e90"/><rect x="81.81" y="350.74" width="7.01" height="1.54" fill="#da6062"/><rect x="88.78" y="350.74" width="7.01" height="1.54" fill="#df7677"/><rect x="95.74" y="350.74" width="7.01" height="1.54" fill="#efbdc0"/><rect x="102.70" y="350.74" width="7.01" height="1.54" fill="#ab9fe8"/><rect x="109.66" y="350.74" width="7.01" height="1.54" fill="#6e5bd7"/><rect x="116.62" y="350.74" width="7.01" height="1.54" fill="#cfc8f2"/><rect x="123.59" y="350.74" width="7.01" height="1.54" fill="#f9eaee"/><rect x="130.55" y="350.74" width="7.01" height="1.54" fill="#edb4b7"/><rect x="137.51" y="350.74" width="7.01" height="1.54" fill="#2a0ec4"/><rect x="144.48" y="350.74" width="7.01" height="1.54" fill="#634ed4"/><rect x="151.44" y="350.74" width="7.01" height="1.54" fill="#cec8f2"/><rect x="47.00" y="352.23" width="7.01" height="1.54" fill="#e17e80"/><rect x="53.96" y="352.23" width="7.01" height="1.54" fill="#d8d3f4"/><rect x="60.92" y="352.23" width="7.01" height="1.54" fill="#c81010"/><rect x="67.89" y="352.23" width="7.01" height="1.54" fill="#ca1818"/><rect x="74.85" y="352.23" width="7.01" height="1.54" fill="#d75354"/><rect x="81.81" y="352.23" width="7.01" height="1.54" fill="#da5e60"/><rect x="88.78" y="352.23" width="7.01" height="1.54" fill="#e59193"/><rect x="95.74" y="352.23" width="7.01" height="1.54" fill="#da6062"/><rect x="102.70" y="352.23" width="7.01" height="1.54" fill="#7b69da"/><rect x="109.66" y="352.23" width="7.01" height="1.54" fill="#2a0ec4"/><rect x="116.62" y="352.23" width="7.01" height="1.54" fill="#8473dd"/><rect x="123.59" y="352.23" width="7.01" height="1.54" fill="#efbfc2"/><rect x="130.55" y="352.23" width="7.01" height="1.54" fill="#9688e2"/><rect x="137.51" y="352.23" width="7.01" height="1.54" fill="#5d47d2"/><rect x="144.48" y="352.23" width="7.01" height="1.54" fill="#7b69da"/><rect x="151.44" y="352.23" width="7.01" height="1.54" fill="#b8aeeb"/><rect x="47.00" y="353.73" width="7.01" height="1.54" fill="#c91616"/><rect x="53.96" y="353.73" width="7.01" height="1.54" fill="#faedf1"/><rect x="60.92" y="353.73" width="7.01" height="1.54" fill="#cd2424"/><rect x="67.89" y="353.73" width="7.01" height="1.54" fill="#d44546"/><rect x="74.85" y="353.73" width="7.01" height="1.54" fill="#d03535"/><rect x="81.81" y="353.73" width="7.01" height="1.54" fill="#e58f92"/><rect x="88.78" y="353.73" width="7.01" height="1.54" fill="#e59194"/><rect x="95.74" y="353.73" width="7.01" height="1.54" fill="#e89ea1"/><rect x="102.70" y="353.73" width="7.01" height="1.54" fill="#c4bcef"/><rect x="109.66" y="353.73" width="7.01" height="1.54" fill="#4a32cd"/><rect x="116.62" y="353.73" width="7.01" height="1.54" fill="#a295e5"/><rect x="123.59" y="353.73" width="7.01" height="1.54" fill="#faeef2"/><rect x="130.55" y="353.73" width="7.01" height="1.54" fill="#b4aaea"/><rect x="137.51" y="353.73" width="7.01" height="1.54" fill="#5d47d2"/><rect x="144.48" y="353.73" width="7.01" height="1.54" fill="#533ccf"/><rect x="151.44" y="353.73" width="7.01" height="1.54" fill="#9587e2"/><rect x="47.00" y="355.22" width="7.01" height="1.54" fill="#dc696b"/><rect x="53.96" y="355.22" width="7.01" height="1.54" fill="#ecb1b4"/><rect x="60.92" y="355.22" width="7.01" height="1.54" fill="#e28385"/><rect x="67.89" y="355.22" width="7.01" height="1.54" fill="#e3888b"/><rect x="74.85" y="355.22" width="7.01" height="1.54" fill="#d13637"/><rect x="81.81" y="355.22" width="7.01" height="1.54" fill="#de7173"/><rect x="88.78" y="355.22" width="7.01" height="1.54" fill="#f1c8cb"/><rect x="95.74" y="355.22" width="7.01" height="1.54" fill="#de7375"/><rect x="102.70" y="355.22" width="7.01" height="1.54" fill="#9d8fe4"/><rect x="109.66" y="355.22" width="7.01" height="1.54" fill="#6d59d6"/><rect x="116.62" y="355.22" width="7.01" height="1.54" fill="#5b45d2"/><rect x="123.59" y="355.22" width="7.01" height="1.54" fill="#faeef2"/><rect x="130.55" y="355.22" width="7.01" height="1.54" fill="#f1effb"/><rect x="137.51" y="355.22" width="7.01" height="1.54" fill="#4b33cd"/><rect x="144.48" y="355.22" width="7.01" height="1.54" fill="#5f49d3"/><rect x="151.44" y="355.22" width="7.01" height="1.54" fill="#c0b7ee"/><rect x="47.00" y="356.71" width="7.01" height="1.54" fill="#db6465"/><rect x="53.96" y="356.71" width="7.01" height="1.54" fill="#cfc8f2"/><rect x="60.92" y="356.71" width="7.01" height="1.54" fill="#c81212"/><rect x="67.89" y="356.71" width="7.01" height="1.54" fill="#cf3030"/><rect x="74.85" y="356.71" width="7.01" height="1.54" fill="#d85759"/><rect x="81.81" y="356.71" width="7.01" height="1.54" fill="#eaa6a9"/><rect x="88.78" y="356.71" width="7.01" height="1.54" fill="#e89ea0"/><rect x="95.74" y="356.71" width="7.01" height="1.54" fill="#e69597"/><rect x="102.70" y="356.71" width="7.01" height="1.54" fill="#c8c1f0"/><rect x="109.66" y="356.71" width="7.01" height="1.54" fill="#806fdc"/><rect x="116.62" y="356.71" width="7.01" height="1.54" fill="#ada1e8"/><rect x="123.59" y="356.71" width="7.01" height="1.54" fill="#eebbbe"/><rect x="130.55" y="356.71" width="7.01" height="1.54" fill="#bab1ec"/><rect x="137.51" y="356.71" width="7.01" height="1.54" fill="#533dcf"/><rect x="144.48" y="356.71" width="7.01" height="1.54" fill="#4f38ce"/><rect x="151.44" y="356.71" width="7.01" height="1.54" fill="#bab1ec"/><rect x="47.00" y="358.20" width="7.01" height="1.54" fill="#d34243"/><rect x="53.96" y="358.20" width="7.01" height="1.54" fill="#ddd8f6"/><rect x="60.92" y="358.20" width="7.01" height="1.54" fill="#d03334"/><rect x="67.89" y="358.20" width="7.01" height="1.54" fill="#e07b7d"/><rect x="74.85" y="358.20" width="7.01" height="1.54" fill="#c81010"/><rect x="81.81" y="358.20" width="7.01" height="1.54" fill="#e48e90"/><rect x="88.78" y="358.20" width="7.01" height="1.54" fill="#df787a"/><rect x="95.74" y="358.20" width="7.01" height="1.54" fill="#e48c8e"/><rect x="102.70" y="358.20" width="7.01" height="1.54" fill="#cfc8f2"/><rect x="109.66" y="358.20" width="7.01" height="1.54" fill="#2a0ec4"/><rect x="116.62" y="358.20" width="7.01" height="1.54" fill="#ada2e8"/><rect x="123.59" y="358.20" width="7.01" height="1.54" fill="#dd6d6e"/><rect x="130.55" y="358.20" width="7.01" height="1.54" fill="#c7bff0"/><rect x="137.51" y="358.20" width="7.01" height="1.54" fill="#2a0ec4"/><rect x="144.48" y="358.20" width="7.01" height="1.54" fill="#4a32cd"/><rect x="151.44" y="358.20" width="7.01" height="1.54" fill="#988ae2"/><rect x="47.00" y="359.69" width="7.01" height="1.54" fill="#dd6d6f"/><rect x="53.96" y="359.69" width="7.01" height="1.54" fill="#e2ddf7"/><rect x="60.92" y="359.69" width="7.01" height="1.54" fill="#d64f50"/><rect x="67.89" y="359.69" width="7.01" height="1.54" fill="#da5f61"/><rect x="74.85" y="359.69" width="7.01" height="1.54" fill="#d8585a"/><rect x="81.81" y="359.69" width="7.01" height="1.54" fill="#e59395"/><rect x="88.78" y="359.69" width="7.01" height="1.54" fill="#e17f81"/><rect x="95.74" y="359.69" width="7.01" height="1.54" fill="#eaa6a8"/><rect x="102.70" y="359.69" width="7.01" height="1.54" fill="#e4e0f8"/><rect x="109.66" y="359.69" width="7.01" height="1.54" fill="#6955d5"/><rect x="116.62" y="359.69" width="7.01" height="1.54" fill="#b0a6e9"/><rect x="123.59" y="359.69" width="7.01" height="1.54" fill="#e48a8c"/><rect x="130.55" y="359.69" width="7.01" height="1.54" fill="#8e7fe0"/><rect x="137.51" y="359.69" width="7.01" height="1.54" fill="#3f26ca"/><rect x="144.48" y="359.69" width="7.01" height="1.54" fill="#5d48d2"/><rect x="151.44" y="359.69" width="7.01" height="1.54" fill="#bbb2ec"/><rect x="47.00" y="361.19" width="7.01" height="1.54" fill="#e9a1a3"/><rect x="53.96" y="361.19" width="7.01" height="1.54" fill="#9d90e4"/><rect x="60.92" y="361.19" width="7.01" height="1.54" fill="#de7375"/><rect x="67.89" y="361.19" width="7.01" height="1.54" fill="#eaa6a9"/><rect x="74.85" y="361.19" width="7.01" height="1.54" fill="#d03232"/><rect x="81.81" y="361.19" width="7.01" height="1.54" fill="#e17e80"/><rect x="88.78" y="361.19" width="7.01" height="1.54" fill="#f5d6da"/><rect x="95.74" y="361.19" width="7.01" height="1.54" fill="#e0787a"/><rect x="102.70" y="361.19" width="7.01" height="1.54" fill="#d9d4f5"/><rect x="109.66" y="361.19" width="7.01" height="1.54" fill="#8c7cdf"/><rect x="116.62" y="361.19" width="7.01" height="1.54" fill="#9586e2"/><rect x="123.59" y="361.19" width="7.01" height="1.54" fill="#e48d90"/><rect x="130.55" y="361.19" width="7.01" height="1.54" fill="#f9e9ed"/><rect x="137.51" y="361.19" width="7.01" height="1.54" fill="#5e49d2"/><rect x="144.48" y="361.19" width="7.01" height="1.54" fill="#6753d5"/><rect x="151.44" y="361.19" width="7.01" height="1.54" fill="#beb5ed"/><rect x="47.00" y="362.68" width="7.01" height="1.54" fill="#c81010"/><rect x="53.96" y="362.68" width="7.01" height="1.54" fill="#eaa8ab"/><rect x="60.92" y="362.68" width="7.01" height="1.54" fill="#c91717"/><rect x="67.89" y="362.68" width="7.01" height="1.54" fill="#dc6a6b"/><rect x="74.85" y="362.68" width="7.01" height="1.54" fill="#dc696b"/><rect x="81.81" y="362.68" width="7.01" height="1.54" fill="#db6567"/><rect x="88.78" y="362.68" width="7.01" height="1.54" fill="#e48d8f"/><rect x="95.74" y="362.68" width="7.01" height="1.54" fill="#e69497"/><rect x="102.70" y="362.68" width="7.01" height="1.54" fill="#aa9ee7"/><rect x="109.66" y="362.68" width="7.01" height="1.54" fill="#5f4ad3"/><rect x="116.62" y="362.68" width="7.01" height="1.54" fill="#bfb6ed"/><rect x="123.59" y="362.68" width="7.01" height="1.54" fill="#eeb7ba"/><rect x="130.55" y="362.68" width="7.01" height="1.54" fill="#c1b9ee"/><rect x="137.51" y="362.68" width="7.01" height="1.54" fill="#4128ca"/><rect x="144.48" y="362.68" width="7.01" height="1.54" fill="#553ed0"/><rect x="151.44" y="362.68" width="7.01" height="1.54" fill="#d3ccf3"/><rect x="47.00" y="364.17" width="7.01" height="1.54" fill="#c91313"/><rect x="53.96" y="364.17" width="7.01" height="1.54" fill="#e3dff7"/><rect x="60.92" y="364.17" width="7.01" height="1.54" fill="#cd2828"/><rect x="67.89" y="364.17" width="7.01" height="1.54" fill="#e69799"/><rect x="74.85" y="364.17" width="7.01" height="1.54" fill="#dd6d6f"/><rect x="81.81" y="364.17" width="7.01" height="1.54" fill="#df7678"/><rect x="88.78" y="364.17" width="7.01" height="1.54" fill="#e79b9e"/><rect x="95.74" y="364.17" width="7.01" height="1.54" fill="#e3888a"/><rect x="102.70" y="364.17" width="7.01" height="1.54" fill="#9283e1"/><rect x="109.66" y="364.17" width="7.01" height="1.54" fill="#3d24c9"/><rect x="116.62" y="364.17" width="7.01" height="1.54" fill="#a79be7"/><rect x="123.59" y="364.17" width="7.01" height="1.54" fill="#f0c1c5"/><rect x="130.55" y="364.17" width="7.01" height="1.54" fill="#c0b7ee"/><rect x="137.51" y="364.17" width="7.01" height="1.54" fill="#2a0ec4"/><rect x="144.48" y="364.17" width="7.01" height="1.54" fill="#533ccf"/><rect x="151.44" y="364.17" width="7.01" height="1.54" fill="#a99de7"/><rect x="47.00" y="365.66" width="7.01" height="1.54" fill="#de7172"/><rect x="53.96" y="365.66" width="7.01" height="1.54" fill="#f0c1c4"/><rect x="60.92" y="365.66" width="7.01" height="1.54" fill="#e28183"/><rect x="67.89" y="365.66" width="7.01" height="1.54" fill="#df7677"/><rect x="74.85" y="365.66" width="7.01" height="1.54" fill="#dd6e70"/><rect x="81.81" y="365.66" width="7.01" height="1.54" fill="#eebbbe"/><rect x="88.78" y="365.66" width="7.01" height="1.54" fill="#e07a7b"/><rect x="95.74" y="365.66" width="7.01" height="1.54" fill="#d64c4e"/><rect x="102.70" y="365.66" width="7.01" height="1.54" fill="#b3a9ea"/><rect x="109.66" y="365.66" width="7.01" height="1.54" fill="#b2a7ea"/><rect x="116.62" y="365.66" width="7.01" height="1.54" fill="#a599e6"/><rect x="123.59" y="365.66" width="7.01" height="1.54" fill="#e18082"/><rect x="130.55" y="365.66" width="7.01" height="1.54" fill="#8272dc"/><rect x="137.51" y="365.66" width="7.01" height="1.54" fill="#9586e2"/><rect x="144.48" y="365.66" width="7.01" height="1.54" fill="#8a7bdf"/><rect x="151.44" y="365.66" width="7.01" height="1.54" fill="#a093e5"/><rect x="47.00" y="367.16" width="7.01" height="1.54" fill="#e59092"/><rect x="53.96" y="367.16" width="7.01" height="1.54" fill="#c6beef"/><rect x="60.92" y="367.16" width="7.01" height="1.54" fill="#da5e60"/><rect x="67.89" y="367.16" width="7.01" height="1.54" fill="#e28587"/><rect x="74.85" y="367.16" width="7.01" height="1.54" fill="#f5d9dd"/><rect x="81.81" y="367.16" width="7.01" height="1.54" fill="#e89c9e"/><rect x="88.78" y="367.16" width="7.01" height="1.54" fill="#e48e90"/><rect x="95.74" y="367.16" width="7.01" height="1.54" fill="#e89c9f"/><rect x="102.70" y="367.16" width="7.01" height="1.54" fill="#e4e0f8"/><rect x="109.66" y="367.16" width="7.01" height="1.54" fill="#2a0ec4"/><rect x="116.62" y="367.16" width="7.01" height="1.54" fill="#ccc4f1"/><rect x="123.59" y="367.16" width="7.01" height="1.54" fill="#f0c0c3"/><rect x="130.55" y="367.16" width="7.01" height="1.54" fill="#e9e6f9"/><rect x="137.51" y="367.16" width="7.01" height="1.54" fill="#341ac7"/><rect x="144.48" y="367.16" width="7.01" height="1.54" fill="#4e36ce"/><rect x="151.44" y="367.16" width="7.01" height="1.54" fill="#bcb2ec"/><rect x="47.00" y="368.65" width="7.01" height="1.54" fill="#e69597"/><rect x="53.96" y="368.65" width="7.01" height="1.54" fill="#f9e8ec"/><rect x="60.92" y="368.65" width="7.01" height="1.54" fill="#d75556"/><rect x="67.89" y="368.65" width="7.01" height="1.54" fill="#d54a4b"/><rect x="74.85" y="368.65" width="7.01" height="1.54" fill="#f1c5c8"/><rect x="81.81" y="368.65" width="7.01" height="1.54" fill="#db6567"/><rect x="88.78" y="368.65" width="7.01" height="1.54" fill="#eba9ac"/><rect x="95.74" y="368.65" width="7.01" height="1.54" fill="#e79a9c"/><rect x="102.70" y="368.65" width="7.01" height="1.54" fill="#d1caf2"/><rect x="109.66" y="368.65" width="7.01" height="1.54" fill="#8170dc"/><rect x="116.62" y="368.65" width="7.01" height="1.54" fill="#c8c0f0"/><rect x="123.59" y="368.65" width="7.01" height="1.54" fill="#f1c6c9"/><rect x="130.55" y="368.65" width="7.01" height="1.54" fill="#f7e0e3"/><rect x="137.51" y="368.65" width="7.01" height="1.54" fill="#2e12c5"/><rect x="144.48" y="368.65" width="7.01" height="1.54" fill="#5f4ad3"/><rect x="151.44" y="368.65" width="7.01" height="1.54" fill="#9a8ce3"/><rect x="47.00" y="370.14" width="7.01" height="1.54" fill="#db6567"/><rect x="53.96" y="370.14" width="7.01" height="1.54" fill="#e89ea0"/><rect x="60.92" y="370.14" width="7.01" height="1.54" fill="#dc6769"/><rect x="67.89" y="370.14" width="7.01" height="1.54" fill="#de7071"/><rect x="74.85" y="370.14" width="7.01" height="1.54" fill="#e17f81"/><rect x="81.81" y="370.14" width="7.01" height="1.54" fill="#dc6a6b"/><rect x="88.78" y="370.14" width="7.01" height="1.54" fill="#e89da0"/><rect x="95.74" y="370.14" width="7.01" height="1.54" fill="#f1c5c9"/><rect x="102.70" y="370.14" width="7.01" height="1.54" fill="#d3cdf3"/><rect x="109.66" y="370.14" width="7.01" height="1.54" fill="#9283e1"/><rect x="116.62" y="370.14" width="7.01" height="1.54" fill="#beb5ed"/><rect x="123.59" y="370.14" width="7.01" height="1.54" fill="#e48c8e"/><rect x="130.55" y="370.14" width="7.01" height="1.54" fill="#c9c2f0"/><rect x="137.51" y="370.14" width="7.01" height="1.54" fill="#aca1e8"/><rect x="144.48" y="370.14" width="7.01" height="1.54" fill="#8879de"/><rect x="151.44" y="370.14" width="7.01" height="1.54" fill="#dcd7f5"/><rect x="47.00" y="371.63" width="7.01" height="1.54" fill="#d13a3b"/><rect x="53.96" y="371.63" width="7.01" height="1.54" fill="#e1ddf7"/><rect x="60.92" y="371.63" width="7.01" height="1.54" fill="#e69799"/><rect x="67.89" y="371.63" width="7.01" height="1.54" fill="#db6566"/><rect x="74.85" y="371.63" width="7.01" height="1.54" fill="#e7999c"/><rect x="81.81" y="371.63" width="7.01" height="1.54" fill="#d54a4b"/><rect x="88.78" y="371.63" width="7.01" height="1.54" fill="#de7375"/><rect x="95.74" y="371.63" width="7.01" height="1.54" fill="#e59193"/><rect x="102.70" y="371.63" width="7.01" height="1.54" fill="#d6d1f4"/><rect x="109.66" y="371.63" width="7.01" height="1.54" fill="#2a0ec4"/><rect x="116.62" y="371.63" width="7.01" height="1.54" fill="#f7e1e4"/><rect x="123.59" y="371.63" width="7.01" height="1.54" fill="#f6dee2"/><rect x="130.55" y="371.63" width="7.01" height="1.54" fill="#e7e3f8"/><rect x="137.51" y="371.63" width="7.01" height="1.54" fill="#aea3e9"/><rect x="144.48" y="371.63" width="7.01" height="1.54" fill="#361bc7"/><rect x="151.44" y="371.63" width="7.01" height="1.54" fill="#a69ae6"/><rect x="47.00" y="373.12" width="7.01" height="1.54" fill="#d1393a"/><rect x="53.96" y="373.12" width="7.01" height="1.54" fill="#a699e6"/><rect x="60.92" y="373.12" width="7.01" height="1.54" fill="#de7173"/><rect x="67.89" y="373.12" width="7.01" height="1.54" fill="#cd2727"/><rect x="74.85" y="373.12" width="7.01" height="1.54" fill="#de7273"/><rect x="81.81" y="373.12" width="7.01" height="1.54" fill="#d95c5d"/><rect x="88.78" y="373.12" width="7.01" height="1.54" fill="#edb4b7"/><rect x="95.74" y="373.12" width="7.01" height="1.54" fill="#e9a3a6"/><rect x="102.70" y="373.12" width="7.01" height="1.54" fill="#705dd7"/><rect x="109.66" y="373.12" width="7.01" height="1.54" fill="#4931cd"/><rect x="116.62" y="373.12" width="7.01" height="1.54" fill="#f1eefb"/><rect x="123.59" y="373.12" width="7.01" height="1.54" fill="#efbdc0"/><rect x="130.55" y="373.12" width="7.01" height="1.54" fill="#c1b8ee"/><rect x="137.51" y="373.12" width="7.01" height="1.54" fill="#4e37ce"/><rect x="144.48" y="373.12" width="7.01" height="1.54" fill="#6f5bd7"/><rect x="151.44" y="373.12" width="7.01" height="1.54" fill="#9b8ee3"/><rect x="47.00" y="374.62" width="7.01" height="1.54" fill="#c81010"/><rect x="53.96" y="374.62" width="7.01" height="1.54" fill="#e69598"/><rect x="60.92" y="374.62" width="7.01" height="1.54" fill="#d95d5f"/><rect x="67.89" y="374.62" width="7.01" height="1.54" fill="#e3898c"/><rect x="74.85" y="374.62" width="7.01" height="1.54" fill="#c81010"/><rect x="81.81" y="374.62" width="7.01" height="1.54" fill="#d44647"/><rect x="88.78" y="374.62" width="7.01" height="1.54" fill="#d64d4e"/><rect x="95.74" y="374.62" width="7.01" height="1.54" fill="#db6465"/><rect x="102.70" y="374.62" width="7.01" height="1.54" fill="#a296e5"/><rect x="109.66" y="374.62" width="7.01" height="1.54" fill="#5d47d2"/><rect x="116.62" y="374.62" width="7.01" height="1.54" fill="#efedfb"/><rect x="123.59" y="374.62" width="7.01" height="1.54" fill="#e48d8f"/><rect x="130.55" y="374.62" width="7.01" height="1.54" fill="#a093e5"/><rect x="137.51" y="374.62" width="7.01" height="1.54" fill="#6550d4"/><rect x="144.48" y="374.62" width="7.01" height="1.54" fill="#4d36ce"/><rect x="151.44" y="374.62" width="7.01" height="1.54" fill="#9485e1"/><rect x="47.00" y="376.11" width="7.01" height="1.54" fill="#d85657"/><rect x="53.96" y="376.11" width="7.01" height="1.54" fill="#e59194"/><rect x="60.92" y="376.11" width="7.01" height="1.54" fill="#d13838"/><rect x="67.89" y="376.11" width="7.01" height="1.54" fill="#d75556"/><rect x="74.85" y="376.11" width="7.01" height="1.54" fill="#da6263"/><rect x="81.81" y="376.11" width="7.01" height="1.54" fill="#dc6769"/><rect x="88.78" y="376.11" width="7.01" height="1.54" fill="#e3898b"/><rect x="95.74" y="376.11" width="7.01" height="1.54" fill="#dc6a6c"/><rect x="102.70" y="376.11" width="7.01" height="1.54" fill="#cdc6f1"/><rect x="109.66" y="376.11" width="7.01" height="1.54" fill="#5d47d2"/><rect x="116.62" y="376.11" width="7.01" height="1.54" fill="#8f80e0"/><rect x="123.59" y="376.11" width="7.01" height="1.54" fill="#f3d0d3"/><rect x="130.55" y="376.11" width="7.01" height="1.54" fill="#cfc9f2"/><rect x="137.51" y="376.11" width="7.01" height="1.54" fill="#2a0ec4"/><rect x="144.48" y="376.11" width="7.01" height="1.54" fill="#6b58d6"/><rect x="151.44" y="376.11" width="7.01" height="1.54" fill="#a093e5"/></g>
<line x1="47.00" y1="320.40" x2="158.40" y2="320.40" stroke="#ffffff" stroke-width="1.0" stroke-dasharray="2.2,1.4"/>
<rect x="158.40" y="175.40" width="1.80" height="202.20" fill="#eeeef2" />
<text x="224.30" y="251.80" font-size="12" text-anchor="start" fill="#000" stroke="#000" stroke-width="0" font-weight="bold" >G</text>
<g><rect x="242.60" y="296.40" width="8.70" height="7.50" fill="#d8d8f8"/><rect x="242.60" y="303.90" width="8.70" height="7.50" fill="#d8d8f8"/><rect x="242.60" y="311.40" width="8.70" height="7.50" fill="#c4c4f4"/><rect x="242.60" y="318.90" width="8.70" height="7.50" fill="#d8d8f8"/><rect x="242.60" y="326.40" width="8.70" height="7.50" fill="#d8d8f8"/><rect x="242.60" y="333.90" width="8.70" height="7.50" fill="#c4c4f4"/><rect x="242.60" y="341.40" width="8.70" height="7.50" fill="#d8d8f8"/><rect x="242.60" y="348.90" width="8.70" height="7.50" fill="#d8d8f8"/><rect x="251.30" y="296.40" width="8.70" height="7.50" fill="#d8d8f8"/><rect x="251.30" y="303.90" width="8.70" height="7.50" fill="#d8d8f8"/><rect x="251.30" y="311.40" width="8.70" height="7.50" fill="#c4c4f4"/><rect x="251.30" y="318.90" width="8.70" height="7.50" fill="#d8d8f8"/><rect x="251.30" y="326.40" width="8.70" height="7.50" fill="#d8d8f8"/><rect x="251.30" y="333.90" width="8.70" height="7.50" fill="#d8d8f8"/><rect x="251.30" y="341.40" width="8.70" height="7.50" fill="#d8d8f8"/><rect x="251.30" y="348.90" width="8.70" height="7.50" fill="#d8d8f8"/><rect x="260.01" y="296.40" width="8.70" height="7.50" fill="#d8d8f8"/><rect x="260.01" y="303.90" width="8.70" height="7.50" fill="#e47a7a"/><rect x="260.01" y="311.40" width="8.70" height="7.50" fill="#e6e4f6"/><rect x="260.01" y="318.90" width="8.70" height="7.50" fill="#f2c6da"/><rect x="260.01" y="326.40" width="8.70" height="7.50" fill="#e47a7a"/><rect x="260.01" y="333.90" width="8.70" height="7.50" fill="#e6e4f6"/><rect x="260.01" y="341.40" width="8.70" height="7.50" fill="#e47a7a"/><rect x="260.01" y="348.90" width="8.70" height="7.50" fill="#d8d8f8"/><rect x="268.71" y="296.40" width="8.70" height="7.50" fill="#f2c6da"/><rect x="268.71" y="303.90" width="8.70" height="7.50" fill="#e47a7a"/><rect x="268.71" y="311.40" width="8.70" height="7.50" fill="#f2c6da"/><rect x="268.71" y="318.90" width="8.70" height="7.50" fill="#d8d8f8"/><rect x="268.71" y="326.40" width="8.70" height="7.50" fill="#f2c6da"/><rect x="268.71" y="333.90" width="8.70" height="7.50" fill="#d8d8f8"/><rect x="268.71" y="341.40" width="8.70" height="7.50" fill="#f2c6da"/><rect x="268.71" y="348.90" width="8.70" height="7.50" fill="#d8d8f8"/><rect x="277.42" y="296.40" width="8.70" height="7.50" fill="#7474e6"/><rect x="277.42" y="303.90" width="8.70" height="7.50" fill="#c4c4f4"/><rect x="277.42" y="311.40" width="8.70" height="7.50" fill="#7474e6"/><rect x="277.42" y="318.90" width="8.70" height="7.50" fill="#e6e4f6"/><rect x="277.42" y="326.40" width="8.70" height="7.50" fill="#f2c6da"/><rect x="277.42" y="333.90" width="8.70" height="7.50" fill="#d8d8f8"/><rect x="277.42" y="341.40" width="8.70" height="7.50" fill="#d8d8f8"/><rect x="277.42" y="348.90" width="8.70" height="7.50" fill="#7474e6"/><rect x="286.12" y="296.40" width="8.70" height="7.50" fill="#f2c6da"/><rect x="286.12" y="303.90" width="8.70" height="7.50" fill="#d8d8f8"/><rect x="286.12" y="311.40" width="8.70" height="7.50" fill="#f2c6da"/><rect x="286.12" y="318.90" width="8.70" height="7.50" fill="#d8d8f8"/><rect x="286.12" y="326.40" width="8.70" height="7.50" fill="#d8d8f8"/><rect x="286.12" y="333.90" width="8.70" height="7.50" fill="#d84848"/><rect x="286.12" y="341.40" width="8.70" height="7.50" fill="#d8d8f8"/><rect x="286.12" y="348.90" width="8.70" height="7.50" fill="#c4c4f4"/><rect x="294.83" y="296.40" width="8.70" height="7.50" fill="#f2c6da"/><rect x="294.83" y="303.90" width="8.70" height="7.50" fill="#d8d8f8"/><rect x="294.83" y="311.40" width="8.70" height="7.50" fill="#d8d8f8"/><rect x="294.83" y="318.90" width="8.70" height="7.50" fill="#f2c6da"/><rect x="294.83" y="326.40" width="8.70" height="7.50" fill="#d8d8f8"/><rect x="294.83" y="333.90" width="8.70" height="7.50" fill="#e47a7a"/><rect x="294.83" y="341.40" width="8.70" height="7.50" fill="#f2c6da"/><rect x="294.83" y="348.90" width="8.70" height="7.50" fill="#d8d8f8"/><rect x="303.53" y="296.40" width="8.70" height="7.50" fill="#f2c6da"/><rect x="303.53" y="303.90" width="8.70" height="7.50" fill="#d84848"/><rect x="303.53" y="311.40" width="8.70" height="7.50" fill="#d84848"/><rect x="303.53" y="318.90" width="8.70" height="7.50" fill="#e47a7a"/><rect x="303.53" y="326.40" width="8.70" height="7.50" fill="#e47a7a"/><rect x="303.53" y="333.90" width="8.70" height="7.50" fill="#d84848"/><rect x="303.53" y="341.40" width="8.70" height="7.50" fill="#d84848"/><rect x="303.53" y="348.90" width="8.70" height="7.50" fill="#e47a7a"/><rect x="312.23" y="296.40" width="8.70" height="7.50" fill="#e47a7a"/><rect x="312.23" y="303.90" width="8.70" height="7.50" fill="#e47a7a"/><rect x="312.23" y="311.40" width="8.70" height="7.50" fill="#e47a7a"/><rect x="312.23" y="318.90" width="8.70" height="7.50" fill="#e47a7a"/><rect x="312.23" y="326.40" width="8.70" height="7.50" fill="#e47a7a"/><rect x="312.23" y="333.90" width="8.70" height="7.50" fill="#d84848"/><rect x="312.23" y="341.40" width="8.70" height="7.50" fill="#d84848"/><rect x="312.23" y="348.90" width="8.70" height="7.50" fill="#e47a7a"/><rect x="320.94" y="296.40" width="8.70" height="7.50" fill="#f2c6da"/><rect x="320.94" y="303.90" width="8.70" height="7.50" fill="#d8d8f8"/><rect x="320.94" y="311.40" width="8.70" height="7.50" fill="#d8d8f8"/><rect x="320.94" y="318.90" width="8.70" height="7.50" fill="#e6e4f6"/><rect x="320.94" y="326.40" width="8.70" height="7.50" fill="#d8d8f8"/><rect x="320.94" y="333.90" width="8.70" height="7.50" fill="#d8d8f8"/><rect x="320.94" y="341.40" width="8.70" height="7.50" fill="#d8d8f8"/><rect x="320.94" y="348.90" width="8.70" height="7.50" fill="#9c9cee"/><rect x="329.64" y="296.40" width="8.70" height="7.50" fill="#2c0cc4"/><rect x="329.64" y="303.90" width="8.70" height="7.50" fill="#2c0cc4"/><rect x="329.64" y="311.40" width="8.70" height="7.50" fill="#2c0cc4"/><rect x="329.64" y="318.90" width="8.70" height="7.50" fill="#2c0cc4"/><rect x="329.64" y="326.40" width="8.70" height="7.50" fill="#2c0cc4"/><rect x="329.64" y="333.90" width="8.70" height="7.50" fill="#2c0cc4"/><rect x="329.64" y="341.40" width="8.70" height="7.50" fill="#2c0cc4"/><rect x="329.64" y="348.90" width="8.70" height="7.50" fill="#2c0cc4"/><rect x="338.35" y="296.40" width="8.70" height="7.50" fill="#d84848"/><rect x="338.35" y="303.90" width="8.70" height="7.50" fill="#eda2a2"/><rect x="338.35" y="311.40" width="8.70" height="7.50" fill="#d8d8f8"/><rect x="338.35" y="318.90" width="8.70" height="7.50" fill="#f2c6da"/><rect x="338.35" y="326.40" width="8.70" height="7.50" fill="#e47a7a"/><rect x="338.35" y="333.90" width="8.70" height="7.50" fill="#e6e4f6"/><rect x="338.35" y="341.40" width="8.70" height="7.50" fill="#e47a7a"/><rect x="338.35" y="348.90" width="8.70" height="7.50" fill="#f2c6da"/><rect x="347.05" y="296.40" width="8.70" height="7.50" fill="#c41616"/><rect x="347.05" y="303.90" width="8.70" height="7.50" fill="#d84848"/><rect x="347.05" y="311.40" width="8.70" height="7.50" fill="#d84848"/><rect x="347.05" y="318.90" width="8.70" height="7.50" fill="#d84848"/><rect x="347.05" y="326.40" width="8.70" height="7.50" fill="#d84848"/><rect x="347.05" y="333.90" width="8.70" height="7.50" fill="#c41616"/><rect x="347.05" y="341.40" width="8.70" height="7.50" fill="#c41616"/><rect x="347.05" y="348.90" width="8.70" height="7.50" fill="#d84848"/><rect x="355.76" y="296.40" width="8.70" height="7.50" fill="#2c0cc4"/><rect x="355.76" y="303.90" width="8.70" height="7.50" fill="#7474e6"/><rect x="355.76" y="311.40" width="8.70" height="7.50" fill="#2c0cc4"/><rect x="355.76" y="318.90" width="8.70" height="7.50" fill="#2c0cc4"/><rect x="355.76" y="326.40" width="8.70" height="7.50" fill="#c4c4f4"/><rect x="355.76" y="333.90" width="8.70" height="7.50" fill="#e47a7a"/><rect x="355.76" y="341.40" width="8.70" height="7.50" fill="#f2c6da"/><rect x="355.76" y="348.90" width="8.70" height="7.50" fill="#f2c6da"/><rect x="364.46" y="296.40" width="8.70" height="7.50" fill="#e47a7a"/><rect x="364.46" y="303.90" width="8.70" height="7.50" fill="#f2c6da"/><rect x="364.46" y="311.40" width="8.70" height="7.50" fill="#e47a7a"/><rect x="364.46" y="318.90" width="8.70" height="7.50" fill="#e47a7a"/><rect x="364.46" y="326.40" width="8.70" height="7.50" fill="#e47a7a"/><rect x="364.46" y="333.90" width="8.70" height="7.50" fill="#d84848"/><rect x="364.46" y="341.40" width="8.70" height="7.50" fill="#e47a7a"/><rect x="364.46" y="348.90" width="8.70" height="7.50" fill="#e47a7a"/><rect x="373.17" y="296.40" width="8.70" height="7.50" fill="#7474e6"/><rect x="373.17" y="303.90" width="8.70" height="7.50" fill="#c4c4f4"/><rect x="373.17" y="311.40" width="8.70" height="7.50" fill="#7474e6"/><rect x="373.17" y="318.90" width="8.70" height="7.50" fill="#d8d8f8"/><rect x="373.17" y="326.40" width="8.70" height="7.50" fill="#e6e4f6"/><rect x="373.17" y="333.90" width="8.70" height="7.50" fill="#d8d8f8"/><rect x="373.17" y="341.40" width="8.70" height="7.50" fill="#d8d8f8"/><rect x="373.17" y="348.90" width="8.70" height="7.50" fill="#c4c4f4"/><rect x="381.87" y="296.40" width="8.70" height="7.50" fill="#d8d8f8"/><rect x="381.87" y="303.90" width="8.70" height="7.50" fill="#d84848"/><rect x="381.87" y="311.40" width="8.70" height="7.50" fill="#d84848"/><rect x="381.87" y="318.90" width="8.70" height="7.50" fill="#e47a7a"/><rect x="381.87" y="326.40" width="8.70" height="7.50" fill="#d84848"/><rect x="381.87" y="333.90" width="8.70" height="7.50" fill="#d84848"/><rect x="381.87" y="341.40" width="8.70" height="7.50" fill="#d84848"/><rect x="381.87" y="348.90" width="8.70" height="7.50" fill="#d84848"/><rect x="390.57" y="296.40" width="8.70" height="7.50" fill="#d84848"/><rect x="390.57" y="303.90" width="8.70" height="7.50" fill="#c41616"/><rect x="390.57" y="311.40" width="8.70" height="7.50" fill="#c41616"/><rect x="390.57" y="318.90" width="8.70" height="7.50" fill="#c41616"/><rect x="390.57" y="326.40" width="8.70" height="7.50" fill="#c41616"/><rect x="390.57" y="333.90" width="8.70" height="7.50" fill="#d84848"/><rect x="390.57" y="341.40" width="8.70" height="7.50" fill="#d84848"/><rect x="390.57" y="348.90" width="8.70" height="7.50" fill="#c41616"/><rect x="399.28" y="296.40" width="8.70" height="7.50" fill="#d84848"/><rect x="399.28" y="303.90" width="8.70" height="7.50" fill="#c41616"/><rect x="399.28" y="311.40" width="8.70" height="7.50" fill="#d84848"/><rect x="399.28" y="318.90" width="8.70" height="7.50" fill="#d84848"/><rect x="399.28" y="326.40" width="8.70" height="7.50" fill="#c41616"/><rect x="399.28" y="333.90" width="8.70" height="7.50" fill="#c41616"/><rect x="399.28" y="341.40" width="8.70" height="7.50" fill="#c41616"/><rect x="399.28" y="348.90" width="8.70" height="7.50" fill="#d84848"/><rect x="407.98" y="296.40" width="8.70" height="7.50" fill="#d8d8f8"/><rect x="407.98" y="303.90" width="8.70" height="7.50" fill="#d8d8f8"/><rect x="407.98" y="311.40" width="8.70" height="7.50" fill="#d8d8f8"/><rect x="407.98" y="318.90" width="8.70" height="7.50" fill="#d8d8f8"/><rect x="407.98" y="326.40" width="8.70" height="7.50" fill="#d8d8f8"/><rect x="407.98" y="333.90" width="8.70" height="7.50" fill="#d8d8f8"/><rect x="407.98" y="341.40" width="8.70" height="7.50" fill="#d8d8f8"/><rect x="407.98" y="348.90" width="8.70" height="7.50" fill="#d8d8f8"/><rect x="416.69" y="296.40" width="8.70" height="7.50" fill="#d84848"/><rect x="416.69" y="303.90" width="8.70" height="7.50" fill="#e47a7a"/><rect x="416.69" y="311.40" width="8.70" height="7.50" fill="#e47a7a"/><rect x="416.69" y="318.90" width="8.70" height="7.50" fill="#e47a7a"/><rect x="416.69" y="326.40" width="8.70" height="7.50" fill="#e47a7a"/><rect x="416.69" y="333.90" width="8.70" height="7.50" fill="#e47a7a"/><rect x="416.69" y="341.40" width="8.70" height="7.50" fill="#d84848"/><rect x="416.69" y="348.90" width="8.70" height="7.50" fill="#e47a7a"/><rect x="425.39" y="296.40" width="8.70" height="7.50" fill="#d84848"/><rect x="425.39" y="303.90" width="8.70" height="7.50" fill="#e47a7a"/><rect x="425.39" y="311.40" width="8.70" height="7.50" fill="#e47a7a"/><rect x="425.39" y="318.90" width="8.70" height="7.50" fill="#d84848"/><rect x="425.39" y="326.40" width="8.70" height="7.50" fill="#d84848"/><rect x="425.39" y="333.90" width="8.70" height="7.50" fill="#f2c6da"/><rect x="425.39" y="341.40" width="8.70" height="7.50" fill="#e47a7a"/><rect x="425.39" y="348.90" width="8.70" height="7.50" fill="#d84848"/><rect x="434.10" y="296.40" width="8.70" height="7.50" fill="#d84848"/><rect x="434.10" y="303.90" width="8.70" height="7.50" fill="#e47a7a"/><rect x="434.10" y="311.40" width="8.70" height="7.50" fill="#e47a7a"/><rect x="434.10" y="318.90" width="8.70" height="7.50" fill="#e47a7a"/><rect x="434.10" y="326.40" width="8.70" height="7.50" fill="#f2c6da"/><rect x="434.10" y="333.90" width="8.70" height="7.50" fill="#e47a7a"/><rect x="434.10" y="341.40" width="8.70" height="7.50" fill="#e47a7a"/><rect x="434.10" y="348.90" width="8.70" height="7.50" fill="#d84848"/></g>
<line x1="251.30" y1="296.40" x2="251.30" y2="356.40" stroke="#2a2a3a" stroke-width="0.85" />
<line x1="260.01" y1="296.40" x2="260.01" y2="356.40" stroke="#2a2a3a" stroke-width="0.85" />
<line x1="268.71" y1="296.40" x2="268.71" y2="356.40" stroke="#2a2a3a" stroke-width="0.85" />
<line x1="277.42" y1="296.40" x2="277.42" y2="356.40" stroke="#2a2a3a" stroke-width="0.85" />
<line x1="286.12" y1="296.40" x2="286.12" y2="356.40" stroke="#2a2a3a" stroke-width="0.85" />
<line x1="294.83" y1="296.40" x2="294.83" y2="356.40" stroke="#2a2a3a" stroke-width="0.85" />
<line x1="303.53" y1="296.40" x2="303.53" y2="356.40" stroke="#2a2a3a" stroke-width="0.85" />
<line x1="312.23" y1="296.40" x2="312.23" y2="356.40" stroke="#2a2a3a" stroke-width="0.85" />
<line x1="320.94" y1="296.40" x2="320.94" y2="356.40" stroke="#2a2a3a" stroke-width="0.85" />
<line x1="329.64" y1="296.40" x2="329.64" y2="356.40" stroke="#2a2a3a" stroke-width="0.85" />
<line x1="338.35" y1="296.40" x2="338.35" y2="356.40" stroke="#2a2a3a" stroke-width="0.85" />
<line x1="347.05" y1="296.40" x2="347.05" y2="356.40" stroke="#2a2a3a" stroke-width="0.85" />
<line x1="355.76" y1="296.40" x2="355.76" y2="356.40" stroke="#2a2a3a" stroke-width="0.85" />
<line x1="364.46" y1="296.40" x2="364.46" y2="356.40" stroke="#2a2a3a" stroke-width="0.85" />
<line x1="373.17" y1="296.40" x2="373.17" y2="356.40" stroke="#2a2a3a" stroke-width="0.85" />
<line x1="381.87" y1="296.40" x2="381.87" y2="356.40" stroke="#2a2a3a" stroke-width="0.85" />
<line x1="390.57" y1="296.40" x2="390.57" y2="356.40" stroke="#2a2a3a" stroke-width="0.85" />
<line x1="399.28" y1="296.40" x2="399.28" y2="356.40" stroke="#2a2a3a" stroke-width="0.85" />
<line x1="407.98" y1="296.40" x2="407.98" y2="356.40" stroke="#2a2a3a" stroke-width="0.85" />
<line x1="416.69" y1="296.40" x2="416.69" y2="356.40" stroke="#2a2a3a" stroke-width="0.85" />
<line x1="425.39" y1="296.40" x2="425.39" y2="356.40" stroke="#2a2a3a" stroke-width="0.85" />
<line x1="434.10" y1="296.40" x2="434.10" y2="356.40" stroke="#2a2a3a" stroke-width="0.85" />
<line x1="242.60" y1="303.90" x2="442.80" y2="303.90" stroke="#2a2a3a" stroke-width="0.85" />
<line x1="242.60" y1="311.40" x2="442.80" y2="311.40" stroke="#2a2a3a" stroke-width="0.85" />
<line x1="242.60" y1="318.90" x2="442.80" y2="318.90" stroke="#2a2a3a" stroke-width="0.85" />
<line x1="242.60" y1="326.40" x2="442.80" y2="326.40" stroke="#2a2a3a" stroke-width="0.85" />
<line x1="242.60" y1="333.90" x2="442.80" y2="333.90" stroke="#2a2a3a" stroke-width="0.85" />
<line x1="242.60" y1="341.40" x2="442.80" y2="341.40" stroke="#2a2a3a" stroke-width="0.85" />
<line x1="242.60" y1="348.90" x2="442.80" y2="348.90" stroke="#2a2a3a" stroke-width="0.85" />
<rect x="242.60" y="296.40" width="200.20" height="60.00" fill="none" stroke="#000" stroke-width="1.9"/>
<text transform="translate(247.85,292.60) rotate(-90) scale(1.12,1)" x="0" y="0" dy="0.35em" font-size="7.3" text-anchor="start" fill="#111" stroke="#111" stroke-width="0.1" font-weight="normal">a06</text>
<text transform="translate(256.56,292.60) rotate(-90) scale(1.12,1)" x="0" y="0" dy="0.35em" font-size="7.3" text-anchor="start" fill="#111" stroke="#111" stroke-width="0.1" font-weight="normal">a09</text>
<text transform="translate(265.26,292.60) rotate(-90) scale(1.12,1)" x="0" y="0" dy="0.35em" font-size="7.3" text-anchor="start" fill="#111" stroke="#111" stroke-width="0.1" font-weight="normal">a08</text>
<text transform="translate(273.97,292.60) rotate(-90) scale(1.12,1)" x="0" y="0" dy="0.35em" font-size="7.3" text-anchor="start" fill="#111" stroke="#111" stroke-width="0.1" font-weight="normal">a13</text>
<text transform="translate(282.67,292.60) rotate(-90) scale(1.12,1)" x="0" y="0" dy="0.35em" font-size="7.3" text-anchor="start" fill="#111" stroke="#111" stroke-width="0.1" font-weight="normal">a04</text>
<text transform="translate(291.37,292.60) rotate(-90) scale(1.12,1)" x="0" y="0" dy="0.35em" font-size="7.3" text-anchor="start" fill="#111" stroke="#111" stroke-width="0.1" font-weight="normal">a10</text>
<text transform="translate(300.08,292.60) rotate(-90) scale(1.12,1)" x="0" y="0" dy="0.35em" font-size="7.3" text-anchor="start" fill="#111" stroke="#111" stroke-width="0.1" font-weight="normal">a11</text>
<text transform="translate(308.78,292.60) rotate(-90) scale(1.12,1)" x="0" y="0" dy="0.35em" font-size="7.3" text-anchor="start" fill="#111" stroke="#111" stroke-width="0.1" font-weight="normal">a12</text>
<text transform="translate(317.49,292.60) rotate(-90) scale(1.12,1)" x="0" y="0" dy="0.35em" font-size="7.3" text-anchor="start" fill="#111" stroke="#111" stroke-width="0.1" font-weight="normal">a16</text>
<text transform="translate(326.19,292.60) rotate(-90) scale(1.12,1)" x="0" y="0" dy="0.35em" font-size="7.3" text-anchor="start" fill="#111" stroke="#111" stroke-width="0.1" font-weight="normal">a14</text>
<text transform="translate(334.90,292.60) rotate(-90) scale(1.12,1)" x="0" y="0" dy="0.35em" font-size="7.3" text-anchor="start" fill="#111" stroke="#111" stroke-width="0.1" font-weight="normal">a02</text>
<text transform="translate(343.60,292.60) rotate(-90) scale(1.12,1)" x="0" y="0" dy="0.35em" font-size="7.3" text-anchor="start" fill="#111" stroke="#111" stroke-width="0.1" font-weight="normal">a22</text>
<text transform="translate(352.30,292.60) rotate(-90) scale(1.12,1)" x="0" y="0" dy="0.35em" font-size="7.3" text-anchor="start" fill="#111" stroke="#111" stroke-width="0.1" font-weight="normal">a23</text>
<text transform="translate(361.01,292.60) rotate(-90) scale(1.12,1)" x="0" y="0" dy="0.35em" font-size="7.3" text-anchor="start" fill="#111" stroke="#111" stroke-width="0.1" font-weight="normal">a01</text>
<text transform="translate(369.71,292.60) rotate(-90) scale(1.12,1)" x="0" y="0" dy="0.35em" font-size="7.3" text-anchor="start" fill="#111" stroke="#111" stroke-width="0.1" font-weight="normal">a15</text>
<text transform="translate(378.42,292.60) rotate(-90) scale(1.12,1)" x="0" y="0" dy="0.35em" font-size="7.3" text-anchor="start" fill="#111" stroke="#111" stroke-width="0.1" font-weight="normal">a03</text>
<text transform="translate(387.12,292.60) rotate(-90) scale(1.12,1)" x="0" y="0" dy="0.35em" font-size="7.3" text-anchor="start" fill="#111" stroke="#111" stroke-width="0.1" font-weight="normal">a05</text>
<text transform="translate(395.83,292.60) rotate(-90) scale(1.12,1)" x="0" y="0" dy="0.35em" font-size="7.3" text-anchor="start" fill="#111" stroke="#111" stroke-width="0.1" font-weight="normal">a19</text>
<text transform="translate(404.53,292.60) rotate(-90) scale(1.12,1)" x="0" y="0" dy="0.35em" font-size="7.3" text-anchor="start" fill="#111" stroke="#111" stroke-width="0.1" font-weight="normal">a20</text>
<text transform="translate(413.23,292.60) rotate(-90) scale(1.12,1)" x="0" y="0" dy="0.35em" font-size="7.3" text-anchor="start" fill="#111" stroke="#111" stroke-width="0.1" font-weight="normal">a07</text>
<text transform="translate(421.94,292.60) rotate(-90) scale(1.12,1)" x="0" y="0" dy="0.35em" font-size="7.3" text-anchor="start" fill="#111" stroke="#111" stroke-width="0.1" font-weight="normal">a18</text>
<text transform="translate(430.64,292.60) rotate(-90) scale(1.12,1)" x="0" y="0" dy="0.35em" font-size="7.3" text-anchor="start" fill="#111" stroke="#111" stroke-width="0.1" font-weight="normal">a17</text>
<text transform="translate(439.35,292.60) rotate(-90) scale(1.12,1)" x="0" y="0" dy="0.35em" font-size="7.3" text-anchor="start" fill="#111" stroke="#111" stroke-width="0.1" font-weight="normal">a21</text>
<text x="448.30" y="294.90" font-size="5.8" text-anchor="start" fill="#111" stroke="#111" stroke-width="0.22" font-weight="normal" >P&lt;0.05</text>
<text x="448.30" y="303.40" font-size="5.8" text-anchor="start" fill="#111" stroke="#111" stroke-width="0.22" font-weight="normal" >RAR&#945;2</text>
<text x="448.30" y="311.60" font-size="5.8" text-anchor="start" fill="#111" stroke="#111" stroke-width="0.22" font-weight="normal" >Oct4</text>
<text x="448.30" y="318.50" font-size="5.8" text-anchor="start" fill="#111" stroke="#111" stroke-width="0.22" font-weight="normal" >Sox2</text>
<text x="448.30" y="325.70" font-size="5.8" text-anchor="start" fill="#111" stroke="#111" stroke-width="0.22" font-weight="normal" >Nanog</text>
<text x="448.30" y="333.30" font-size="5.8" text-anchor="start" fill="#111" stroke="#111" stroke-width="0.22" font-weight="normal" >Lin28A</text>
<text x="448.30" y="340.10" font-size="5.8" text-anchor="start" fill="#111" stroke="#111" stroke-width="0.22" font-weight="normal" >TCF1</text>
<text x="448.30" y="346.90" font-size="5.8" text-anchor="start" fill="#111" stroke="#111" stroke-width="0.22" font-weight="normal" >Gli1</text>
<text x="448.30" y="354.80" font-size="5.8" text-anchor="start" fill="#111" stroke="#111" stroke-width="0.22" font-weight="normal" >ABCC3</text>
<line x1="288.00" y1="248.30" x2="379.20" y2="248.30" stroke="#666" stroke-width="0.7" />
<line x1="288.00" y1="248.30" x2="288.00" y2="254.40" stroke="#666" stroke-width="0.7" />
<line x1="379.20" y1="248.30" x2="379.20" y2="258.30" stroke="#666" stroke-width="0.7" />
<line x1="259.80" y1="254.40" x2="316.50" y2="254.40" stroke="#666" stroke-width="0.7" />
<line x1="259.80" y1="254.40" x2="259.80" y2="265.00" stroke="#666" stroke-width="0.7" />
<line x1="316.50" y1="254.40" x2="316.50" y2="265.60" stroke="#666" stroke-width="0.7" />
<line x1="251.50" y1="265.00" x2="268.80" y2="265.00" stroke="#666" stroke-width="0.7" />
<line x1="251.50" y1="265.00" x2="251.50" y2="272.30" stroke="#666" stroke-width="0.7" />
<line x1="268.80" y1="265.00" x2="268.80" y2="269.80" stroke="#666" stroke-width="0.7" />
<line x1="247.00" y1="272.30" x2="256.00" y2="272.30" stroke="#666" stroke-width="0.7" />
<line x1="247.00" y1="272.30" x2="247.00" y2="278.50" stroke="#666" stroke-width="0.7" />
<line x1="256.00" y1="272.30" x2="256.00" y2="278.50" stroke="#666" stroke-width="0.7" />
<line x1="264.80" y1="269.80" x2="273.50" y2="269.80" stroke="#666" stroke-width="0.7" />
<line x1="264.80" y1="269.80" x2="264.80" y2="278.50" stroke="#666" stroke-width="0.7" />
<line x1="273.50" y1="269.80" x2="273.50" y2="278.50" stroke="#666" stroke-width="0.7" />
<line x1="300.20" y1="265.60" x2="332.30" y2="265.60" stroke="#666" stroke-width="0.7" />
<line x1="300.20" y1="265.60" x2="300.20" y2="268.50" stroke="#666" stroke-width="0.7" />
<line x1="332.30" y1="265.60" x2="332.30" y2="272.30" stroke="#666" stroke-width="0.7" />
<line x1="288.70" y1="268.50" x2="311.70" y2="268.50" stroke="#666" stroke-width="0.7" />
<line x1="288.70" y1="268.50" x2="288.70" y2="271.30" stroke="#666" stroke-width="0.7" />
<line x1="311.70" y1="268.50" x2="311.70" y2="273.00" stroke="#666" stroke-width="0.7" />
<line x1="282.50" y1="271.30" x2="294.60" y2="271.30" stroke="#666" stroke-width="0.7" />
<line x1="282.50" y1="271.30" x2="282.50" y2="278.50" stroke="#666" stroke-width="0.7" />
<line x1="294.60" y1="271.30" x2="294.60" y2="274.60" stroke="#666" stroke-width="0.7" />
<line x1="290.60" y1="274.60" x2="299.30" y2="274.60" stroke="#666" stroke-width="0.7" />
<line x1="290.60" y1="274.60" x2="290.60" y2="278.50" stroke="#666" stroke-width="0.7" />
<line x1="299.30" y1="274.60" x2="299.30" y2="278.50" stroke="#666" stroke-width="0.7" />
<line x1="307.90" y1="273.00" x2="316.60" y2="273.00" stroke="#666" stroke-width="0.7" />
<line x1="307.90" y1="273.00" x2="307.90" y2="278.50" stroke="#666" stroke-width="0.7" />
<line x1="316.60" y1="273.00" x2="316.60" y2="278.50" stroke="#666" stroke-width="0.7" />
<line x1="325.30" y1="272.30" x2="339.60" y2="272.30" stroke="#666" stroke-width="0.7" />
<line x1="325.30" y1="272.30" x2="325.30" y2="278.50" stroke="#666" stroke-width="0.7" />
<line x1="339.60" y1="272.30" x2="339.60" y2="273.70" stroke="#666" stroke-width="0.7" />
<line x1="334.60" y1="273.70" x2="346.60" y2="273.70" stroke="#666" stroke-width="0.7" />
<line x1="334.60" y1="273.70" x2="334.60" y2="278.50" stroke="#666" stroke-width="0.7" />
<line x1="346.60" y1="273.70" x2="346.60" y2="274.60" stroke="#666" stroke-width="0.7" />
<line x1="343.30" y1="274.60" x2="352.00" y2="274.60" stroke="#666" stroke-width="0.7" />
<line x1="343.30" y1="274.60" x2="343.30" y2="278.50" stroke="#666" stroke-width="0.7" />
<line x1="352.00" y1="274.60" x2="352.00" y2="278.50" stroke="#666" stroke-width="0.7" />
<line x1="364.40" y1="258.30" x2="393.80" y2="258.30" stroke="#666" stroke-width="0.7" />
<line x1="364.40" y1="258.30" x2="364.40" y2="266.50" stroke="#666" stroke-width="0.7" />
<line x1="393.80" y1="258.30" x2="393.80" y2="268.50" stroke="#666" stroke-width="0.7" />
<line x1="360.60" y1="266.50" x2="369.30" y2="266.50" stroke="#666" stroke-width="0.7" />
<line x1="360.60" y1="266.50" x2="360.60" y2="278.50" stroke="#666" stroke-width="0.7" />
<line x1="369.30" y1="266.50" x2="369.30" y2="278.50" stroke="#666" stroke-width="0.7" />
<line x1="378.00" y1="268.50" x2="409.00" y2="268.50" stroke="#666" stroke-width="0.7" />
<line x1="378.00" y1="268.50" x2="378.00" y2="278.50" stroke="#666" stroke-width="0.7" />
<line x1="409.00" y1="268.50" x2="409.00" y2="269.80" stroke="#666" stroke-width="0.7" />
<line x1="392.30" y1="269.80" x2="429.80" y2="269.80" stroke="#666" stroke-width="0.7" />
<line x1="392.30" y1="269.80" x2="392.30" y2="273.70" stroke="#666" stroke-width="0.7" />
<line x1="429.80" y1="269.80" x2="429.80" y2="273.00" stroke="#666" stroke-width="0.7" />
<line x1="386.70" y1="273.70" x2="398.00" y2="273.70" stroke="#666" stroke-width="0.7" />
<line x1="386.70" y1="273.70" x2="386.70" y2="278.50" stroke="#666" stroke-width="0.7" />
<line x1="398.00" y1="273.70" x2="398.00" y2="274.60" stroke="#666" stroke-width="0.7" />
<line x1="395.40" y1="274.60" x2="404.10" y2="274.60" stroke="#666" stroke-width="0.7" />
<line x1="395.40" y1="274.60" x2="395.40" y2="278.50" stroke="#666" stroke-width="0.7" />
<line x1="404.10" y1="274.60" x2="404.10" y2="278.50" stroke="#666" stroke-width="0.7" />
<line x1="418.00" y1="273.00" x2="438.50" y2="273.00" stroke="#666" stroke-width="0.7" />
<line x1="418.00" y1="273.00" x2="418.00" y2="275.60" stroke="#666" stroke-width="0.7" />
<line x1="438.50" y1="273.00" x2="438.50" y2="278.50" stroke="#666" stroke-width="0.7" />
<line x1="412.80" y1="275.60" x2="423.20" y2="275.60" stroke="#666" stroke-width="0.7" />
<line x1="412.80" y1="275.60" x2="412.80" y2="278.50" stroke="#666" stroke-width="0.7" />
<line x1="423.20" y1="275.60" x2="423.20" y2="276.50" stroke="#666" stroke-width="0.7" />
<line x1="421.50" y1="276.50" x2="430.20" y2="276.50" stroke="#666" stroke-width="0.7" />
<line x1="421.50" y1="276.50" x2="421.50" y2="278.50" stroke="#666" stroke-width="0.7" />
<line x1="430.20" y1="276.50" x2="430.20" y2="278.50" stroke="#666" stroke-width="0.7" />
<line x1="225.80" y1="301.40" x2="225.80" y2="333.70" stroke="#666" stroke-width="0.6" />
<line x1="225.80" y1="301.40" x2="242.00" y2="301.40" stroke="#666" stroke-width="0.6" />
<line x1="225.80" y1="333.70" x2="233.00" y2="333.70" stroke="#666" stroke-width="0.6" />
<line x1="233.00" y1="321.40" x2="233.00" y2="346.10" stroke="#666" stroke-width="0.6" />
<line x1="233.00" y1="321.40" x2="236.50" y2="321.40" stroke="#666" stroke-width="0.6" />
<line x1="233.00" y1="346.10" x2="236.00" y2="346.10" stroke="#666" stroke-width="0.6" />
<line x1="236.50" y1="308.00" x2="236.50" y2="332.00" stroke="#666" stroke-width="0.6" />
<line x1="236.50" y1="308.00" x2="242.00" y2="308.00" stroke="#666" stroke-width="0.6" />
<line x1="236.50" y1="332.00" x2="242.00" y2="332.00" stroke="#666" stroke-width="0.6" />
<line x1="238.50" y1="312.00" x2="238.50" y2="327.00" stroke="#666" stroke-width="0.6" />
<line x1="238.50" y1="312.00" x2="242.00" y2="312.00" stroke="#666" stroke-width="0.6" />
<line x1="238.50" y1="327.00" x2="242.00" y2="327.00" stroke="#666" stroke-width="0.6" />
<line x1="236.00" y1="339.00" x2="236.00" y2="352.00" stroke="#666" stroke-width="0.6" />
<line x1="236.00" y1="339.00" x2="242.00" y2="339.00" stroke="#666" stroke-width="0.6" />
<line x1="236.00" y1="352.00" x2="242.00" y2="352.00" stroke="#666" stroke-width="0.6" />
<line x1="239.00" y1="342.00" x2="239.00" y2="349.00" stroke="#666" stroke-width="0.6" />
<line x1="239.00" y1="342.00" x2="242.00" y2="342.00" stroke="#666" stroke-width="0.6" />
<line x1="239.00" y1="349.00" x2="242.00" y2="349.00" stroke="#666" stroke-width="0.6" />
</svg>
</body></html>
